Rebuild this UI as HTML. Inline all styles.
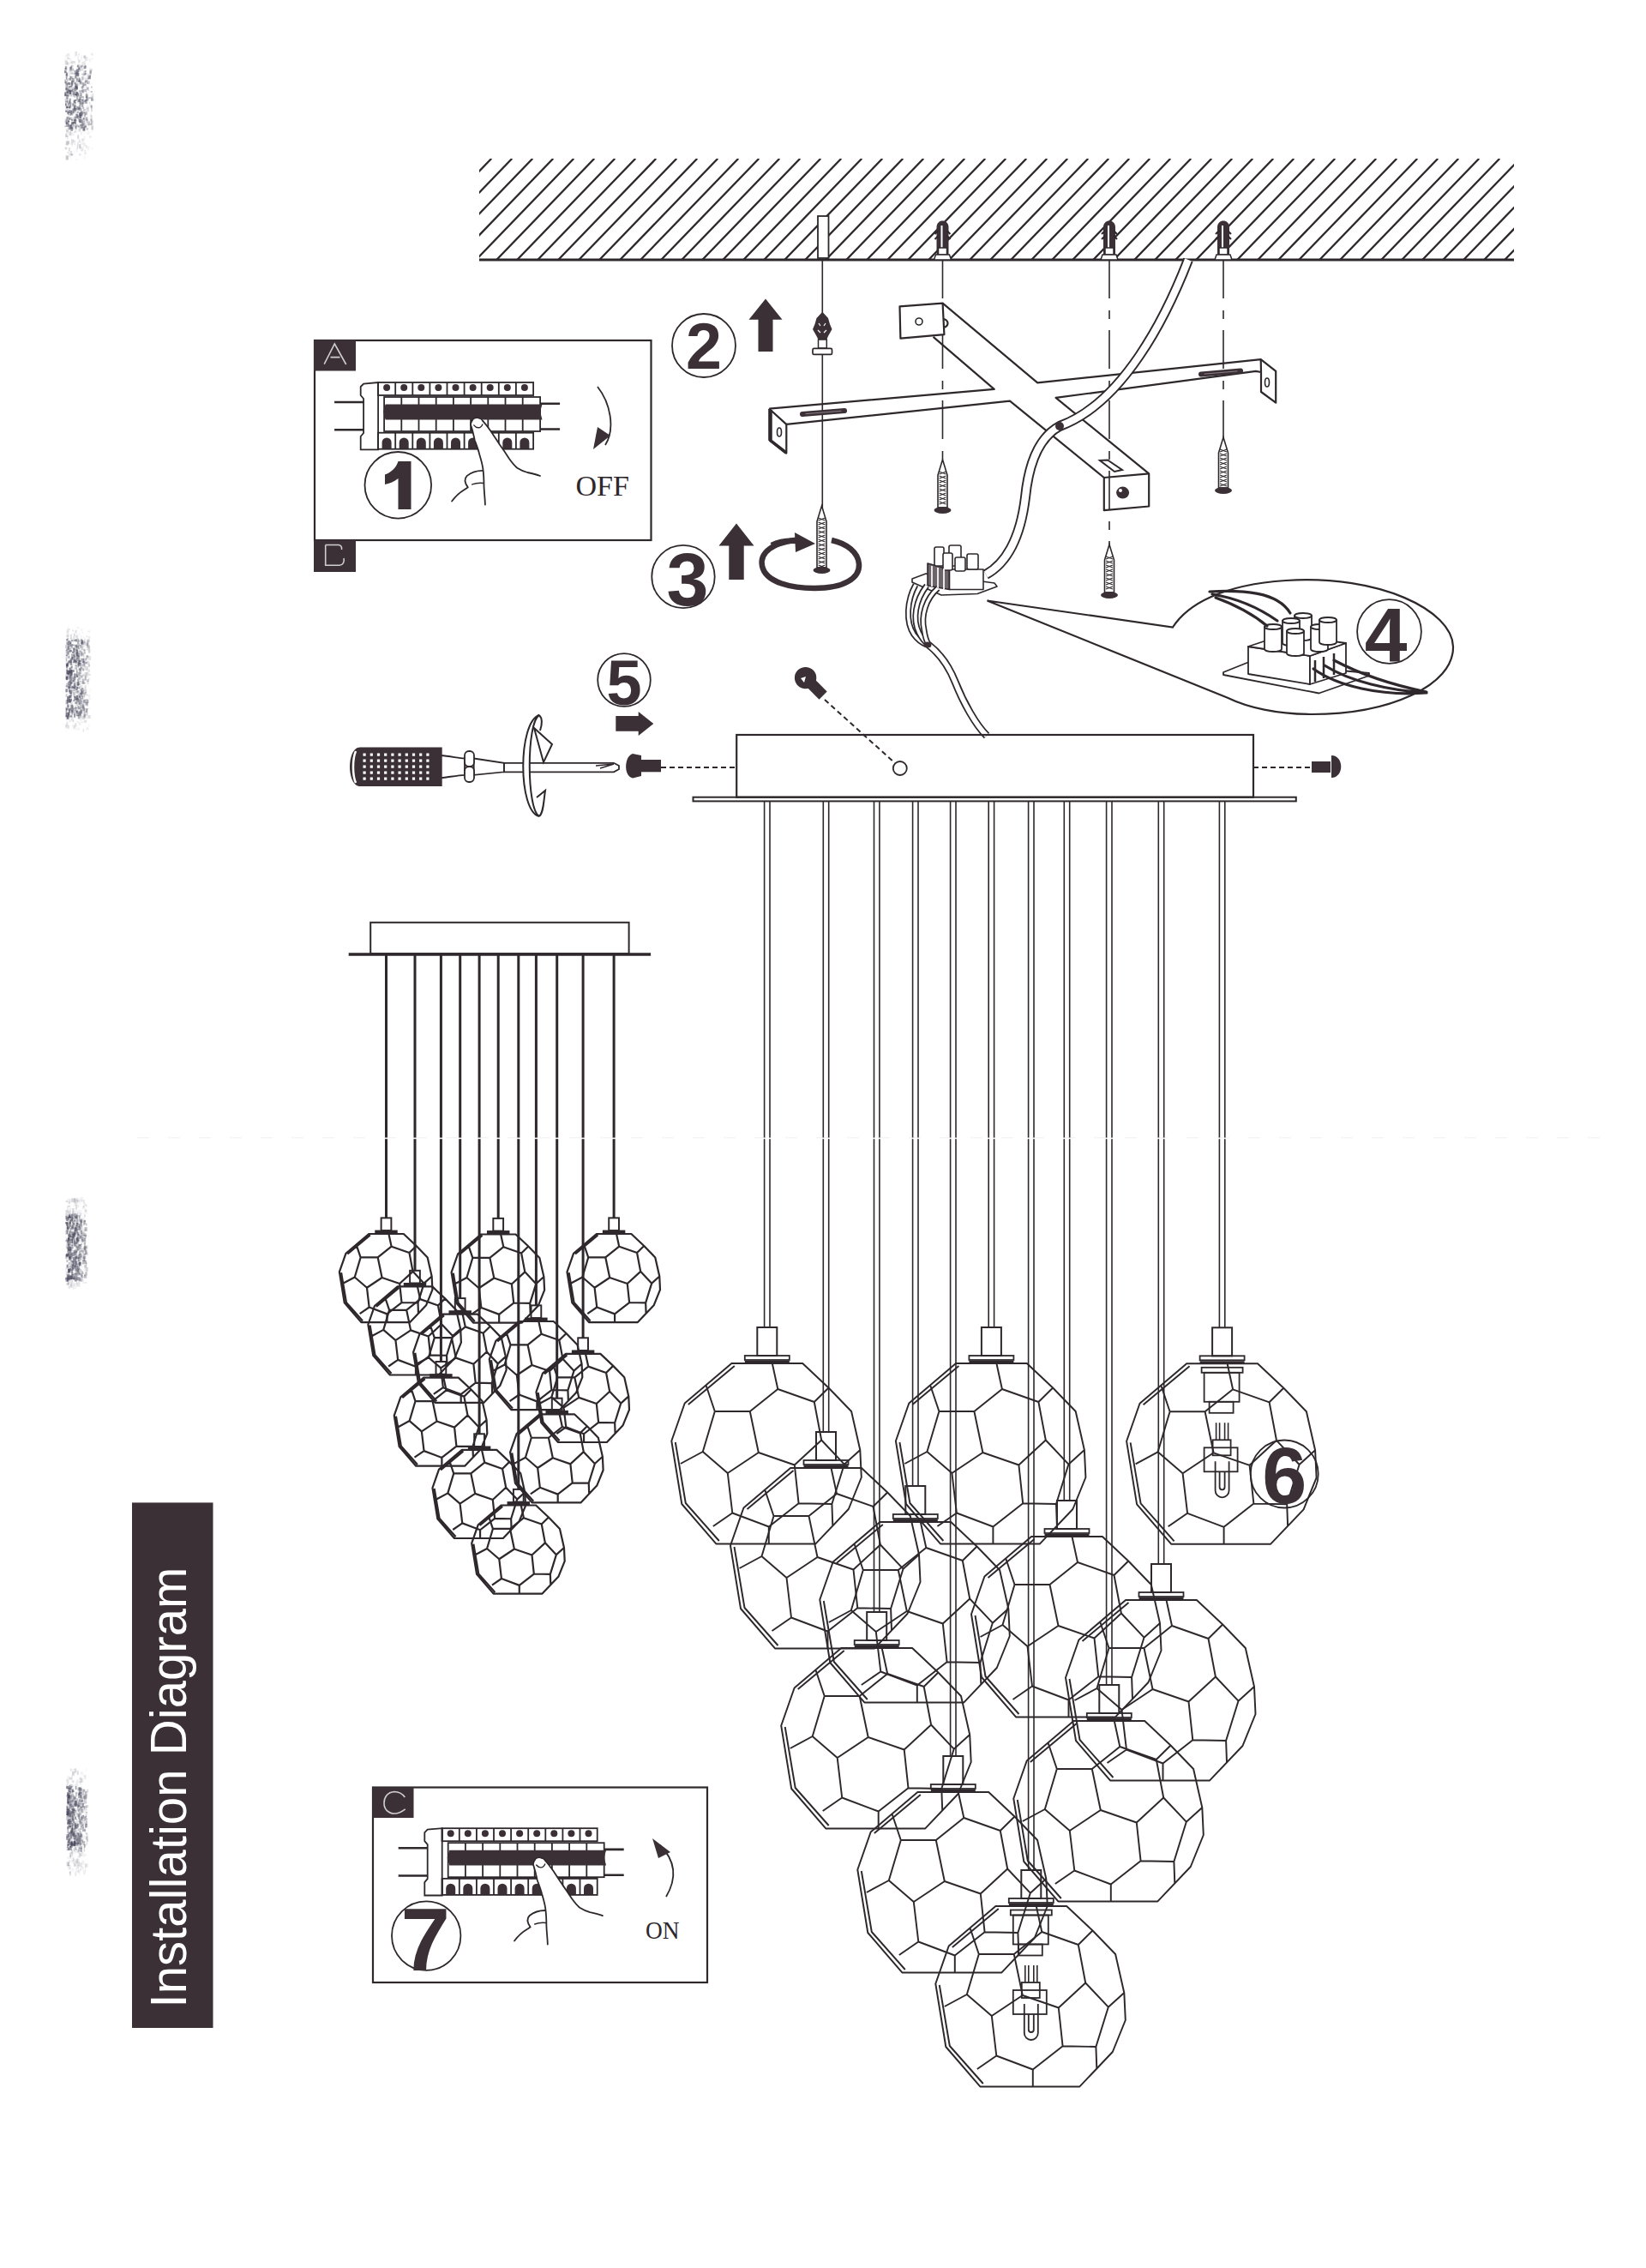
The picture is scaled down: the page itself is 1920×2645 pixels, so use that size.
<!DOCTYPE html><html><head><meta charset="utf-8"><style>html,body{margin:0;padding:0;background:#fff;}svg{display:block;}</style></head><body><svg width="1920" height="2645" viewBox="0 0 1920 2645"><defs><filter id="blur" x="-50%" y="-20%" width="200%" height="140%"><feGaussianBlur stdDeviation="2.5"/></filter></defs><rect width="1920" height="2645" fill="#ffffff"/><g fill="#4a4a5e"><rect x="79.8" y="100.5" width="1.5" height="2.0" fill-opacity="0.41"/><rect x="76.9" y="105.7" width="1.5" height="2.0" fill-opacity="0.33"/><rect x="77.2" y="114.2" width="2.5" height="2.0" fill-opacity="0.06"/><rect x="105.3" y="138.4" width="2.0" height="2.0" fill-opacity="0.15"/><rect x="79.3" y="129.6" width="3.0" height="2.0" fill-opacity="0.27"/><rect x="92.9" y="131.4" width="1.5" height="3.0" fill-opacity="0.34"/><rect x="92.5" y="106.5" width="1.5" height="3.0" fill-opacity="0.03"/><rect x="92.0" y="122.1" width="2.5" height="5.0" fill-opacity="0.39"/><rect x="82.9" y="105.2" width="2.0" height="2.0" fill-opacity="0.11"/><rect x="91.8" y="131.8" width="2.5" height="4.0" fill-opacity="0.45"/><rect x="77.3" y="136.1" width="2.0" height="4.0" fill-opacity="0.34"/><rect x="90.6" y="79.0" width="1.5" height="4.0" fill-opacity="0.02"/><rect x="86.2" y="102.5" width="2.5" height="2.0" fill-opacity="0.28"/><rect x="76.9" y="143.0" width="3.0" height="5.0" fill-opacity="0.46"/><rect x="87.3" y="95.6" width="1.5" height="5.0" fill-opacity="0.37"/><rect x="94.5" y="104.4" width="2.0" height="4.0" fill-opacity="0.24"/><rect x="82.9" y="76.2" width="2.5" height="2.0" fill-opacity="0.23"/><rect x="87.9" y="80.8" width="2.0" height="5.0" fill-opacity="0.15"/><rect x="103.3" y="104.8" width="2.0" height="3.0" fill-opacity="0.06"/><rect x="82.5" y="89.0" width="3.0" height="3.0" fill-opacity="0.29"/><rect x="75.1" y="92.8" width="2.0" height="4.0" fill-opacity="0.28"/><rect x="96.6" y="137.2" width="3.0" height="5.0" fill-opacity="0.02"/><rect x="87.6" y="109.8" width="2.5" height="2.0" fill-opacity="0.27"/><rect x="92.2" y="130.8" width="3.0" height="2.0" fill-opacity="0.48"/><rect x="105.6" y="139.3" width="1.5" height="5.0" fill-opacity="0.17"/><rect x="92.4" y="78.3" width="3.0" height="4.0" fill-opacity="0.01"/><rect x="80.3" y="105.8" width="3.0" height="4.0" fill-opacity="0.48"/><rect x="94.6" y="139.6" width="2.0" height="3.0" fill-opacity="0.38"/><rect x="86.4" y="124.7" width="1.5" height="4.0" fill-opacity="0.02"/><rect x="81.2" y="119.0" width="2.0" height="5.0" fill-opacity="0.37"/><rect x="85.8" y="118.8" width="3.0" height="2.0" fill-opacity="0.28"/><rect x="95.9" y="119.9" width="1.5" height="2.0" fill-opacity="0.37"/><rect x="105.3" y="110.2" width="2.0" height="2.0" fill-opacity="0.06"/><rect x="104.0" y="78.9" width="3.0" height="5.0" fill-opacity="0.06"/><rect x="86.2" y="142.2" width="2.0" height="2.0" fill-opacity="0.31"/><rect x="106.1" y="61.8" width="2.5" height="3.0" fill-opacity="0.11"/><rect x="82.7" y="96.6" width="2.0" height="5.0" fill-opacity="0.35"/><rect x="76.9" y="164.3" width="3.0" height="5.0" fill-opacity="0.19"/><rect x="91.3" y="79.0" width="2.0" height="2.0" fill-opacity="0.45"/><rect x="78.9" y="137.4" width="3.0" height="5.0" fill-opacity="0.04"/><rect x="83.9" y="91.1" width="3.0" height="5.0" fill-opacity="0.46"/><rect x="99.3" y="130.2" width="2.5" height="4.0" fill-opacity="0.39"/><rect x="91.2" y="136.6" width="2.0" height="5.0" fill-opacity="0.26"/><rect x="100.8" y="123.5" width="3.0" height="4.0" fill-opacity="0.10"/><rect x="88.3" y="115.9" width="2.0" height="2.0" fill-opacity="0.21"/><rect x="88.7" y="143.9" width="2.0" height="2.0" fill-opacity="0.12"/><rect x="79.9" y="172.1" width="2.0" height="4.0" fill-opacity="0.14"/><rect x="91.5" y="113.9" width="2.0" height="4.0" fill-opacity="0.17"/><rect x="98.1" y="99.8" width="3.0" height="5.0" fill-opacity="0.01"/><rect x="75.6" y="115.1" width="3.0" height="4.0" fill-opacity="0.22"/><rect x="77.1" y="124.0" width="2.0" height="2.0" fill-opacity="0.65"/><rect x="83.7" y="70.5" width="2.0" height="5.0" fill-opacity="0.04"/><rect x="96.6" y="166.2" width="3.0" height="5.0" fill-opacity="0.06"/><rect x="77.9" y="147.6" width="2.0" height="5.0" fill-opacity="0.04"/><rect x="83.3" y="71.1" width="2.0" height="2.0" fill-opacity="0.04"/><rect x="85.9" y="116.7" width="2.0" height="3.0" fill-opacity="0.32"/><rect x="97.7" y="65.4" width="2.0" height="2.0" fill-opacity="0.14"/><rect x="104.8" y="82.6" width="2.0" height="4.0" fill-opacity="0.20"/><rect x="96.5" y="115.7" width="1.5" height="4.0" fill-opacity="0.12"/><rect x="96.1" y="115.9" width="2.5" height="5.0" fill-opacity="0.30"/><rect x="81.4" y="88.7" width="2.0" height="5.0" fill-opacity="0.54"/><rect x="106.1" y="123.2" width="1.5" height="5.0" fill-opacity="0.25"/><rect x="83.6" y="83.2" width="2.0" height="4.0" fill-opacity="0.00"/><rect x="81.4" y="122.8" width="1.5" height="2.0" fill-opacity="0.31"/><rect x="77.9" y="93.0" width="1.5" height="5.0" fill-opacity="0.26"/><rect x="91.9" y="133.2" width="3.0" height="5.0" fill-opacity="0.38"/><rect x="94.8" y="95.5" width="3.0" height="5.0" fill-opacity="0.07"/><rect x="91.1" y="125.5" width="1.5" height="3.0" fill-opacity="0.43"/><rect x="76.3" y="70.6" width="2.5" height="5.0" fill-opacity="0.21"/><rect x="95.1" y="129.8" width="2.0" height="5.0" fill-opacity="0.30"/><rect x="89.6" y="93.0" width="3.0" height="2.0" fill-opacity="0.04"/><rect x="77.1" y="142.4" width="2.0" height="2.0" fill-opacity="0.49"/><rect x="82.5" y="165.8" width="2.5" height="5.0" fill-opacity="0.05"/><rect x="77.5" y="165.7" width="1.5" height="3.0" fill-opacity="0.06"/><rect x="97.1" y="144.0" width="2.0" height="4.0" fill-opacity="0.31"/><rect x="89.9" y="118.1" width="3.0" height="3.0" fill-opacity="0.06"/><rect x="77.7" y="99.0" width="2.0" height="5.0" fill-opacity="0.31"/><rect x="91.2" y="69.6" width="2.5" height="3.0" fill-opacity="0.17"/><rect x="94.3" y="104.9" width="2.0" height="2.0" fill-opacity="0.31"/><rect x="82.4" y="147.9" width="2.5" height="5.0" fill-opacity="0.54"/><rect x="84.7" y="116.3" width="2.0" height="5.0" fill-opacity="0.08"/><rect x="97.8" y="175.8" width="2.0" height="2.0" fill-opacity="0.04"/><rect x="107.0" y="109.1" width="2.5" height="4.0" fill-opacity="0.13"/><rect x="95.3" y="142.7" width="2.0" height="5.0" fill-opacity="0.07"/><rect x="81.1" y="123.9" width="2.5" height="2.0" fill-opacity="0.23"/><rect x="95.2" y="161.5" width="3.0" height="3.0" fill-opacity="0.15"/><rect x="76.6" y="149.9" width="2.0" height="4.0" fill-opacity="0.10"/><rect x="104.2" y="120.7" width="2.5" height="4.0" fill-opacity="0.07"/><rect x="83.2" y="95.2" width="2.0" height="5.0" fill-opacity="0.44"/><rect x="84.6" y="142.0" width="2.5" height="2.0" fill-opacity="0.32"/><rect x="80.2" y="80.9" width="2.5" height="3.0" fill-opacity="0.13"/><rect x="85.7" y="116.6" width="2.5" height="3.0" fill-opacity="0.43"/><rect x="82.8" y="128.5" width="3.0" height="2.0" fill-opacity="0.10"/><rect x="86.8" y="99.9" width="2.0" height="2.0" fill-opacity="0.45"/><rect x="87.1" y="125.5" width="1.5" height="5.0" fill-opacity="0.19"/><rect x="95.1" y="122.9" width="2.0" height="2.0" fill-opacity="0.41"/><rect x="83.0" y="93.9" width="2.5" height="5.0" fill-opacity="0.24"/><rect x="97.7" y="64.0" width="3.0" height="5.0" fill-opacity="0.07"/><rect x="87.5" y="60.0" width="2.5" height="5.0" fill-opacity="0.15"/><rect x="78.5" y="91.1" width="3.0" height="2.0" fill-opacity="0.10"/><rect x="98.1" y="177.7" width="2.5" height="2.0" fill-opacity="0.11"/><rect x="76.3" y="128.9" width="2.0" height="2.0" fill-opacity="0.52"/><rect x="84.7" y="140.7" width="2.0" height="5.0" fill-opacity="0.07"/><rect x="78.6" y="147.3" width="3.0" height="3.0" fill-opacity="0.05"/><rect x="82.2" y="108.5" width="1.5" height="4.0" fill-opacity="0.37"/><rect x="75.9" y="128.4" width="2.0" height="2.0" fill-opacity="0.27"/><rect x="90.9" y="62.7" width="2.0" height="3.0" fill-opacity="0.07"/><rect x="81.3" y="145.3" width="3.0" height="2.0" fill-opacity="0.49"/><rect x="84.4" y="155.1" width="2.0" height="3.0" fill-opacity="0.09"/><rect x="80.9" y="148.7" width="2.0" height="2.0" fill-opacity="0.28"/><rect x="104.9" y="83.2" width="2.5" height="4.0" fill-opacity="0.01"/><rect x="93.0" y="170.6" width="2.0" height="5.0" fill-opacity="0.06"/><rect x="89.3" y="127.7" width="2.5" height="2.0" fill-opacity="0.17"/><rect x="82.9" y="139.0" width="2.5" height="2.0" fill-opacity="0.37"/><rect x="89.8" y="106.9" width="1.5" height="4.0" fill-opacity="0.43"/><rect x="77.0" y="84.4" width="2.0" height="4.0" fill-opacity="0.40"/><rect x="97.1" y="153.3" width="3.0" height="2.0" fill-opacity="0.04"/><rect x="88.8" y="91.4" width="2.5" height="3.0" fill-opacity="0.27"/><rect x="79.8" y="146.5" width="2.0" height="5.0" fill-opacity="0.15"/><rect x="99.1" y="84.7" width="1.5" height="2.0" fill-opacity="0.11"/><rect x="92.4" y="120.2" width="2.5" height="2.0" fill-opacity="0.08"/><rect x="91.0" y="72.1" width="2.0" height="3.0" fill-opacity="0.08"/><rect x="94.8" y="112.1" width="3.0" height="2.0" fill-opacity="0.32"/><rect x="83.1" y="93.5" width="2.5" height="3.0" fill-opacity="0.16"/><rect x="82.5" y="83.2" width="3.0" height="3.0" fill-opacity="0.17"/><rect x="87.7" y="100.8" width="3.0" height="3.0" fill-opacity="0.55"/><rect x="78.2" y="141.2" width="1.5" height="2.0" fill-opacity="0.30"/><rect x="87.0" y="116.0" width="2.0" height="2.0" fill-opacity="0.49"/><rect x="94.2" y="66.3" width="1.5" height="4.0" fill-opacity="0.03"/><rect x="80.7" y="124.1" width="1.5" height="2.0" fill-opacity="0.38"/><rect x="97.7" y="139.7" width="1.5" height="4.0" fill-opacity="0.16"/><rect x="76.4" y="102.5" width="1.5" height="3.0" fill-opacity="0.66"/><rect x="94.9" y="106.5" width="1.5" height="5.0" fill-opacity="0.04"/><rect x="77.0" y="128.5" width="2.5" height="3.0" fill-opacity="0.07"/><rect x="77.9" y="139.9" width="2.0" height="5.0" fill-opacity="0.11"/><rect x="98.9" y="66.4" width="1.5" height="4.0" fill-opacity="0.06"/><rect x="87.5" y="140.6" width="1.5" height="5.0" fill-opacity="0.22"/><rect x="88.6" y="172.7" width="2.0" height="5.0" fill-opacity="0.07"/><rect x="104.7" y="131.6" width="2.0" height="4.0" fill-opacity="0.06"/><rect x="80.5" y="80.2" width="2.5" height="5.0" fill-opacity="0.04"/><rect x="76.4" y="164.7" width="3.0" height="5.0" fill-opacity="0.07"/><rect x="97.8" y="70.8" width="2.0" height="5.0" fill-opacity="0.13"/><rect x="81.3" y="136.8" width="3.0" height="3.0" fill-opacity="0.29"/><rect x="79.8" y="104.9" width="2.0" height="2.0" fill-opacity="0.61"/><rect x="102.0" y="170.5" width="2.5" height="5.0" fill-opacity="0.04"/><rect x="95.1" y="128.8" width="2.5" height="4.0" fill-opacity="0.15"/><rect x="88.6" y="132.8" width="2.5" height="5.0" fill-opacity="0.36"/><rect x="75.1" y="82.3" width="2.5" height="3.0" fill-opacity="0.65"/><rect x="94.8" y="115.9" width="2.0" height="5.0" fill-opacity="0.39"/><rect x="77.1" y="110.0" width="2.0" height="2.0" fill-opacity="0.24"/><rect x="91.1" y="160.3" width="2.0" height="2.0" fill-opacity="0.01"/><rect x="85.0" y="175.3" width="3.0" height="5.0" fill-opacity="0.02"/><rect x="94.7" y="68.3" width="2.0" height="5.0" fill-opacity="0.02"/><rect x="101.0" y="96.0" width="2.0" height="2.0" fill-opacity="0.29"/><rect x="94.6" y="100.5" width="2.5" height="3.0" fill-opacity="0.43"/><rect x="94.7" y="134.0" width="2.0" height="2.0" fill-opacity="0.11"/><rect x="87.9" y="84.9" width="2.0" height="4.0" fill-opacity="0.35"/><rect x="80.4" y="171.9" width="3.0" height="2.0" fill-opacity="0.02"/><rect x="86.5" y="139.5" width="3.0" height="2.0" fill-opacity="0.49"/><rect x="92.1" y="91.5" width="2.0" height="4.0" fill-opacity="0.43"/><rect x="86.8" y="107.0" width="2.0" height="2.0" fill-opacity="0.08"/><rect x="80.7" y="115.3" width="1.5" height="4.0" fill-opacity="0.46"/><rect x="83.1" y="162.5" width="3.0" height="4.0" fill-opacity="0.19"/><rect x="95.0" y="96.4" width="2.0" height="2.0" fill-opacity="0.20"/><rect x="82.3" y="76.5" width="1.5" height="2.0" fill-opacity="0.40"/><rect x="82.2" y="104.6" width="3.0" height="3.0" fill-opacity="0.35"/><rect x="95.0" y="85.5" width="2.0" height="2.0" fill-opacity="0.23"/><rect x="95.4" y="72.0" width="2.5" height="4.0" fill-opacity="0.12"/><rect x="76.8" y="180.9" width="3.0" height="5.0" fill-opacity="0.19"/><rect x="91.6" y="135.2" width="2.0" height="2.0" fill-opacity="0.25"/><rect x="76.9" y="89.7" width="1.5" height="3.0" fill-opacity="0.51"/><rect x="81.4" y="77.8" width="3.0" height="5.0" fill-opacity="0.37"/><rect x="76.6" y="97.5" width="2.5" height="2.0" fill-opacity="0.59"/><rect x="89.0" y="106.9" width="1.5" height="5.0" fill-opacity="0.49"/><rect x="78.9" y="140.5" width="2.0" height="2.0" fill-opacity="0.57"/><rect x="92.7" y="93.2" width="3.0" height="4.0" fill-opacity="0.22"/><rect x="104.7" y="97.0" width="3.0" height="2.0" fill-opacity="0.03"/><rect x="104.0" y="81.2" width="2.0" height="4.0" fill-opacity="0.08"/><rect x="87.4" y="84.0" width="2.5" height="5.0" fill-opacity="0.33"/><rect x="92.0" y="119.0" width="1.5" height="5.0" fill-opacity="0.00"/><rect x="82.5" y="179.5" width="2.5" height="2.0" fill-opacity="0.16"/><rect x="80.5" y="130.7" width="1.5" height="2.0" fill-opacity="0.02"/><rect x="80.2" y="137.7" width="1.5" height="2.0" fill-opacity="0.61"/><rect x="97.2" y="65.2" width="1.5" height="2.0" fill-opacity="0.10"/><rect x="92.1" y="179.3" width="2.5" height="2.0" fill-opacity="0.15"/><rect x="81.5" y="90.8" width="1.5" height="4.0" fill-opacity="0.02"/><rect x="79.2" y="119.6" width="2.0" height="4.0" fill-opacity="0.50"/><rect x="88.6" y="99.9" width="2.0" height="4.0" fill-opacity="0.01"/><rect x="99.3" y="66.1" width="3.0" height="5.0" fill-opacity="0.11"/><rect x="89.0" y="111.6" width="2.0" height="5.0" fill-opacity="0.42"/><rect x="92.2" y="148.1" width="1.5" height="4.0" fill-opacity="0.11"/><rect x="75.0" y="81.3" width="1.5" height="2.0" fill-opacity="0.13"/><rect x="78.1" y="103.5" width="2.0" height="5.0" fill-opacity="0.45"/><rect x="105.6" y="134.1" width="2.0" height="4.0" fill-opacity="0.21"/><rect x="105.0" y="80.7" width="3.0" height="2.0" fill-opacity="0.18"/><rect x="86.4" y="138.5" width="2.5" height="2.0" fill-opacity="0.23"/><rect x="95.7" y="112.8" width="2.0" height="4.0" fill-opacity="0.17"/><rect x="92.4" y="113.5" width="2.0" height="5.0" fill-opacity="0.09"/><rect x="94.0" y="75.9" width="3.0" height="2.0" fill-opacity="0.34"/><rect x="85.5" y="103.6" width="2.5" height="4.0" fill-opacity="0.09"/><rect x="89.0" y="81.2" width="3.0" height="3.0" fill-opacity="0.42"/><rect x="89.8" y="75.8" width="2.0" height="3.0" fill-opacity="0.47"/><rect x="99.2" y="93.4" width="3.0" height="3.0" fill-opacity="0.36"/><rect x="106.2" y="150.4" width="2.0" height="4.0" fill-opacity="0.04"/><rect x="83.3" y="179.5" width="2.0" height="2.0" fill-opacity="0.19"/><rect x="79.8" y="84.4" width="2.0" height="4.0" fill-opacity="0.09"/><rect x="81.3" y="114.4" width="1.5" height="4.0" fill-opacity="0.39"/><rect x="87.4" y="85.8" width="2.5" height="5.0" fill-opacity="0.02"/><rect x="91.0" y="146.7" width="2.5" height="2.0" fill-opacity="0.33"/><rect x="94.3" y="77.7" width="2.0" height="5.0" fill-opacity="0.20"/><rect x="93.8" y="147.6" width="2.0" height="3.0" fill-opacity="0.32"/><rect x="95.5" y="144.9" width="2.0" height="4.0" fill-opacity="0.21"/><rect x="78.1" y="138.5" width="2.5" height="3.0" fill-opacity="0.27"/><rect x="88.6" y="91.3" width="3.0" height="5.0" fill-opacity="0.25"/><rect x="96.2" y="124.8" width="2.0" height="2.0" fill-opacity="0.41"/><rect x="90.7" y="108.6" width="1.5" height="4.0" fill-opacity="0.51"/><rect x="80.1" y="127.9" width="2.0" height="4.0" fill-opacity="0.49"/><rect x="91.4" y="149.7" width="3.0" height="4.0" fill-opacity="0.14"/><rect x="87.6" y="145.5" width="1.5" height="4.0" fill-opacity="0.42"/><rect x="83.1" y="139.7" width="1.5" height="2.0" fill-opacity="0.23"/><rect x="104.3" y="69.4" width="1.5" height="3.0" fill-opacity="0.07"/><rect x="87.8" y="97.9" width="2.0" height="5.0" fill-opacity="0.52"/><rect x="80.3" y="117.8" width="1.5" height="3.0" fill-opacity="0.58"/><rect x="93.0" y="118.6" width="2.0" height="4.0" fill-opacity="0.11"/><rect x="101.6" y="143.3" width="2.0" height="3.0" fill-opacity="0.17"/><rect x="90.0" y="157.5" width="2.5" height="4.0" fill-opacity="0.04"/><rect x="85.3" y="141.8" width="3.0" height="2.0" fill-opacity="0.28"/><rect x="86.6" y="142.4" width="2.5" height="2.0" fill-opacity="0.52"/><rect x="96.0" y="132.8" width="1.5" height="4.0" fill-opacity="0.10"/><rect x="78.2" y="91.3" width="2.0" height="3.0" fill-opacity="0.09"/><rect x="94.5" y="171.4" width="3.0" height="4.0" fill-opacity="0.11"/><rect x="97.2" y="84.7" width="2.5" height="2.0" fill-opacity="0.24"/><rect x="83.5" y="129.4" width="2.0" height="5.0" fill-opacity="0.14"/><rect x="76.9" y="121.6" width="2.0" height="5.0" fill-opacity="0.31"/><rect x="80.3" y="90.8" width="1.5" height="3.0" fill-opacity="0.38"/><rect x="95.4" y="139.6" width="3.0" height="2.0" fill-opacity="0.01"/><rect x="76.1" y="172.2" width="2.0" height="2.0" fill-opacity="0.14"/><rect x="99.7" y="125.7" width="2.5" height="4.0" fill-opacity="0.09"/><rect x="92.7" y="112.8" width="2.0" height="4.0" fill-opacity="0.41"/><rect x="91.2" y="94.0" width="2.5" height="2.0" fill-opacity="0.50"/><rect x="85.1" y="101.4" width="3.0" height="2.0" fill-opacity="0.17"/><rect x="76.3" y="158.0" width="3.0" height="2.0" fill-opacity="0.19"/><rect x="78.5" y="109.8" width="2.5" height="2.0" fill-opacity="0.03"/><rect x="104.1" y="158.6" width="3.0" height="2.0" fill-opacity="0.08"/><rect x="96.3" y="86.6" width="2.0" height="2.0" fill-opacity="0.21"/><rect x="101.4" y="125.3" width="2.5" height="5.0" fill-opacity="0.17"/><rect x="103.7" y="119.0" width="1.5" height="2.0" fill-opacity="0.17"/><rect x="90.1" y="75.2" width="3.0" height="3.0" fill-opacity="0.15"/><rect x="98.8" y="116.3" width="2.0" height="3.0" fill-opacity="0.40"/><rect x="77.7" y="151.2" width="2.5" height="4.0" fill-opacity="0.15"/><rect x="103.3" y="67.6" width="2.0" height="3.0" fill-opacity="0.05"/><rect x="80.2" y="179.2" width="2.5" height="4.0" fill-opacity="0.10"/><rect x="106.2" y="67.6" width="3.0" height="2.0" fill-opacity="0.04"/><rect x="94.3" y="145.6" width="2.5" height="4.0" fill-opacity="0.43"/><rect x="85.3" y="146.1" width="2.0" height="2.0" fill-opacity="0.15"/><rect x="79.5" y="96.1" width="3.0" height="3.0" fill-opacity="0.57"/><rect x="102.2" y="94.2" width="2.5" height="4.0" fill-opacity="0.28"/><rect x="92.3" y="126.8" width="2.5" height="3.0" fill-opacity="0.24"/><rect x="98.1" y="158.5" width="1.5" height="5.0" fill-opacity="0.05"/><rect x="81.6" y="118.2" width="1.5" height="5.0" fill-opacity="0.16"/><rect x="77.8" y="117.5" width="1.5" height="3.0" fill-opacity="0.53"/><rect x="91.7" y="109.8" width="3.0" height="4.0" fill-opacity="0.13"/><rect x="93.9" y="119.6" width="2.0" height="2.0" fill-opacity="0.09"/><rect x="97.4" y="82.6" width="3.0" height="4.0" fill-opacity="0.16"/><rect x="91.6" y="110.3" width="1.5" height="5.0" fill-opacity="0.08"/><rect x="78.4" y="106.8" width="1.5" height="3.0" fill-opacity="0.41"/><rect x="76.0" y="99.5" width="3.0" height="2.0" fill-opacity="0.19"/><rect x="81.5" y="71.8" width="3.0" height="3.0" fill-opacity="0.11"/><rect x="99.9" y="92.7" width="2.5" height="3.0" fill-opacity="0.18"/><rect x="76.2" y="91.7" width="2.0" height="5.0" fill-opacity="0.13"/><rect x="89.7" y="168.8" width="1.5" height="5.0" fill-opacity="0.16"/><rect x="82.5" y="99.8" width="3.0" height="5.0" fill-opacity="0.05"/><rect x="98.1" y="89.4" width="2.0" height="4.0" fill-opacity="0.08"/><rect x="98.9" y="84.9" width="2.5" height="2.0" fill-opacity="0.26"/><rect x="86.9" y="118.8" width="2.0" height="5.0" fill-opacity="0.22"/><rect x="89.1" y="107.5" width="1.5" height="5.0" fill-opacity="0.43"/><rect x="82.1" y="176.0" width="2.0" height="5.0" fill-opacity="0.17"/><rect x="77.4" y="62.7" width="2.0" height="5.0" fill-opacity="0.07"/><rect x="82.9" y="112.3" width="3.0" height="4.0" fill-opacity="0.02"/><rect x="80.4" y="101.8" width="2.0" height="5.0" fill-opacity="0.31"/><rect x="78.7" y="172.9" width="2.0" height="5.0" fill-opacity="0.01"/><rect x="78.8" y="164.4" width="2.5" height="4.0" fill-opacity="0.20"/><rect x="84.4" y="150.8" width="3.0" height="4.0" fill-opacity="0.00"/><rect x="89.2" y="123.8" width="3.0" height="4.0" fill-opacity="0.42"/><rect x="88.9" y="83.2" width="2.0" height="4.0" fill-opacity="0.49"/><rect x="79.4" y="131.4" width="2.0" height="3.0" fill-opacity="0.11"/><rect x="77.5" y="84.6" width="3.0" height="5.0" fill-opacity="0.06"/><rect x="95.1" y="143.7" width="2.0" height="3.0" fill-opacity="0.09"/><rect x="84.0" y="103.5" width="2.5" height="2.0" fill-opacity="0.38"/><rect x="94.0" y="106.4" width="3.0" height="5.0" fill-opacity="0.00"/><rect x="101.6" y="90.6" width="2.5" height="2.0" fill-opacity="0.32"/><rect x="78.4" y="96.4" width="2.5" height="2.0" fill-opacity="0.47"/><rect x="92.2" y="126.3" width="1.5" height="3.0" fill-opacity="0.01"/><rect x="80.4" y="137.4" width="3.0" height="2.0" fill-opacity="0.20"/><rect x="89.2" y="89.8" width="1.5" height="3.0" fill-opacity="0.19"/><rect x="83.9" y="122.6" width="2.5" height="3.0" fill-opacity="0.07"/><rect x="82.3" y="127.7" width="3.0" height="5.0" fill-opacity="0.14"/><rect x="80.3" y="153.3" width="2.5" height="5.0" fill-opacity="0.19"/><rect x="94.3" y="134.6" width="1.5" height="4.0" fill-opacity="0.02"/><rect x="82.7" y="102.3" width="2.5" height="4.0" fill-opacity="0.20"/><rect x="105.7" y="124.7" width="2.5" height="2.0" fill-opacity="0.09"/><rect x="92.0" y="105.6" width="2.5" height="3.0" fill-opacity="0.04"/><rect x="75.7" y="123.1" width="2.5" height="5.0" fill-opacity="0.09"/><rect x="100.9" y="139.2" width="1.5" height="4.0" fill-opacity="0.37"/><rect x="95.0" y="174.7" width="1.5" height="2.0" fill-opacity="0.13"/><rect x="91.6" y="91.3" width="1.5" height="4.0" fill-opacity="0.22"/><rect x="105.7" y="67.5" width="3.0" height="3.0" fill-opacity="0.01"/><rect x="91.4" y="115.0" width="2.5" height="4.0" fill-opacity="0.45"/><rect x="98.5" y="94.3" width="2.0" height="5.0" fill-opacity="0.33"/><rect x="93.2" y="136.2" width="2.0" height="4.0" fill-opacity="0.32"/><rect x="92.5" y="117.6" width="2.5" height="4.0" fill-opacity="0.31"/><rect x="80.2" y="175.5" width="2.0" height="5.0" fill-opacity="0.07"/><rect x="86.1" y="135.7" width="3.0" height="5.0" fill-opacity="0.37"/><rect x="86.3" y="164.3" width="2.0" height="5.0" fill-opacity="0.10"/><rect x="86.3" y="102.1" width="3.0" height="4.0" fill-opacity="0.38"/><rect x="91.6" y="162.6" width="2.5" height="4.0" fill-opacity="0.12"/><rect x="97.7" y="158.1" width="1.5" height="2.0" fill-opacity="0.02"/><rect x="92.6" y="111.3" width="2.5" height="3.0" fill-opacity="0.06"/><rect x="100.1" y="112.2" width="2.5" height="5.0" fill-opacity="0.26"/><rect x="84.2" y="146.6" width="2.0" height="5.0" fill-opacity="0.21"/><rect x="94.1" y="125.8" width="1.5" height="5.0" fill-opacity="0.32"/><rect x="84.6" y="107.6" width="2.0" height="5.0" fill-opacity="0.31"/><rect x="93.6" y="131.9" width="2.0" height="4.0" fill-opacity="0.04"/><rect x="106.1" y="100.7" width="1.5" height="2.0" fill-opacity="0.35"/><rect x="85.0" y="127.1" width="2.5" height="5.0" fill-opacity="0.36"/><rect x="86.4" y="108.7" width="2.0" height="5.0" fill-opacity="0.34"/><rect x="93.4" y="130.2" width="2.5" height="5.0" fill-opacity="0.43"/><rect x="99.6" y="110.2" width="3.0" height="4.0" fill-opacity="0.39"/><rect x="98.9" y="146.4" width="2.0" height="4.0" fill-opacity="0.04"/><rect x="77.4" y="105.8" width="2.0" height="2.0" fill-opacity="0.20"/><rect x="84.4" y="142.0" width="3.0" height="5.0" fill-opacity="0.20"/><rect x="91.8" y="138.9" width="2.0" height="3.0" fill-opacity="0.42"/><rect x="76.9" y="111.5" width="1.5" height="4.0" fill-opacity="0.37"/><rect x="95.2" y="131.2" width="2.5" height="2.0" fill-opacity="0.34"/><rect x="84.8" y="158.5" width="2.0" height="5.0" fill-opacity="0.00"/><rect x="93.8" y="165.3" width="2.5" height="4.0" fill-opacity="0.03"/><rect x="81.4" y="78.0" width="2.0" height="3.0" fill-opacity="0.37"/><rect x="91.3" y="124.8" width="1.5" height="3.0" fill-opacity="0.01"/><rect x="100.6" y="113.8" width="3.0" height="4.0" fill-opacity="0.29"/><rect x="82.6" y="78.0" width="1.5" height="4.0" fill-opacity="0.17"/><rect x="102.5" y="138.6" width="2.0" height="5.0" fill-opacity="0.03"/><rect x="75.6" y="138.0" width="2.5" height="2.0" fill-opacity="0.15"/><rect x="94.8" y="115.0" width="1.5" height="3.0" fill-opacity="0.12"/><rect x="90.5" y="169.4" width="2.0" height="3.0" fill-opacity="0.04"/><rect x="81.0" y="104.8" width="2.0" height="5.0" fill-opacity="0.60"/><rect x="78.7" y="130.2" width="2.5" height="4.0" fill-opacity="0.34"/><rect x="77.1" y="110.4" width="2.0" height="3.0" fill-opacity="0.08"/><rect x="89.9" y="108.4" width="2.5" height="2.0" fill-opacity="0.18"/><rect x="75.8" y="94.9" width="2.0" height="3.0" fill-opacity="0.53"/><rect x="83.6" y="71.6" width="2.5" height="5.0" fill-opacity="0.02"/><rect x="98.1" y="104.1" width="3.0" height="3.0" fill-opacity="0.17"/><rect x="90.2" y="97.2" width="2.5" height="3.0" fill-opacity="0.11"/><rect x="106.7" y="115.0" width="3.0" height="3.0" fill-opacity="0.14"/><rect x="99.0" y="75.7" width="1.5" height="4.0" fill-opacity="0.30"/><rect x="97.2" y="148.8" width="2.0" height="4.0" fill-opacity="0.35"/><rect x="89.9" y="165.5" width="2.0" height="4.0" fill-opacity="0.11"/><rect x="86.7" y="82.0" width="2.0" height="5.0" fill-opacity="0.45"/><rect x="87.8" y="185.0" width="2.0" height="2.0" fill-opacity="0.02"/><rect x="94.5" y="93.9" width="1.5" height="5.0" fill-opacity="0.11"/><rect x="87.2" y="97.9" width="2.0" height="3.0" fill-opacity="0.02"/><rect x="82.3" y="130.6" width="3.0" height="4.0" fill-opacity="0.30"/><rect x="78.6" y="177.0" width="1.5" height="2.0" fill-opacity="0.14"/><rect x="99.9" y="99.8" width="1.5" height="5.0" fill-opacity="0.15"/><rect x="87.6" y="146.8" width="2.0" height="4.0" fill-opacity="0.41"/><rect x="86.2" y="125.9" width="2.5" height="4.0" fill-opacity="0.54"/><rect x="98.6" y="146.5" width="2.5" height="2.0" fill-opacity="0.36"/><rect x="81.6" y="144.6" width="2.0" height="5.0" fill-opacity="0.41"/><rect x="76.4" y="155.2" width="2.0" height="3.0" fill-opacity="0.17"/><rect x="106.0" y="128.3" width="2.0" height="2.0" fill-opacity="0.20"/><rect x="86.1" y="81.0" width="2.0" height="3.0" fill-opacity="0.05"/><rect x="97.6" y="77.1" width="2.0" height="3.0" fill-opacity="0.30"/><rect x="97.3" y="140.1" width="2.0" height="3.0" fill-opacity="0.06"/><rect x="101.1" y="101.7" width="2.0" height="3.0" fill-opacity="0.32"/><rect x="89.8" y="134.8" width="2.0" height="2.0" fill-opacity="0.41"/><rect x="75.4" y="146.3" width="1.5" height="2.0" fill-opacity="0.32"/><rect x="93.2" y="115.6" width="3.0" height="2.0" fill-opacity="0.14"/><rect x="90.0" y="65.7" width="2.0" height="4.0" fill-opacity="0.08"/><rect x="92.4" y="83.7" width="1.5" height="4.0" fill-opacity="0.00"/><rect x="104.9" y="138.5" width="2.0" height="2.0" fill-opacity="0.09"/><rect x="75.9" y="77.3" width="2.0" height="4.0" fill-opacity="0.51"/><rect x="105.8" y="106.0" width="2.0" height="2.0" fill-opacity="0.33"/><rect x="92.6" y="106.1" width="2.0" height="3.0" fill-opacity="0.18"/><rect x="78.4" y="67.2" width="2.5" height="2.0" fill-opacity="0.19"/><rect x="84.6" y="79.7" width="1.5" height="3.0" fill-opacity="0.34"/><rect x="80.2" y="146.0" width="2.5" height="2.0" fill-opacity="0.28"/><rect x="86.9" y="87.3" width="3.0" height="5.0" fill-opacity="0.02"/><rect x="77.3" y="77.9" width="2.5" height="4.0" fill-opacity="0.04"/><rect x="75.3" y="67.8" width="2.0" height="5.0" fill-opacity="0.04"/><rect x="89.2" y="97.0" width="2.0" height="3.0" fill-opacity="0.30"/><rect x="92.4" y="118.6" width="2.5" height="3.0" fill-opacity="0.26"/><rect x="105.8" y="181.8" width="2.0" height="4.0" fill-opacity="0.01"/><rect x="88.5" y="130.6" width="2.0" height="4.0" fill-opacity="0.20"/><rect x="92.0" y="168.2" width="2.0" height="5.0" fill-opacity="0.14"/><rect x="79.7" y="146.4" width="3.0" height="5.0" fill-opacity="0.37"/><rect x="82.7" y="105.0" width="2.0" height="2.0" fill-opacity="0.27"/><rect x="82.1" y="153.7" width="2.0" height="4.0" fill-opacity="0.13"/><rect x="82.3" y="148.6" width="3.0" height="2.0" fill-opacity="0.28"/><rect x="96.7" y="166.4" width="3.0" height="2.0" fill-opacity="0.02"/><rect x="105.7" y="138.3" width="2.5" height="3.0" fill-opacity="0.17"/><rect x="86.9" y="71.6" width="1.5" height="4.0" fill-opacity="0.07"/><rect x="97.5" y="65.2" width="1.5" height="3.0" fill-opacity="0.07"/><rect x="103.4" y="113.2" width="3.0" height="2.0" fill-opacity="0.34"/><rect x="85.9" y="153.2" width="2.0" height="2.0" fill-opacity="0.13"/><rect x="91.4" y="89.9" width="2.0" height="5.0" fill-opacity="0.27"/><rect x="89.3" y="84.1" width="3.0" height="5.0" fill-opacity="0.45"/><rect x="97.0" y="96.3" width="2.0" height="4.0" fill-opacity="0.17"/><rect x="97.1" y="127.3" width="2.5" height="2.0" fill-opacity="0.37"/><rect x="76.0" y="120.5" width="1.5" height="3.0" fill-opacity="0.55"/><rect x="95.6" y="137.6" width="2.5" height="3.0" fill-opacity="0.28"/><rect x="89.4" y="146.6" width="3.0" height="2.0" fill-opacity="0.12"/><rect x="91.9" y="105.1" width="2.0" height="2.0" fill-opacity="0.16"/><rect x="101.2" y="86.4" width="2.5" height="5.0" fill-opacity="0.14"/><rect x="82.3" y="120.4" width="3.0" height="2.0" fill-opacity="0.15"/><rect x="98.3" y="138.9" width="2.5" height="4.0" fill-opacity="0.06"/><rect x="93.7" y="131.7" width="1.5" height="2.0" fill-opacity="0.07"/><rect x="99.8" y="169.0" width="2.0" height="4.0" fill-opacity="0.09"/><rect x="82.6" y="159.1" width="1.5" height="4.0" fill-opacity="0.03"/><rect x="82.8" y="166.7" width="2.0" height="2.0" fill-opacity="0.14"/><rect x="96.5" y="148.0" width="2.5" height="4.0" fill-opacity="0.41"/><rect x="103.4" y="85.7" width="2.5" height="4.0" fill-opacity="0.16"/><rect x="104.6" y="83.8" width="2.0" height="5.0" fill-opacity="0.12"/><rect x="99.8" y="104.6" width="1.5" height="5.0" fill-opacity="0.18"/><rect x="80.6" y="99.9" width="3.0" height="2.0" fill-opacity="0.56"/><rect x="76.6" y="76.1" width="3.0" height="4.0" fill-opacity="0.05"/><rect x="75.5" y="140.3" width="1.5" height="3.0" fill-opacity="0.21"/><rect x="94.5" y="120.8" width="2.0" height="2.0" fill-opacity="0.39"/><rect x="99.8" y="136.6" width="2.5" height="4.0" fill-opacity="0.42"/><rect x="95.9" y="99.6" width="2.5" height="4.0" fill-opacity="0.15"/><rect x="75.6" y="79.6" width="3.0" height="2.0" fill-opacity="0.14"/><rect x="86.6" y="104.7" width="3.0" height="3.0" fill-opacity="0.19"/><rect x="94.3" y="142.2" width="3.0" height="4.0" fill-opacity="0.16"/><rect x="95.9" y="140.9" width="2.5" height="4.0" fill-opacity="0.26"/><rect x="91.9" y="105.2" width="2.0" height="2.0" fill-opacity="0.14"/><rect x="78.2" y="129.8" width="2.0" height="3.0" fill-opacity="0.52"/><rect x="82.3" y="183.7" width="1.5" height="3.0" fill-opacity="0.02"/><rect x="92.4" y="75.3" width="2.0" height="4.0" fill-opacity="0.10"/><rect x="98.6" y="82.2" width="2.0" height="2.0" fill-opacity="0.41"/><rect x="97.7" y="103.9" width="2.5" height="3.0" fill-opacity="0.20"/><rect x="86.0" y="139.5" width="2.5" height="3.0" fill-opacity="0.45"/><rect x="77.1" y="151.7" width="2.0" height="2.0" fill-opacity="0.09"/><rect x="87.0" y="88.5" width="2.5" height="3.0" fill-opacity="0.51"/><rect x="75.7" y="63.8" width="2.0" height="3.0" fill-opacity="0.05"/><rect x="88.6" y="100.8" width="2.5" height="3.0" fill-opacity="0.15"/><rect x="99.6" y="176.7" width="2.0" height="4.0" fill-opacity="0.02"/><rect x="75.1" y="71.1" width="2.0" height="5.0" fill-opacity="0.05"/><rect x="76.7" y="86.5" width="2.0" height="2.0" fill-opacity="0.52"/><rect x="78.6" y="63.1" width="2.0" height="3.0" fill-opacity="0.00"/><rect x="86.3" y="122.8" width="2.5" height="5.0" fill-opacity="0.43"/><rect x="85.9" y="71.3" width="2.0" height="2.0" fill-opacity="0.13"/><rect x="81.4" y="133.2" width="1.5" height="2.0" fill-opacity="0.39"/><rect x="94.0" y="76.9" width="1.5" height="2.0" fill-opacity="0.28"/><rect x="105.6" y="73.8" width="2.0" height="3.0" fill-opacity="0.00"/><rect x="92.5" y="139.2" width="3.0" height="4.0" fill-opacity="0.50"/><rect x="76.3" y="100.7" width="2.0" height="4.0" fill-opacity="0.30"/><rect x="106.4" y="146.3" width="2.5" height="5.0" fill-opacity="0.26"/><rect x="88.4" y="99.8" width="2.5" height="5.0" fill-opacity="0.53"/><rect x="100.7" y="170.2" width="3.0" height="4.0" fill-opacity="0.03"/><rect x="98.4" y="146.7" width="2.0" height="2.0" fill-opacity="0.44"/><rect x="89.2" y="145.6" width="2.5" height="2.0" fill-opacity="0.36"/><rect x="95.7" y="119.2" width="2.0" height="5.0" fill-opacity="0.22"/><rect x="95.1" y="89.3" width="2.5" height="4.0" fill-opacity="0.35"/><rect x="96.7" y="136.6" width="3.0" height="3.0" fill-opacity="0.15"/><rect x="93.3" y="133.7" width="1.5" height="4.0" fill-opacity="0.49"/><rect x="91.9" y="125.5" width="2.0" height="3.0" fill-opacity="0.41"/><rect x="96.2" y="79.1" width="1.5" height="4.0" fill-opacity="0.08"/><rect x="101.6" y="107.7" width="2.0" height="4.0" fill-opacity="0.05"/><rect x="86.7" y="106.9" width="3.0" height="4.0" fill-opacity="0.37"/><rect x="77.8" y="116.6" width="2.5" height="2.0" fill-opacity="0.26"/><rect x="90.3" y="116.2" width="3.0" height="3.0" fill-opacity="0.42"/><rect x="94.9" y="142.5" width="2.5" height="4.0" fill-opacity="0.25"/><rect x="80.7" y="67.2" width="2.0" height="4.0" fill-opacity="0.06"/><rect x="100.4" y="112.9" width="1.5" height="5.0" fill-opacity="0.16"/><rect x="76.3" y="107.0" width="2.5" height="5.0" fill-opacity="0.50"/><rect x="93.5" y="108.2" width="2.0" height="4.0" fill-opacity="0.45"/><rect x="81.5" y="67.9" width="2.5" height="5.0" fill-opacity="0.02"/><rect x="88.3" y="109.2" width="1.5" height="2.0" fill-opacity="0.51"/><rect x="89.8" y="134.1" width="2.5" height="5.0" fill-opacity="0.24"/><rect x="79.3" y="109.7" width="1.5" height="3.0" fill-opacity="0.48"/><rect x="92.7" y="145.0" width="2.5" height="2.0" fill-opacity="0.38"/><rect x="90.9" y="61.9" width="2.5" height="2.0" fill-opacity="0.04"/><rect x="92.6" y="167.9" width="2.0" height="5.0" fill-opacity="0.14"/><rect x="91.6" y="101.8" width="3.0" height="4.0" fill-opacity="0.00"/><rect x="77.8" y="125.0" width="2.0" height="5.0" fill-opacity="0.25"/><rect x="88.4" y="123.9" width="2.0" height="3.0" fill-opacity="0.03"/><rect x="76.7" y="85.3" width="2.0" height="5.0" fill-opacity="0.35"/><rect x="97.7" y="142.0" width="2.0" height="3.0" fill-opacity="0.06"/><rect x="97.6" y="117.1" width="2.0" height="2.0" fill-opacity="0.30"/><rect x="88.1" y="126.6" width="2.0" height="2.0" fill-opacity="0.31"/><rect x="100.7" y="148.8" width="2.5" height="3.0" fill-opacity="0.19"/><rect x="76.6" y="139.9" width="1.5" height="5.0" fill-opacity="0.57"/><rect x="104.5" y="82.5" width="2.5" height="3.0" fill-opacity="0.30"/><rect x="96.6" y="144.2" width="2.0" height="3.0" fill-opacity="0.14"/><rect x="78.0" y="72.6" width="2.5" height="3.0" fill-opacity="0.20"/><rect x="83.2" y="142.4" width="2.5" height="3.0" fill-opacity="0.54"/><rect x="89.3" y="80.0" width="3.0" height="4.0" fill-opacity="0.41"/><rect x="98.0" y="148.4" width="2.0" height="4.0" fill-opacity="0.14"/><rect x="81.9" y="128.6" width="2.0" height="5.0" fill-opacity="0.58"/><rect x="96.0" y="96.4" width="2.0" height="5.0" fill-opacity="0.32"/><rect x="80.9" y="78.6" width="2.5" height="2.0" fill-opacity="0.21"/><rect x="86.3" y="64.9" width="3.0" height="2.0" fill-opacity="0.04"/><rect x="86.1" y="96.3" width="2.5" height="2.0" fill-opacity="0.43"/><rect x="84.0" y="85.1" width="3.0" height="2.0" fill-opacity="0.18"/><rect x="90.1" y="85.2" width="2.0" height="4.0" fill-opacity="0.40"/><rect x="94.2" y="64.1" width="2.0" height="4.0" fill-opacity="0.05"/><rect x="98.8" y="90.9" width="2.0" height="2.0" fill-opacity="0.08"/><rect x="89.6" y="150.5" width="2.0" height="5.0" fill-opacity="0.02"/><rect x="76.1" y="117.7" width="1.5" height="5.0" fill-opacity="0.34"/><rect x="79.2" y="140.9" width="2.0" height="2.0" fill-opacity="0.37"/><rect x="96.2" y="106.8" width="2.0" height="2.0" fill-opacity="0.08"/><rect x="102.0" y="101.5" width="2.0" height="4.0" fill-opacity="0.19"/><rect x="92.2" y="122.0" width="2.5" height="3.0" fill-opacity="0.06"/><rect x="92.1" y="80.5" width="2.0" height="3.0" fill-opacity="0.26"/><rect x="92.8" y="95.4" width="2.0" height="3.0" fill-opacity="0.49"/><rect x="75.5" y="171.3" width="3.0" height="3.0" fill-opacity="0.11"/><rect x="82.3" y="146.1" width="2.0" height="4.0" fill-opacity="0.45"/><rect x="88.6" y="184.8" width="3.0" height="2.0" fill-opacity="0.02"/><rect x="100.1" y="134.4" width="2.0" height="2.0" fill-opacity="0.03"/><rect x="97.1" y="137.3" width="2.0" height="2.0" fill-opacity="0.37"/><rect x="89.8" y="161.3" width="2.5" height="5.0" fill-opacity="0.00"/><rect x="80.3" y="123.9" width="2.0" height="3.0" fill-opacity="0.50"/><rect x="82.0" y="84.8" width="1.5" height="2.0" fill-opacity="0.20"/><rect x="104.1" y="157.4" width="1.5" height="4.0" fill-opacity="0.03"/><rect x="78.0" y="158.3" width="2.0" height="5.0" fill-opacity="0.07"/><rect x="98.9" y="144.1" width="2.0" height="2.0" fill-opacity="0.06"/><rect x="101.6" y="153.1" width="3.0" height="4.0" fill-opacity="0.06"/><rect x="94.0" y="153.5" width="1.5" height="4.0" fill-opacity="0.10"/><rect x="93.0" y="133.5" width="3.0" height="2.0" fill-opacity="0.44"/><rect x="100.1" y="109.0" width="2.0" height="5.0" fill-opacity="0.29"/><rect x="77.8" y="110.8" width="2.0" height="5.0" fill-opacity="0.43"/><rect x="78.5" y="62.0" width="3.0" height="4.0" fill-opacity="0.09"/><rect x="85.7" y="117.2" width="2.0" height="5.0" fill-opacity="0.12"/><rect x="83.7" y="71.0" width="3.0" height="3.0" fill-opacity="0.09"/><rect x="96.9" y="75.1" width="2.0" height="5.0" fill-opacity="0.02"/><rect x="103.5" y="88.0" width="2.5" height="4.0" fill-opacity="0.35"/><rect x="105.6" y="122.5" width="2.0" height="3.0" fill-opacity="0.36"/><rect x="75.3" y="108.9" width="1.5" height="3.0" fill-opacity="0.56"/><rect x="78.2" y="104.0" width="3.0" height="5.0" fill-opacity="0.36"/><rect x="99.1" y="76.9" width="2.5" height="2.0" fill-opacity="0.11"/><rect x="85.6" y="124.3" width="2.0" height="4.0" fill-opacity="0.15"/><rect x="97.7" y="98.2" width="3.0" height="2.0" fill-opacity="0.31"/><rect x="76.8" y="182.0" width="3.0" height="5.0" fill-opacity="0.15"/><rect x="99.0" y="116.0" width="3.0" height="5.0" fill-opacity="0.39"/><rect x="93.5" y="133.4" width="2.5" height="3.0" fill-opacity="0.02"/><rect x="106.3" y="112.6" width="2.5" height="5.0" fill-opacity="0.29"/><rect x="97.7" y="180.4" width="2.0" height="5.0" fill-opacity="0.04"/><rect x="91.5" y="77.5" width="2.0" height="4.0" fill-opacity="0.45"/><rect x="89.0" y="100.1" width="2.0" height="4.0" fill-opacity="0.06"/><rect x="87.3" y="109.2" width="2.0" height="2.0" fill-opacity="0.53"/><rect x="95.4" y="164.6" width="2.0" height="4.0" fill-opacity="0.05"/><rect x="99.1" y="143.8" width="2.0" height="5.0" fill-opacity="0.12"/><rect x="84.2" y="126.2" width="2.0" height="5.0" fill-opacity="0.37"/><rect x="76.3" y="156.4" width="2.0" height="4.0" fill-opacity="0.12"/><rect x="82.8" y="93.2" width="3.0" height="2.0" fill-opacity="0.04"/><rect x="106.0" y="140.6" width="2.5" height="5.0" fill-opacity="0.25"/><rect x="85.8" y="122.5" width="2.0" height="5.0" fill-opacity="0.49"/><rect x="77.1" y="102.3" width="3.0" height="2.0" fill-opacity="0.27"/><rect x="93.4" y="110.5" width="2.0" height="3.0" fill-opacity="0.14"/><rect x="84.0" y="75.6" width="2.5" height="4.0" fill-opacity="0.02"/><rect x="97.5" y="76.4" width="3.0" height="4.0" fill-opacity="0.32"/><rect x="99.7" y="149.0" width="3.0" height="3.0" fill-opacity="0.07"/><rect x="84.4" y="120.5" width="2.0" height="3.0" fill-opacity="0.55"/><rect x="88.6" y="123.1" width="2.0" height="2.0" fill-opacity="0.03"/><rect x="87.8" y="133.1" width="3.0" height="5.0" fill-opacity="0.28"/><rect x="102.8" y="88.3" width="3.0" height="4.0" fill-opacity="0.32"/><rect x="83.1" y="142.2" width="3.0" height="3.0" fill-opacity="0.38"/><rect x="106.0" y="113.9" width="2.0" height="4.0" fill-opacity="0.23"/><rect x="78.6" y="137.0" width="2.0" height="2.0" fill-opacity="0.11"/><rect x="97.5" y="84.7" width="2.0" height="3.0" fill-opacity="0.09"/><rect x="97.4" y="130.0" width="1.5" height="2.0" fill-opacity="0.44"/><rect x="98.1" y="167.9" width="2.0" height="3.0" fill-opacity="0.04"/><rect x="85.1" y="130.7" width="1.5" height="2.0" fill-opacity="0.20"/><rect x="97.8" y="63.7" width="2.0" height="4.0" fill-opacity="0.05"/><rect x="90.1" y="157.2" width="2.0" height="5.0" fill-opacity="0.16"/><rect x="106.2" y="172.2" width="2.5" height="3.0" fill-opacity="0.03"/><rect x="96.0" y="104.2" width="2.0" height="4.0" fill-opacity="0.44"/><rect x="87.3" y="151.6" width="2.0" height="3.0" fill-opacity="0.15"/><rect x="75.3" y="107.4" width="1.5" height="5.0" fill-opacity="0.55"/><rect x="89.8" y="129.9" width="2.0" height="2.0" fill-opacity="0.41"/><rect x="89.6" y="85.0" width="2.5" height="2.0" fill-opacity="0.31"/><rect x="98.0" y="131.3" width="2.0" height="5.0" fill-opacity="0.38"/><rect x="102.6" y="141.5" width="2.5" height="5.0" fill-opacity="0.29"/><rect x="78.8" y="135.7" width="2.5" height="2.0" fill-opacity="0.32"/><rect x="100.6" y="147.5" width="3.0" height="3.0" fill-opacity="0.00"/><rect x="98.7" y="139.2" width="1.5" height="3.0" fill-opacity="0.02"/><rect x="104.8" y="144.0" width="2.0" height="2.0" fill-opacity="0.35"/><rect x="75.6" y="79.2" width="1.5" height="2.0" fill-opacity="0.50"/><rect x="78.4" y="124.0" width="2.5" height="2.0" fill-opacity="0.51"/><rect x="76.0" y="69.0" width="3.0" height="2.0" fill-opacity="0.02"/><rect x="96.2" y="148.2" width="2.5" height="5.0" fill-opacity="0.29"/><rect x="92.9" y="143.8" width="2.0" height="5.0" fill-opacity="0.10"/><rect x="97.7" y="86.1" width="2.5" height="2.0" fill-opacity="0.33"/><rect x="77.8" y="136.6" width="1.5" height="2.0" fill-opacity="0.34"/><rect x="84.7" y="105.9" width="2.0" height="5.0" fill-opacity="0.44"/><rect x="106.3" y="135.8" width="1.5" height="2.0" fill-opacity="0.00"/><rect x="89.6" y="125.0" width="3.0" height="3.0" fill-opacity="0.22"/><rect x="98.4" y="174.6" width="1.5" height="2.0" fill-opacity="0.13"/><rect x="79.3" y="143.8" width="1.5" height="3.0" fill-opacity="0.58"/><rect x="84.4" y="137.3" width="2.0" height="4.0" fill-opacity="0.15"/><rect x="80.2" y="107.8" width="2.5" height="4.0" fill-opacity="0.10"/><rect x="83.0" y="94.3" width="1.5" height="4.0" fill-opacity="0.25"/><rect x="103.4" y="88.8" width="2.0" height="4.0" fill-opacity="0.13"/><rect x="85.0" y="163.2" width="3.0" height="2.0" fill-opacity="0.07"/><rect x="92.2" y="141.2" width="2.5" height="2.0" fill-opacity="0.47"/><rect x="82.1" y="808.4" width="1.5" height="4.0" fill-opacity="0.46"/><rect x="79.3" y="782.2" width="3.0" height="5.0" fill-opacity="0.61"/><rect x="80.7" y="804.3" width="2.0" height="5.0" fill-opacity="0.60"/><rect x="83.2" y="760.1" width="2.0" height="4.0" fill-opacity="0.02"/><rect x="94.4" y="804.8" width="2.0" height="2.0" fill-opacity="0.34"/><rect x="95.5" y="802.3" width="1.5" height="2.0" fill-opacity="0.14"/><rect x="78.1" y="794.8" width="3.0" height="2.0" fill-opacity="0.05"/><rect x="94.2" y="817.4" width="2.0" height="5.0" fill-opacity="0.24"/><rect x="78.8" y="751.5" width="2.5" height="3.0" fill-opacity="0.20"/><rect x="96.4" y="783.8" width="2.5" height="4.0" fill-opacity="0.04"/><rect x="81.8" y="769.0" width="2.0" height="2.0" fill-opacity="0.24"/><rect x="98.5" y="833.5" width="1.5" height="3.0" fill-opacity="0.12"/><rect x="78.5" y="738.8" width="2.0" height="4.0" fill-opacity="0.14"/><rect x="80.0" y="751.9" width="1.5" height="5.0" fill-opacity="0.06"/><rect x="78.5" y="760.7" width="1.5" height="2.0" fill-opacity="0.38"/><rect x="83.5" y="765.8" width="2.0" height="4.0" fill-opacity="0.55"/><rect x="80.9" y="795.6" width="2.0" height="4.0" fill-opacity="0.23"/><rect x="90.6" y="774.3" width="2.0" height="3.0" fill-opacity="0.06"/><rect x="86.7" y="764.5" width="2.0" height="3.0" fill-opacity="0.43"/><rect x="97.4" y="837.3" width="2.5" height="4.0" fill-opacity="0.03"/><rect x="77.4" y="835.2" width="2.0" height="4.0" fill-opacity="0.18"/><rect x="95.9" y="785.7" width="1.5" height="5.0" fill-opacity="0.04"/><rect x="80.9" y="788.0" width="2.5" height="2.0" fill-opacity="0.14"/><rect x="77.9" y="744.3" width="2.5" height="3.0" fill-opacity="0.24"/><rect x="96.8" y="756.9" width="2.5" height="2.0" fill-opacity="0.24"/><rect x="90.3" y="793.1" width="1.5" height="2.0" fill-opacity="0.16"/><rect x="89.1" y="787.8" width="2.0" height="2.0" fill-opacity="0.50"/><rect x="93.7" y="827.6" width="2.0" height="4.0" fill-opacity="0.05"/><rect x="90.3" y="761.1" width="3.0" height="2.0" fill-opacity="0.32"/><rect x="95.2" y="807.9" width="2.0" height="5.0" fill-opacity="0.01"/><rect x="79.9" y="810.4" width="2.5" height="4.0" fill-opacity="0.23"/><rect x="77.0" y="756.3" width="2.0" height="3.0" fill-opacity="0.29"/><rect x="84.8" y="766.8" width="1.5" height="5.0" fill-opacity="0.12"/><rect x="77.8" y="788.6" width="2.5" height="3.0" fill-opacity="0.25"/><rect x="82.1" y="805.2" width="2.0" height="4.0" fill-opacity="0.51"/><rect x="94.7" y="771.5" width="2.0" height="3.0" fill-opacity="0.01"/><rect x="93.0" y="828.2" width="3.0" height="5.0" fill-opacity="0.23"/><rect x="82.7" y="746.7" width="2.5" height="3.0" fill-opacity="0.07"/><rect x="97.1" y="768.9" width="2.5" height="3.0" fill-opacity="0.07"/><rect x="82.2" y="799.0" width="2.0" height="5.0" fill-opacity="0.09"/><rect x="88.2" y="741.5" width="2.0" height="2.0" fill-opacity="0.17"/><rect x="103.1" y="765.0" width="3.0" height="5.0" fill-opacity="0.15"/><rect x="98.6" y="832.7" width="1.5" height="5.0" fill-opacity="0.21"/><rect x="94.4" y="759.5" width="2.0" height="3.0" fill-opacity="0.27"/><rect x="92.6" y="782.8" width="2.5" height="3.0" fill-opacity="0.12"/><rect x="102.8" y="834.0" width="3.0" height="4.0" fill-opacity="0.15"/><rect x="78.1" y="812.0" width="3.0" height="5.0" fill-opacity="0.49"/><rect x="85.2" y="755.7" width="2.5" height="5.0" fill-opacity="0.53"/><rect x="97.3" y="771.1" width="2.0" height="5.0" fill-opacity="0.41"/><rect x="102.9" y="779.5" width="2.0" height="5.0" fill-opacity="0.08"/><rect x="97.5" y="810.3" width="2.0" height="3.0" fill-opacity="0.05"/><rect x="93.2" y="837.0" width="2.5" height="4.0" fill-opacity="0.07"/><rect x="86.0" y="799.8" width="2.5" height="4.0" fill-opacity="0.40"/><rect x="89.5" y="751.2" width="2.0" height="5.0" fill-opacity="0.01"/><rect x="102.9" y="774.7" width="2.0" height="3.0" fill-opacity="0.30"/><rect x="84.4" y="822.7" width="1.5" height="5.0" fill-opacity="0.15"/><rect x="100.5" y="832.8" width="1.5" height="5.0" fill-opacity="0.08"/><rect x="83.6" y="817.8" width="1.5" height="3.0" fill-opacity="0.04"/><rect x="101.2" y="751.1" width="1.5" height="2.0" fill-opacity="0.09"/><rect x="78.1" y="786.9" width="2.0" height="5.0" fill-opacity="0.23"/><rect x="77.5" y="737.7" width="2.0" height="4.0" fill-opacity="0.03"/><rect x="79.9" y="790.7" width="3.0" height="2.0" fill-opacity="0.39"/><rect x="76.5" y="765.7" width="1.5" height="5.0" fill-opacity="0.21"/><rect x="98.5" y="815.6" width="1.5" height="5.0" fill-opacity="0.10"/><rect x="79.9" y="798.4" width="3.0" height="3.0" fill-opacity="0.12"/><rect x="87.9" y="761.3" width="1.5" height="2.0" fill-opacity="0.29"/><rect x="76.7" y="757.7" width="2.0" height="5.0" fill-opacity="0.34"/><rect x="94.6" y="767.6" width="2.0" height="2.0" fill-opacity="0.12"/><rect x="97.6" y="757.4" width="2.0" height="5.0" fill-opacity="0.30"/><rect x="96.2" y="768.2" width="3.0" height="4.0" fill-opacity="0.02"/><rect x="102.1" y="748.3" width="2.0" height="4.0" fill-opacity="0.17"/><rect x="90.2" y="744.5" width="2.0" height="5.0" fill-opacity="0.27"/><rect x="94.7" y="760.6" width="2.0" height="5.0" fill-opacity="0.10"/><rect x="87.7" y="843.5" width="2.0" height="2.0" fill-opacity="0.10"/><rect x="88.8" y="742.7" width="1.5" height="3.0" fill-opacity="0.05"/><rect x="99.9" y="809.6" width="3.0" height="2.0" fill-opacity="0.14"/><rect x="95.5" y="747.5" width="1.5" height="2.0" fill-opacity="0.32"/><rect x="97.5" y="764.9" width="1.5" height="2.0" fill-opacity="0.06"/><rect x="98.9" y="768.2" width="2.0" height="3.0" fill-opacity="0.17"/><rect x="98.6" y="776.8" width="2.0" height="5.0" fill-opacity="0.15"/><rect x="101.0" y="819.6" width="2.0" height="4.0" fill-opacity="0.18"/><rect x="87.0" y="821.8" width="2.0" height="3.0" fill-opacity="0.11"/><rect x="89.7" y="840.8" width="2.0" height="2.0" fill-opacity="0.09"/><rect x="89.1" y="760.9" width="2.0" height="4.0" fill-opacity="0.52"/><rect x="96.4" y="767.9" width="2.0" height="5.0" fill-opacity="0.37"/><rect x="77.1" y="734.8" width="2.0" height="4.0" fill-opacity="0.05"/><rect x="84.4" y="844.9" width="2.0" height="2.0" fill-opacity="0.08"/><rect x="76.4" y="844.1" width="3.0" height="3.0" fill-opacity="0.16"/><rect x="94.0" y="828.9" width="2.0" height="3.0" fill-opacity="0.02"/><rect x="83.1" y="828.4" width="2.5" height="5.0" fill-opacity="0.39"/><rect x="79.7" y="831.6" width="2.0" height="2.0" fill-opacity="0.34"/><rect x="99.6" y="771.8" width="2.0" height="2.0" fill-opacity="0.35"/><rect x="99.6" y="826.0" width="2.5" height="5.0" fill-opacity="0.38"/><rect x="83.0" y="771.2" width="2.0" height="2.0" fill-opacity="0.06"/><rect x="89.9" y="804.4" width="2.5" height="5.0" fill-opacity="0.03"/><rect x="89.3" y="767.6" width="3.0" height="5.0" fill-opacity="0.20"/><rect x="85.7" y="768.5" width="2.0" height="2.0" fill-opacity="0.48"/><rect x="103.9" y="802.6" width="2.5" height="5.0" fill-opacity="0.02"/><rect x="91.2" y="755.2" width="1.5" height="2.0" fill-opacity="0.47"/><rect x="91.9" y="785.8" width="2.0" height="5.0" fill-opacity="0.01"/><rect x="96.9" y="792.3" width="3.0" height="2.0" fill-opacity="0.04"/><rect x="100.7" y="756.5" width="2.5" height="2.0" fill-opacity="0.17"/><rect x="96.5" y="769.8" width="3.0" height="2.0" fill-opacity="0.08"/><rect x="80.0" y="810.9" width="3.0" height="3.0" fill-opacity="0.61"/><rect x="101.5" y="752.2" width="3.0" height="4.0" fill-opacity="0.29"/><rect x="99.8" y="839.1" width="2.5" height="3.0" fill-opacity="0.03"/><rect x="80.0" y="797.8" width="1.5" height="5.0" fill-opacity="0.40"/><rect x="95.3" y="746.5" width="2.0" height="5.0" fill-opacity="0.27"/><rect x="93.6" y="756.2" width="1.5" height="4.0" fill-opacity="0.03"/><rect x="80.6" y="839.3" width="2.0" height="3.0" fill-opacity="0.11"/><rect x="80.9" y="758.1" width="3.0" height="2.0" fill-opacity="0.55"/><rect x="95.9" y="820.7" width="2.0" height="5.0" fill-opacity="0.32"/><rect x="77.5" y="841.9" width="1.5" height="2.0" fill-opacity="0.10"/><rect x="80.8" y="768.7" width="3.0" height="4.0" fill-opacity="0.14"/><rect x="96.2" y="779.4" width="2.0" height="3.0" fill-opacity="0.44"/><rect x="93.8" y="767.5" width="2.0" height="3.0" fill-opacity="0.21"/><rect x="79.5" y="801.4" width="2.5" height="5.0" fill-opacity="0.19"/><rect x="97.5" y="831.6" width="2.5" height="4.0" fill-opacity="0.25"/><rect x="81.5" y="787.0" width="2.0" height="3.0" fill-opacity="0.37"/><rect x="85.8" y="758.2" width="1.5" height="5.0" fill-opacity="0.22"/><rect x="99.5" y="815.3" width="3.0" height="2.0" fill-opacity="0.19"/><rect x="95.9" y="791.6" width="2.5" height="4.0" fill-opacity="0.30"/><rect x="94.3" y="748.9" width="1.5" height="3.0" fill-opacity="0.35"/><rect x="95.0" y="805.8" width="2.0" height="3.0" fill-opacity="0.18"/><rect x="102.5" y="771.1" width="2.0" height="4.0" fill-opacity="0.15"/><rect x="89.4" y="769.1" width="2.0" height="2.0" fill-opacity="0.26"/><rect x="90.9" y="772.3" width="2.5" height="2.0" fill-opacity="0.47"/><rect x="86.8" y="770.2" width="2.0" height="2.0" fill-opacity="0.34"/><rect x="86.9" y="774.8" width="3.0" height="2.0" fill-opacity="0.20"/><rect x="85.3" y="763.4" width="2.0" height="5.0" fill-opacity="0.47"/><rect x="80.1" y="827.5" width="1.5" height="5.0" fill-opacity="0.14"/><rect x="96.5" y="761.9" width="1.5" height="3.0" fill-opacity="0.32"/><rect x="100.4" y="741.3" width="1.5" height="2.0" fill-opacity="0.13"/><rect x="93.6" y="815.7" width="2.0" height="2.0" fill-opacity="0.05"/><rect x="93.1" y="751.9" width="2.0" height="4.0" fill-opacity="0.32"/><rect x="88.5" y="779.5" width="1.5" height="3.0" fill-opacity="0.26"/><rect x="101.0" y="750.0" width="1.5" height="5.0" fill-opacity="0.24"/><rect x="95.1" y="794.2" width="2.5" height="2.0" fill-opacity="0.02"/><rect x="100.7" y="784.6" width="2.5" height="3.0" fill-opacity="0.13"/><rect x="101.6" y="834.0" width="2.0" height="5.0" fill-opacity="0.05"/><rect x="94.1" y="749.0" width="3.0" height="2.0" fill-opacity="0.23"/><rect x="86.1" y="832.2" width="2.0" height="5.0" fill-opacity="0.40"/><rect x="87.4" y="818.1" width="3.0" height="3.0" fill-opacity="0.53"/><rect x="86.5" y="768.3" width="2.0" height="2.0" fill-opacity="0.15"/><rect x="83.3" y="821.7" width="2.0" height="5.0" fill-opacity="0.36"/><rect x="77.3" y="830.3" width="1.5" height="5.0" fill-opacity="0.28"/><rect x="78.4" y="842.9" width="2.0" height="2.0" fill-opacity="0.02"/><rect x="88.2" y="803.3" width="2.0" height="2.0" fill-opacity="0.47"/><rect x="94.2" y="818.4" width="2.5" height="4.0" fill-opacity="0.05"/><rect x="94.3" y="756.0" width="2.0" height="3.0" fill-opacity="0.13"/><rect x="98.6" y="799.2" width="2.0" height="5.0" fill-opacity="0.19"/><rect x="95.5" y="812.7" width="1.5" height="3.0" fill-opacity="0.43"/><rect x="84.3" y="828.2" width="3.0" height="3.0" fill-opacity="0.35"/><rect x="99.8" y="772.5" width="3.0" height="2.0" fill-opacity="0.10"/><rect x="76.7" y="783.8" width="1.5" height="3.0" fill-opacity="0.05"/><rect x="89.1" y="786.2" width="2.0" height="4.0" fill-opacity="0.38"/><rect x="93.0" y="831.6" width="1.5" height="3.0" fill-opacity="0.46"/><rect x="83.3" y="831.4" width="2.0" height="5.0" fill-opacity="0.10"/><rect x="82.3" y="833.8" width="1.5" height="3.0" fill-opacity="0.16"/><rect x="89.2" y="780.4" width="1.5" height="5.0" fill-opacity="0.16"/><rect x="89.0" y="758.1" width="2.0" height="4.0" fill-opacity="0.44"/><rect x="95.1" y="749.4" width="2.5" height="3.0" fill-opacity="0.25"/><rect x="78.7" y="771.5" width="1.5" height="3.0" fill-opacity="0.25"/><rect x="83.9" y="790.3" width="3.0" height="3.0" fill-opacity="0.19"/><rect x="76.8" y="768.0" width="1.5" height="4.0" fill-opacity="0.14"/><rect x="86.3" y="785.1" width="2.0" height="5.0" fill-opacity="0.44"/><rect x="94.8" y="834.4" width="3.0" height="3.0" fill-opacity="0.17"/><rect x="81.8" y="796.9" width="1.5" height="3.0" fill-opacity="0.31"/><rect x="95.2" y="811.0" width="2.0" height="2.0" fill-opacity="0.42"/><rect x="101.1" y="763.9" width="2.0" height="3.0" fill-opacity="0.20"/><rect x="78.8" y="830.7" width="2.0" height="4.0" fill-opacity="0.61"/><rect x="86.8" y="811.7" width="1.5" height="2.0" fill-opacity="0.55"/><rect x="95.5" y="802.2" width="2.0" height="3.0" fill-opacity="0.19"/><rect x="86.8" y="794.3" width="2.0" height="3.0" fill-opacity="0.21"/><rect x="80.4" y="747.1" width="3.0" height="2.0" fill-opacity="0.09"/><rect x="90.1" y="749.4" width="3.0" height="5.0" fill-opacity="0.30"/><rect x="91.2" y="779.9" width="1.5" height="3.0" fill-opacity="0.01"/><rect x="82.6" y="781.1" width="2.0" height="4.0" fill-opacity="0.46"/><rect x="78.6" y="759.2" width="2.5" height="5.0" fill-opacity="0.31"/><rect x="97.4" y="770.6" width="1.5" height="5.0" fill-opacity="0.10"/><rect x="97.1" y="823.7" width="1.5" height="5.0" fill-opacity="0.15"/><rect x="78.1" y="821.3" width="2.5" height="3.0" fill-opacity="0.51"/><rect x="80.8" y="813.0" width="1.5" height="5.0" fill-opacity="0.27"/><rect x="96.6" y="849.8" width="1.5" height="4.0" fill-opacity="0.12"/><rect x="85.4" y="791.3" width="2.0" height="5.0" fill-opacity="0.06"/><rect x="94.7" y="750.3" width="2.5" height="2.0" fill-opacity="0.20"/><rect x="89.1" y="759.1" width="2.5" height="2.0" fill-opacity="0.37"/><rect x="78.5" y="754.0" width="2.0" height="4.0" fill-opacity="0.45"/><rect x="94.5" y="760.0" width="1.5" height="5.0" fill-opacity="0.15"/><rect x="93.6" y="761.8" width="2.5" height="4.0" fill-opacity="0.18"/><rect x="94.8" y="753.5" width="2.5" height="4.0" fill-opacity="0.23"/><rect x="92.5" y="737.7" width="1.5" height="5.0" fill-opacity="0.02"/><rect x="94.5" y="782.9" width="2.0" height="2.0" fill-opacity="0.01"/><rect x="82.7" y="827.0" width="2.0" height="4.0" fill-opacity="0.13"/><rect x="80.5" y="830.1" width="2.0" height="2.0" fill-opacity="0.28"/><rect x="91.2" y="746.0" width="2.0" height="3.0" fill-opacity="0.22"/><rect x="83.3" y="809.7" width="2.5" height="2.0" fill-opacity="0.07"/><rect x="76.1" y="811.3" width="2.0" height="2.0" fill-opacity="0.03"/><rect x="98.0" y="840.0" width="3.0" height="3.0" fill-opacity="0.13"/><rect x="81.7" y="767.7" width="2.0" height="4.0" fill-opacity="0.45"/><rect x="91.7" y="772.9" width="3.0" height="4.0" fill-opacity="0.49"/><rect x="79.6" y="809.8" width="2.5" height="3.0" fill-opacity="0.01"/><rect x="88.5" y="806.0" width="2.5" height="3.0" fill-opacity="0.20"/><rect x="100.4" y="815.2" width="2.0" height="5.0" fill-opacity="0.21"/><rect x="76.9" y="830.4" width="2.0" height="3.0" fill-opacity="0.17"/><rect x="100.1" y="818.2" width="1.5" height="4.0" fill-opacity="0.18"/><rect x="81.8" y="818.7" width="2.5" height="4.0" fill-opacity="0.14"/><rect x="95.4" y="806.9" width="1.5" height="4.0" fill-opacity="0.12"/><rect x="76.9" y="773.6" width="3.0" height="4.0" fill-opacity="0.63"/><rect x="82.4" y="827.3" width="1.5" height="3.0" fill-opacity="0.20"/><rect x="86.3" y="789.0" width="2.5" height="2.0" fill-opacity="0.15"/><rect x="101.1" y="816.2" width="2.5" height="4.0" fill-opacity="0.33"/><rect x="84.8" y="781.0" width="2.0" height="3.0" fill-opacity="0.56"/><rect x="77.7" y="772.6" width="2.0" height="4.0" fill-opacity="0.45"/><rect x="80.3" y="781.3" width="3.0" height="2.0" fill-opacity="0.50"/><rect x="97.9" y="752.5" width="2.0" height="4.0" fill-opacity="0.05"/><rect x="77.0" y="745.3" width="2.0" height="2.0" fill-opacity="0.47"/><rect x="92.0" y="800.1" width="1.5" height="3.0" fill-opacity="0.11"/><rect x="97.6" y="787.0" width="3.0" height="4.0" fill-opacity="0.05"/><rect x="82.6" y="785.7" width="2.5" height="4.0" fill-opacity="0.27"/><rect x="94.3" y="778.3" width="2.0" height="3.0" fill-opacity="0.20"/><rect x="77.1" y="775.6" width="2.0" height="4.0" fill-opacity="0.53"/><rect x="96.0" y="786.8" width="1.5" height="2.0" fill-opacity="0.21"/><rect x="88.9" y="810.3" width="2.0" height="5.0" fill-opacity="0.32"/><rect x="86.8" y="796.4" width="1.5" height="4.0" fill-opacity="0.44"/><rect x="96.9" y="821.8" width="1.5" height="4.0" fill-opacity="0.41"/><rect x="82.0" y="785.9" width="1.5" height="2.0" fill-opacity="0.00"/><rect x="76.1" y="752.2" width="2.5" height="4.0" fill-opacity="0.27"/><rect x="78.8" y="816.3" width="1.5" height="4.0" fill-opacity="0.34"/><rect x="91.1" y="765.1" width="2.5" height="4.0" fill-opacity="0.11"/><rect x="92.9" y="832.6" width="2.0" height="4.0" fill-opacity="0.27"/><rect x="93.3" y="822.1" width="1.5" height="4.0" fill-opacity="0.34"/><rect x="90.9" y="809.4" width="2.0" height="2.0" fill-opacity="0.17"/><rect x="87.7" y="771.0" width="2.0" height="3.0" fill-opacity="0.52"/><rect x="80.5" y="778.6" width="3.0" height="5.0" fill-opacity="0.42"/><rect x="83.2" y="773.6" width="2.5" height="3.0" fill-opacity="0.10"/><rect x="86.5" y="830.7" width="1.5" height="5.0" fill-opacity="0.41"/><rect x="102.9" y="756.6" width="2.5" height="5.0" fill-opacity="0.24"/><rect x="91.2" y="826.9" width="2.0" height="3.0" fill-opacity="0.03"/><rect x="94.0" y="761.3" width="3.0" height="3.0" fill-opacity="0.06"/><rect x="96.1" y="794.6" width="1.5" height="3.0" fill-opacity="0.33"/><rect x="84.4" y="763.1" width="3.0" height="3.0" fill-opacity="0.12"/><rect x="96.8" y="811.3" width="2.0" height="4.0" fill-opacity="0.14"/><rect x="91.4" y="789.7" width="1.5" height="2.0" fill-opacity="0.08"/><rect x="90.3" y="813.4" width="1.5" height="3.0" fill-opacity="0.08"/><rect x="82.4" y="804.8" width="2.5" height="3.0" fill-opacity="0.05"/><rect x="81.7" y="834.4" width="2.0" height="2.0" fill-opacity="0.55"/><rect x="86.4" y="745.9" width="1.5" height="2.0" fill-opacity="0.51"/><rect x="95.6" y="736.1" width="1.5" height="3.0" fill-opacity="0.04"/><rect x="88.3" y="849.8" width="1.5" height="2.0" fill-opacity="0.05"/><rect x="82.4" y="818.6" width="3.0" height="5.0" fill-opacity="0.06"/><rect x="89.0" y="814.6" width="2.5" height="3.0" fill-opacity="0.42"/><rect x="77.3" y="767.0" width="2.5" height="4.0" fill-opacity="0.06"/><rect x="85.7" y="785.8" width="3.0" height="4.0" fill-opacity="0.28"/><rect x="80.5" y="778.5" width="2.5" height="3.0" fill-opacity="0.31"/><rect x="80.3" y="793.5" width="2.5" height="3.0" fill-opacity="0.58"/><rect x="81.5" y="825.2" width="2.0" height="2.0" fill-opacity="0.45"/><rect x="85.8" y="761.9" width="2.0" height="5.0" fill-opacity="0.07"/><rect x="79.9" y="826.0" width="3.0" height="3.0" fill-opacity="0.35"/><rect x="80.8" y="814.8" width="1.5" height="5.0" fill-opacity="0.42"/><rect x="88.2" y="828.6" width="2.5" height="3.0" fill-opacity="0.36"/><rect x="80.4" y="832.6" width="2.0" height="4.0" fill-opacity="0.11"/><rect x="81.1" y="748.0" width="2.0" height="3.0" fill-opacity="0.36"/><rect x="91.1" y="787.5" width="3.0" height="5.0" fill-opacity="0.22"/><rect x="76.5" y="831.3" width="2.0" height="5.0" fill-opacity="0.61"/><rect x="82.1" y="795.1" width="2.0" height="3.0" fill-opacity="0.48"/><rect x="83.1" y="767.1" width="1.5" height="2.0" fill-opacity="0.49"/><rect x="78.4" y="760.1" width="1.5" height="4.0" fill-opacity="0.17"/><rect x="83.0" y="789.2" width="2.5" height="3.0" fill-opacity="0.18"/><rect x="98.1" y="775.0" width="2.0" height="2.0" fill-opacity="0.05"/><rect x="76.6" y="789.3" width="2.0" height="2.0" fill-opacity="0.15"/><rect x="86.9" y="767.9" width="3.0" height="5.0" fill-opacity="0.36"/><rect x="87.7" y="757.1" width="3.0" height="5.0" fill-opacity="0.34"/><rect x="92.4" y="811.9" width="2.5" height="4.0" fill-opacity="0.26"/><rect x="87.4" y="751.6" width="2.5" height="3.0" fill-opacity="0.49"/><rect x="91.7" y="810.0" width="3.0" height="3.0" fill-opacity="0.23"/><rect x="81.4" y="749.1" width="2.0" height="5.0" fill-opacity="0.51"/><rect x="96.4" y="816.2" width="2.5" height="2.0" fill-opacity="0.09"/><rect x="76.6" y="809.6" width="2.0" height="3.0" fill-opacity="0.29"/><rect x="79.6" y="770.7" width="2.0" height="2.0" fill-opacity="0.43"/><rect x="84.6" y="825.7" width="2.0" height="2.0" fill-opacity="0.32"/><rect x="94.0" y="741.1" width="2.0" height="3.0" fill-opacity="0.05"/><rect x="93.8" y="804.6" width="1.5" height="2.0" fill-opacity="0.35"/><rect x="84.4" y="793.3" width="2.5" height="2.0" fill-opacity="0.56"/><rect x="82.4" y="782.7" width="2.0" height="5.0" fill-opacity="0.59"/><rect x="83.8" y="821.4" width="1.5" height="5.0" fill-opacity="0.06"/><rect x="93.1" y="777.2" width="3.0" height="3.0" fill-opacity="0.17"/><rect x="102.3" y="781.5" width="3.0" height="2.0" fill-opacity="0.09"/><rect x="76.9" y="780.4" width="2.0" height="5.0" fill-opacity="0.29"/><rect x="77.8" y="816.0" width="1.5" height="5.0" fill-opacity="0.61"/><rect x="96.0" y="766.5" width="2.5" height="4.0" fill-opacity="0.01"/><rect x="89.3" y="745.3" width="2.0" height="3.0" fill-opacity="0.01"/><rect x="98.8" y="807.2" width="1.5" height="3.0" fill-opacity="0.25"/><rect x="84.8" y="800.9" width="3.0" height="2.0" fill-opacity="0.56"/><rect x="94.4" y="795.7" width="1.5" height="2.0" fill-opacity="0.14"/><rect x="77.8" y="742.2" width="2.0" height="5.0" fill-opacity="0.13"/><rect x="92.1" y="765.0" width="2.5" height="4.0" fill-opacity="0.01"/><rect x="83.7" y="766.2" width="1.5" height="2.0" fill-opacity="0.38"/><rect x="89.9" y="826.9" width="1.5" height="4.0" fill-opacity="0.12"/><rect x="90.1" y="791.6" width="2.0" height="3.0" fill-opacity="0.37"/><rect x="101.0" y="848.7" width="3.0" height="3.0" fill-opacity="0.03"/><rect x="91.3" y="746.3" width="3.0" height="2.0" fill-opacity="0.06"/><rect x="93.3" y="761.4" width="2.5" height="3.0" fill-opacity="0.09"/><rect x="78.7" y="816.3" width="1.5" height="3.0" fill-opacity="0.43"/><rect x="94.2" y="787.6" width="1.5" height="3.0" fill-opacity="0.32"/><rect x="87.0" y="845.9" width="3.0" height="4.0" fill-opacity="0.04"/><rect x="91.9" y="778.7" width="2.0" height="5.0" fill-opacity="0.25"/><rect x="103.0" y="844.9" width="1.5" height="3.0" fill-opacity="0.05"/><rect x="78.1" y="812.6" width="2.0" height="4.0" fill-opacity="0.37"/><rect x="83.5" y="836.4" width="2.0" height="4.0" fill-opacity="0.09"/><rect x="80.9" y="796.1" width="3.0" height="3.0" fill-opacity="0.06"/><rect x="100.2" y="787.9" width="3.0" height="3.0" fill-opacity="0.06"/><rect x="81.8" y="739.9" width="2.0" height="5.0" fill-opacity="0.19"/><rect x="88.3" y="786.4" width="1.5" height="2.0" fill-opacity="0.34"/><rect x="78.8" y="732.9" width="3.0" height="2.0" fill-opacity="0.12"/><rect x="84.0" y="759.8" width="2.0" height="2.0" fill-opacity="0.57"/><rect x="79.5" y="837.3" width="3.0" height="5.0" fill-opacity="0.00"/><rect x="83.4" y="795.3" width="2.0" height="2.0" fill-opacity="0.24"/><rect x="92.0" y="815.7" width="2.0" height="5.0" fill-opacity="0.38"/><rect x="85.3" y="742.4" width="2.0" height="4.0" fill-opacity="0.17"/><rect x="97.3" y="785.9" width="1.5" height="3.0" fill-opacity="0.14"/><rect x="83.0" y="827.9" width="2.0" height="3.0" fill-opacity="0.41"/><rect x="89.8" y="746.4" width="2.0" height="5.0" fill-opacity="0.17"/><rect x="77.3" y="788.3" width="1.5" height="3.0" fill-opacity="0.55"/><rect x="77.9" y="784.0" width="2.5" height="5.0" fill-opacity="0.02"/><rect x="78.4" y="791.0" width="2.0" height="2.0" fill-opacity="0.15"/><rect x="82.7" y="800.9" width="2.5" height="5.0" fill-opacity="0.18"/><rect x="94.1" y="777.8" width="2.0" height="2.0" fill-opacity="0.24"/><rect x="76.3" y="770.6" width="1.5" height="5.0" fill-opacity="0.06"/><rect x="89.7" y="833.9" width="2.0" height="2.0" fill-opacity="0.26"/><rect x="92.3" y="800.9" width="2.5" height="4.0" fill-opacity="0.01"/><rect x="78.9" y="793.8" width="1.5" height="5.0" fill-opacity="0.06"/><rect x="98.4" y="818.5" width="3.0" height="5.0" fill-opacity="0.05"/><rect x="86.6" y="799.8" width="3.0" height="2.0" fill-opacity="0.16"/><rect x="91.2" y="770.1" width="3.0" height="5.0" fill-opacity="0.47"/><rect x="91.8" y="840.5" width="2.5" height="3.0" fill-opacity="0.00"/><rect x="89.4" y="805.4" width="3.0" height="2.0" fill-opacity="0.33"/><rect x="76.9" y="825.6" width="2.0" height="3.0" fill-opacity="0.43"/><rect x="99.4" y="818.7" width="3.0" height="4.0" fill-opacity="0.29"/><rect x="80.0" y="804.4" width="1.5" height="3.0" fill-opacity="0.51"/><rect x="100.8" y="783.2" width="2.5" height="3.0" fill-opacity="0.06"/><rect x="90.8" y="774.9" width="1.5" height="2.0" fill-opacity="0.40"/><rect x="80.4" y="769.9" width="2.0" height="2.0" fill-opacity="0.08"/><rect x="79.4" y="800.2" width="3.0" height="3.0" fill-opacity="0.52"/><rect x="77.5" y="839.2" width="2.0" height="5.0" fill-opacity="0.06"/><rect x="99.3" y="806.7" width="2.0" height="3.0" fill-opacity="0.13"/><rect x="95.1" y="767.9" width="3.0" height="5.0" fill-opacity="0.31"/><rect x="83.0" y="763.4" width="2.0" height="4.0" fill-opacity="0.33"/><rect x="82.8" y="837.6" width="1.5" height="3.0" fill-opacity="0.13"/><rect x="97.5" y="824.2" width="1.5" height="4.0" fill-opacity="0.13"/><rect x="95.0" y="841.3" width="2.5" height="2.0" fill-opacity="0.08"/><rect x="77.5" y="784.9" width="2.5" height="2.0" fill-opacity="0.62"/><rect x="96.0" y="825.4" width="3.0" height="4.0" fill-opacity="0.35"/><rect x="79.6" y="814.6" width="2.0" height="5.0" fill-opacity="0.25"/><rect x="96.7" y="764.1" width="2.0" height="5.0" fill-opacity="0.09"/><rect x="100.2" y="764.2" width="2.5" height="2.0" fill-opacity="0.19"/><rect x="83.2" y="834.4" width="1.5" height="3.0" fill-opacity="0.15"/><rect x="97.5" y="790.7" width="2.5" height="3.0" fill-opacity="0.07"/><rect x="93.8" y="744.9" width="2.5" height="3.0" fill-opacity="0.35"/><rect x="90.4" y="767.2" width="2.5" height="5.0" fill-opacity="0.15"/><rect x="100.4" y="764.8" width="3.0" height="3.0" fill-opacity="0.23"/><rect x="83.1" y="751.0" width="1.5" height="5.0" fill-opacity="0.30"/><rect x="89.9" y="794.9" width="2.0" height="5.0" fill-opacity="0.45"/><rect x="89.1" y="821.1" width="2.0" height="2.0" fill-opacity="0.22"/><rect x="87.6" y="775.4" width="2.5" height="5.0" fill-opacity="0.31"/><rect x="79.0" y="774.2" width="3.0" height="2.0" fill-opacity="0.04"/><rect x="88.5" y="800.6" width="2.5" height="4.0" fill-opacity="0.52"/><rect x="93.7" y="799.0" width="3.0" height="5.0" fill-opacity="0.11"/><rect x="86.8" y="769.9" width="2.5" height="2.0" fill-opacity="0.55"/><rect x="88.4" y="824.4" width="3.0" height="2.0" fill-opacity="0.29"/><rect x="77.9" y="735.1" width="2.5" height="3.0" fill-opacity="0.15"/><rect x="91.5" y="738.1" width="1.5" height="2.0" fill-opacity="0.04"/><rect x="77.0" y="788.9" width="2.0" height="4.0" fill-opacity="0.49"/><rect x="82.5" y="783.9" width="2.0" height="3.0" fill-opacity="0.11"/><rect x="88.7" y="828.7" width="2.0" height="3.0" fill-opacity="0.38"/><rect x="94.3" y="802.1" width="3.0" height="2.0" fill-opacity="0.18"/><rect x="103.3" y="753.1" width="1.5" height="4.0" fill-opacity="0.19"/><rect x="93.3" y="776.4" width="1.5" height="5.0" fill-opacity="0.15"/><rect x="88.1" y="813.6" width="2.0" height="4.0" fill-opacity="0.34"/><rect x="92.0" y="790.4" width="2.0" height="4.0" fill-opacity="0.11"/><rect x="89.4" y="797.9" width="2.5" height="2.0" fill-opacity="0.19"/><rect x="76.3" y="849.4" width="3.0" height="5.0" fill-opacity="0.01"/><rect x="94.1" y="806.3" width="2.5" height="3.0" fill-opacity="0.23"/><rect x="77.0" y="789.2" width="2.0" height="4.0" fill-opacity="0.51"/><rect x="76.0" y="787.1" width="2.0" height="5.0" fill-opacity="0.17"/><rect x="93.5" y="827.0" width="2.0" height="5.0" fill-opacity="0.40"/><rect x="96.4" y="802.3" width="2.0" height="5.0" fill-opacity="0.09"/><rect x="78.7" y="771.5" width="2.0" height="3.0" fill-opacity="0.23"/><rect x="96.5" y="750.9" width="3.0" height="3.0" fill-opacity="0.05"/><rect x="84.5" y="846.6" width="2.5" height="4.0" fill-opacity="0.08"/><rect x="95.0" y="822.5" width="2.0" height="4.0" fill-opacity="0.42"/><rect x="103.2" y="809.7" width="2.0" height="4.0" fill-opacity="0.08"/><rect x="96.4" y="771.4" width="2.0" height="2.0" fill-opacity="0.28"/><rect x="93.9" y="774.2" width="3.0" height="3.0" fill-opacity="0.16"/><rect x="78.4" y="781.7" width="2.5" height="4.0" fill-opacity="0.61"/><rect x="90.5" y="774.3" width="1.5" height="4.0" fill-opacity="0.42"/><rect x="93.4" y="780.9" width="2.0" height="5.0" fill-opacity="0.12"/><rect x="95.3" y="761.2" width="2.0" height="3.0" fill-opacity="0.11"/><rect x="94.6" y="790.3" width="2.0" height="5.0" fill-opacity="0.09"/><rect x="89.3" y="792.6" width="2.0" height="2.0" fill-opacity="0.02"/><rect x="100.9" y="792.1" width="3.0" height="3.0" fill-opacity="0.24"/><rect x="79.5" y="834.2" width="2.0" height="5.0" fill-opacity="0.14"/><rect x="89.4" y="739.6" width="2.0" height="2.0" fill-opacity="0.04"/><rect x="97.7" y="832.7" width="1.5" height="4.0" fill-opacity="0.26"/><rect x="78.9" y="846.0" width="2.0" height="4.0" fill-opacity="0.15"/><rect x="87.5" y="812.8" width="1.5" height="4.0" fill-opacity="0.41"/><rect x="86.8" y="842.9" width="2.0" height="4.0" fill-opacity="0.09"/><rect x="81.7" y="751.5" width="3.0" height="5.0" fill-opacity="0.21"/><rect x="96.4" y="752.8" width="1.5" height="2.0" fill-opacity="0.03"/><rect x="76.4" y="803.3" width="2.5" height="4.0" fill-opacity="0.61"/><rect x="76.8" y="763.3" width="2.0" height="2.0" fill-opacity="0.61"/><rect x="88.9" y="762.8" width="2.0" height="3.0" fill-opacity="0.11"/><rect x="101.1" y="747.7" width="2.0" height="5.0" fill-opacity="0.22"/><rect x="77.6" y="780.7" width="1.5" height="5.0" fill-opacity="0.66"/><rect x="89.8" y="814.1" width="2.0" height="5.0" fill-opacity="0.25"/><rect x="79.7" y="827.0" width="2.5" height="4.0" fill-opacity="0.56"/><rect x="82.7" y="762.2" width="2.0" height="2.0" fill-opacity="0.28"/><rect x="84.8" y="769.7" width="2.5" height="3.0" fill-opacity="0.07"/><rect x="95.5" y="836.3" width="2.0" height="3.0" fill-opacity="0.11"/><rect x="95.1" y="747.3" width="2.5" height="3.0" fill-opacity="0.21"/><rect x="101.3" y="770.4" width="1.5" height="4.0" fill-opacity="0.17"/><rect x="97.8" y="808.4" width="1.5" height="4.0" fill-opacity="0.24"/><rect x="89.8" y="801.2" width="3.0" height="2.0" fill-opacity="0.39"/><rect x="87.9" y="745.6" width="2.5" height="3.0" fill-opacity="0.23"/><rect x="86.1" y="797.9" width="2.5" height="4.0" fill-opacity="0.22"/><rect x="92.6" y="784.3" width="2.0" height="2.0" fill-opacity="0.18"/><rect x="77.4" y="748.3" width="2.5" height="4.0" fill-opacity="0.47"/><rect x="88.6" y="811.0" width="2.5" height="5.0" fill-opacity="0.44"/><rect x="82.5" y="776.9" width="2.0" height="2.0" fill-opacity="0.48"/><rect x="98.9" y="772.3" width="2.0" height="2.0" fill-opacity="0.32"/><rect x="82.0" y="781.4" width="2.5" height="5.0" fill-opacity="0.44"/><rect x="102.2" y="825.4" width="3.0" height="2.0" fill-opacity="0.05"/><rect x="83.0" y="780.9" width="1.5" height="3.0" fill-opacity="0.56"/><rect x="82.1" y="783.2" width="1.5" height="5.0" fill-opacity="0.55"/><rect x="99.7" y="804.0" width="1.5" height="4.0" fill-opacity="0.21"/><rect x="88.5" y="832.0" width="2.0" height="3.0" fill-opacity="0.17"/><rect x="91.0" y="834.5" width="3.0" height="4.0" fill-opacity="0.08"/><rect x="92.4" y="760.8" width="2.0" height="4.0" fill-opacity="0.13"/><rect x="88.3" y="761.7" width="2.0" height="3.0" fill-opacity="0.49"/><rect x="100.5" y="783.7" width="2.0" height="5.0" fill-opacity="0.07"/><rect x="77.4" y="774.2" width="2.0" height="3.0" fill-opacity="0.55"/><rect x="90.7" y="848.3" width="2.0" height="3.0" fill-opacity="0.06"/><rect x="101.6" y="745.6" width="3.0" height="3.0" fill-opacity="0.31"/><rect x="94.0" y="746.6" width="3.0" height="4.0" fill-opacity="0.46"/><rect x="91.4" y="829.6" width="2.0" height="4.0" fill-opacity="0.16"/><rect x="98.0" y="829.8" width="1.5" height="2.0" fill-opacity="0.29"/><rect x="76.6" y="799.3" width="3.0" height="2.0" fill-opacity="0.37"/><rect x="92.4" y="829.5" width="2.0" height="5.0" fill-opacity="0.21"/><rect x="79.3" y="832.6" width="2.0" height="4.0" fill-opacity="0.42"/><rect x="96.9" y="815.8" width="3.0" height="4.0" fill-opacity="0.41"/><rect x="83.6" y="764.1" width="1.5" height="2.0" fill-opacity="0.05"/><rect x="85.8" y="804.1" width="2.5" height="4.0" fill-opacity="0.11"/><rect x="94.4" y="806.2" width="2.0" height="2.0" fill-opacity="0.24"/><rect x="76.9" y="796.9" width="3.0" height="5.0" fill-opacity="0.24"/><rect x="80.6" y="800.2" width="1.5" height="2.0" fill-opacity="0.23"/><rect x="100.3" y="829.2" width="2.0" height="5.0" fill-opacity="0.20"/><rect x="91.2" y="808.5" width="2.0" height="3.0" fill-opacity="0.15"/><rect x="88.5" y="784.3" width="2.0" height="5.0" fill-opacity="0.10"/><rect x="85.1" y="746.4" width="2.0" height="2.0" fill-opacity="0.14"/><rect x="93.0" y="794.0" width="1.5" height="2.0" fill-opacity="0.22"/><rect x="93.1" y="798.7" width="2.0" height="4.0" fill-opacity="0.07"/><rect x="76.5" y="834.5" width="2.0" height="5.0" fill-opacity="0.06"/><rect x="97.3" y="747.6" width="2.0" height="4.0" fill-opacity="0.30"/><rect x="80.3" y="771.5" width="2.5" height="2.0" fill-opacity="0.53"/><rect x="85.0" y="771.1" width="2.0" height="2.0" fill-opacity="0.30"/><rect x="95.4" y="772.7" width="2.0" height="4.0" fill-opacity="0.18"/><rect x="79.9" y="784.4" width="2.0" height="2.0" fill-opacity="0.04"/><rect x="94.4" y="813.9" width="1.5" height="4.0" fill-opacity="0.20"/><rect x="91.1" y="797.0" width="3.0" height="2.0" fill-opacity="0.21"/><rect x="83.0" y="746.1" width="2.5" height="2.0" fill-opacity="0.41"/><rect x="101.2" y="793.8" width="2.5" height="4.0" fill-opacity="0.15"/><rect x="91.7" y="768.2" width="1.5" height="4.0" fill-opacity="0.39"/><rect x="79.5" y="782.8" width="2.0" height="4.0" fill-opacity="0.40"/><rect x="76.2" y="846.2" width="2.5" height="3.0" fill-opacity="0.15"/><rect x="89.4" y="731.1" width="3.0" height="2.0" fill-opacity="0.07"/><rect x="77.3" y="808.5" width="1.5" height="2.0" fill-opacity="0.08"/><rect x="85.0" y="799.0" width="2.5" height="2.0" fill-opacity="0.15"/><rect x="91.1" y="783.8" width="2.5" height="4.0" fill-opacity="0.43"/><rect x="91.1" y="794.2" width="2.0" height="5.0" fill-opacity="0.24"/><rect x="87.8" y="745.3" width="2.0" height="3.0" fill-opacity="0.53"/><rect x="82.2" y="756.8" width="2.0" height="4.0" fill-opacity="0.01"/><rect x="91.7" y="811.5" width="2.0" height="3.0" fill-opacity="0.30"/><rect x="89.0" y="787.0" width="1.5" height="2.0" fill-opacity="0.15"/><rect x="93.3" y="786.4" width="3.0" height="2.0" fill-opacity="0.09"/><rect x="83.6" y="751.3" width="3.0" height="2.0" fill-opacity="0.44"/><rect x="92.3" y="769.8" width="2.5" height="2.0" fill-opacity="0.45"/><rect x="76.6" y="825.7" width="1.5" height="5.0" fill-opacity="0.56"/><rect x="96.5" y="795.7" width="3.0" height="2.0" fill-opacity="0.43"/><rect x="85.3" y="761.2" width="1.5" height="4.0" fill-opacity="0.31"/><rect x="93.9" y="814.2" width="3.0" height="5.0" fill-opacity="0.03"/><rect x="83.2" y="836.1" width="2.5" height="2.0" fill-opacity="0.00"/><rect x="82.6" y="800.4" width="2.5" height="2.0" fill-opacity="0.43"/><rect x="85.5" y="801.9" width="2.0" height="4.0" fill-opacity="0.30"/><rect x="102.8" y="741.9" width="2.5" height="3.0" fill-opacity="0.10"/><rect x="90.5" y="763.3" width="2.5" height="4.0" fill-opacity="0.50"/><rect x="91.6" y="779.5" width="2.0" height="2.0" fill-opacity="0.42"/><rect x="76.7" y="833.9" width="3.0" height="2.0" fill-opacity="0.35"/><rect x="87.5" y="752.4" width="2.5" height="3.0" fill-opacity="0.32"/><rect x="78.6" y="730.4" width="2.0" height="5.0" fill-opacity="0.03"/><rect x="100.1" y="827.7" width="1.5" height="2.0" fill-opacity="0.07"/><rect x="86.2" y="802.5" width="2.5" height="4.0" fill-opacity="0.01"/><rect x="92.5" y="758.7" width="2.0" height="2.0" fill-opacity="0.48"/><rect x="82.4" y="807.4" width="1.5" height="5.0" fill-opacity="0.14"/><rect x="79.2" y="800.7" width="2.5" height="3.0" fill-opacity="0.28"/><rect x="89.2" y="826.2" width="2.5" height="5.0" fill-opacity="0.08"/><rect x="78.8" y="752.3" width="2.5" height="5.0" fill-opacity="0.41"/><rect x="96.9" y="742.7" width="2.0" height="2.0" fill-opacity="0.05"/><rect x="97.2" y="804.0" width="2.5" height="5.0" fill-opacity="0.20"/><rect x="93.1" y="813.0" width="2.0" height="5.0" fill-opacity="0.20"/><rect x="78.7" y="764.8" width="3.0" height="3.0" fill-opacity="0.39"/><rect x="82.2" y="769.8" width="2.0" height="3.0" fill-opacity="0.38"/><rect x="98.9" y="783.9" width="2.5" height="5.0" fill-opacity="0.21"/><rect x="103.1" y="785.9" width="2.5" height="2.0" fill-opacity="0.17"/><rect x="90.6" y="800.1" width="3.0" height="3.0" fill-opacity="0.10"/><rect x="86.0" y="846.2" width="2.0" height="3.0" fill-opacity="0.10"/><rect x="76.1" y="824.4" width="2.0" height="2.0" fill-opacity="0.16"/><rect x="84.4" y="734.4" width="1.5" height="2.0" fill-opacity="0.15"/><rect x="86.9" y="824.3" width="2.5" height="5.0" fill-opacity="0.29"/><rect x="93.4" y="806.8" width="3.0" height="2.0" fill-opacity="0.21"/><rect x="99.3" y="749.1" width="3.0" height="4.0" fill-opacity="0.19"/><rect x="78.0" y="823.3" width="1.5" height="5.0" fill-opacity="0.29"/><rect x="78.6" y="831.3" width="2.0" height="2.0" fill-opacity="0.58"/><rect x="100.6" y="777.1" width="2.0" height="5.0" fill-opacity="0.25"/><rect x="79.4" y="833.7" width="1.5" height="5.0" fill-opacity="0.21"/><rect x="103.1" y="814.0" width="3.0" height="2.0" fill-opacity="0.06"/><rect x="85.6" y="769.3" width="1.5" height="4.0" fill-opacity="0.56"/><rect x="79.6" y="782.6" width="2.5" height="3.0" fill-opacity="0.64"/><rect x="90.6" y="814.9" width="2.0" height="5.0" fill-opacity="0.39"/><rect x="88.6" y="754.9" width="2.0" height="4.0" fill-opacity="0.50"/><rect x="76.9" y="814.0" width="2.0" height="3.0" fill-opacity="0.02"/><rect x="87.8" y="805.1" width="2.0" height="3.0" fill-opacity="0.13"/><rect x="85.5" y="807.7" width="2.0" height="5.0" fill-opacity="0.26"/><rect x="90.3" y="762.0" width="2.0" height="3.0" fill-opacity="0.03"/><rect x="89.5" y="795.3" width="3.0" height="4.0" fill-opacity="0.48"/><rect x="96.5" y="808.6" width="2.0" height="2.0" fill-opacity="0.24"/><rect x="82.2" y="743.5" width="1.5" height="3.0" fill-opacity="0.03"/><rect x="76.2" y="789.8" width="2.5" height="3.0" fill-opacity="0.17"/><rect x="98.8" y="788.5" width="2.0" height="5.0" fill-opacity="0.35"/><rect x="85.1" y="761.9" width="3.0" height="4.0" fill-opacity="0.08"/><rect x="89.8" y="819.3" width="2.0" height="2.0" fill-opacity="0.00"/><rect x="91.7" y="790.6" width="2.0" height="3.0" fill-opacity="0.06"/><rect x="94.9" y="804.8" width="3.0" height="5.0" fill-opacity="0.29"/><rect x="94.4" y="794.2" width="3.0" height="4.0" fill-opacity="0.09"/><rect x="81.6" y="771.9" width="2.5" height="4.0" fill-opacity="0.53"/><rect x="82.5" y="811.5" width="1.5" height="5.0" fill-opacity="0.23"/><rect x="81.2" y="826.4" width="2.0" height="3.0" fill-opacity="0.08"/><rect x="93.8" y="807.5" width="2.0" height="5.0" fill-opacity="0.25"/><rect x="80.7" y="794.7" width="2.0" height="5.0" fill-opacity="0.15"/><rect x="85.8" y="739.3" width="1.5" height="3.0" fill-opacity="0.12"/><rect x="92.1" y="811.6" width="1.5" height="2.0" fill-opacity="0.47"/><rect x="82.7" y="823.5" width="3.0" height="4.0" fill-opacity="0.36"/><rect x="96.5" y="775.3" width="3.0" height="3.0" fill-opacity="0.25"/><rect x="91.1" y="823.1" width="1.5" height="4.0" fill-opacity="0.36"/><rect x="82.1" y="822.0" width="2.5" height="3.0" fill-opacity="0.35"/><rect x="89.1" y="782.1" width="1.5" height="5.0" fill-opacity="0.39"/><rect x="87.6" y="825.1" width="2.0" height="5.0" fill-opacity="0.15"/><rect x="83.4" y="826.8" width="2.5" height="2.0" fill-opacity="0.40"/><rect x="86.0" y="784.1" width="2.5" height="3.0" fill-opacity="0.01"/><rect x="84.6" y="794.4" width="2.5" height="2.0" fill-opacity="0.06"/><rect x="90.0" y="772.1" width="2.5" height="3.0" fill-opacity="0.27"/><rect x="93.5" y="785.5" width="2.0" height="4.0" fill-opacity="0.04"/><rect x="92.9" y="779.9" width="2.0" height="3.0" fill-opacity="0.39"/><rect x="79.7" y="770.0" width="3.0" height="2.0" fill-opacity="0.36"/><rect x="92.7" y="807.7" width="2.0" height="2.0" fill-opacity="0.40"/><rect x="80.0" y="817.2" width="3.0" height="2.0" fill-opacity="0.64"/><rect x="86.5" y="789.3" width="2.0" height="4.0" fill-opacity="0.28"/><rect x="82.5" y="792.5" width="2.0" height="5.0" fill-opacity="0.29"/><rect x="91.3" y="819.9" width="2.5" height="2.0" fill-opacity="0.47"/><rect x="90.2" y="849.9" width="1.5" height="2.0" fill-opacity="0.04"/><rect x="78.8" y="822.7" width="2.0" height="5.0" fill-opacity="0.32"/><rect x="95.6" y="830.5" width="2.5" height="3.0" fill-opacity="0.09"/><rect x="83.5" y="757.2" width="2.5" height="4.0" fill-opacity="0.00"/><rect x="96.3" y="817.4" width="3.0" height="4.0" fill-opacity="0.10"/><rect x="102.7" y="834.2" width="2.0" height="3.0" fill-opacity="0.02"/><rect x="93.3" y="808.0" width="2.5" height="3.0" fill-opacity="0.44"/><rect x="79.9" y="786.9" width="3.0" height="4.0" fill-opacity="0.46"/><rect x="99.3" y="767.4" width="2.5" height="2.0" fill-opacity="0.37"/><rect x="83.1" y="757.9" width="1.5" height="3.0" fill-opacity="0.09"/><rect x="86.6" y="769.2" width="2.0" height="4.0" fill-opacity="0.10"/><rect x="87.3" y="845.5" width="1.5" height="2.0" fill-opacity="0.09"/><rect x="85.9" y="847.6" width="3.0" height="3.0" fill-opacity="0.01"/><rect x="78.7" y="795.3" width="2.5" height="4.0" fill-opacity="0.38"/><rect x="85.4" y="778.4" width="3.0" height="2.0" fill-opacity="0.13"/><rect x="97.3" y="825.8" width="2.0" height="5.0" fill-opacity="0.20"/><rect x="82.0" y="744.3" width="3.0" height="3.0" fill-opacity="0.08"/><rect x="101.1" y="825.9" width="1.5" height="3.0" fill-opacity="0.23"/><rect x="93.2" y="803.4" width="3.0" height="2.0" fill-opacity="0.37"/><rect x="82.2" y="743.8" width="1.5" height="4.0" fill-opacity="0.02"/><rect x="98.3" y="760.4" width="1.5" height="3.0" fill-opacity="0.15"/><rect x="89.0" y="812.1" width="3.0" height="5.0" fill-opacity="0.20"/><rect x="92.3" y="751.9" width="2.5" height="2.0" fill-opacity="0.16"/><rect x="76.6" y="816.3" width="2.0" height="5.0" fill-opacity="0.34"/><rect x="89.1" y="829.3" width="2.0" height="2.0" fill-opacity="0.33"/><rect x="90.3" y="761.0" width="2.0" height="5.0" fill-opacity="0.27"/><rect x="90.0" y="822.6" width="2.0" height="3.0" fill-opacity="0.18"/><rect x="101.3" y="831.3" width="1.5" height="2.0" fill-opacity="0.09"/><rect x="83.4" y="804.7" width="2.5" height="4.0" fill-opacity="0.18"/><rect x="78.5" y="757.8" width="1.5" height="2.0" fill-opacity="0.30"/><rect x="83.2" y="756.3" width="3.0" height="5.0" fill-opacity="0.02"/><rect x="91.5" y="841.8" width="3.0" height="4.0" fill-opacity="0.08"/><rect x="89.0" y="764.0" width="2.5" height="5.0" fill-opacity="0.50"/><rect x="90.3" y="805.5" width="2.0" height="3.0" fill-opacity="0.24"/><rect x="76.9" y="740.6" width="3.0" height="2.0" fill-opacity="0.13"/><rect x="88.6" y="734.3" width="1.5" height="4.0" fill-opacity="0.10"/><rect x="101.3" y="745.1" width="1.5" height="4.0" fill-opacity="0.06"/><rect x="100.2" y="747.4" width="1.5" height="5.0" fill-opacity="0.00"/><rect x="85.3" y="752.0" width="2.5" height="2.0" fill-opacity="0.09"/><rect x="79.0" y="747.2" width="3.0" height="5.0" fill-opacity="0.51"/><rect x="80.9" y="815.2" width="3.0" height="3.0" fill-opacity="0.62"/><rect x="85.1" y="789.6" width="2.0" height="5.0" fill-opacity="0.38"/><rect x="80.5" y="795.2" width="2.0" height="5.0" fill-opacity="0.19"/><rect x="83.6" y="738.1" width="2.0" height="2.0" fill-opacity="0.05"/><rect x="89.6" y="740.4" width="1.5" height="5.0" fill-opacity="0.13"/><rect x="94.6" y="788.4" width="2.0" height="2.0" fill-opacity="0.24"/><rect x="79.6" y="814.2" width="1.5" height="5.0" fill-opacity="0.20"/><rect x="86.8" y="789.6" width="1.5" height="4.0" fill-opacity="0.31"/><rect x="83.2" y="776.3" width="1.5" height="4.0" fill-opacity="0.30"/><rect x="94.2" y="827.4" width="2.0" height="4.0" fill-opacity="0.28"/><rect x="91.2" y="830.9" width="2.0" height="4.0" fill-opacity="0.38"/><rect x="92.0" y="822.4" width="2.5" height="5.0" fill-opacity="0.13"/><rect x="86.0" y="738.4" width="2.5" height="4.0" fill-opacity="0.10"/><rect x="93.5" y="732.7" width="3.0" height="3.0" fill-opacity="0.05"/><rect x="102.8" y="790.7" width="2.0" height="2.0" fill-opacity="0.13"/><rect x="92.8" y="817.1" width="2.0" height="5.0" fill-opacity="0.12"/><rect x="86.2" y="825.3" width="2.0" height="2.0" fill-opacity="0.31"/><rect x="91.6" y="825.2" width="3.0" height="2.0" fill-opacity="0.36"/><rect x="81.3" y="789.6" width="3.0" height="5.0" fill-opacity="0.45"/><rect x="84.9" y="755.1" width="3.0" height="3.0" fill-opacity="0.30"/><rect x="89.1" y="752.7" width="3.0" height="3.0" fill-opacity="0.46"/><rect x="77.9" y="835.0" width="2.0" height="4.0" fill-opacity="0.32"/><rect x="91.1" y="788.2" width="2.5" height="4.0" fill-opacity="0.03"/><rect x="92.2" y="818.2" width="2.5" height="4.0" fill-opacity="0.09"/><rect x="90.9" y="833.4" width="2.5" height="5.0" fill-opacity="0.32"/><rect x="91.5" y="829.1" width="2.5" height="3.0" fill-opacity="0.33"/><rect x="90.8" y="754.9" width="2.5" height="5.0" fill-opacity="0.04"/><rect x="87.4" y="735.2" width="1.5" height="3.0" fill-opacity="0.15"/><rect x="90.1" y="833.4" width="2.5" height="5.0" fill-opacity="0.06"/><rect x="85.2" y="816.2" width="2.0" height="2.0" fill-opacity="0.46"/><rect x="85.8" y="796.4" width="1.5" height="4.0" fill-opacity="0.41"/><rect x="86.2" y="811.9" width="2.0" height="5.0" fill-opacity="0.52"/><rect x="91.0" y="756.0" width="2.5" height="5.0" fill-opacity="0.06"/><rect x="85.2" y="806.9" width="3.0" height="4.0" fill-opacity="0.13"/><rect x="94.3" y="816.9" width="1.5" height="4.0" fill-opacity="0.20"/><rect x="94.5" y="752.2" width="2.0" height="3.0" fill-opacity="0.16"/><rect x="89.0" y="831.0" width="3.0" height="4.0" fill-opacity="0.37"/><rect x="97.4" y="834.9" width="1.5" height="4.0" fill-opacity="0.23"/><rect x="84.7" y="839.4" width="1.5" height="3.0" fill-opacity="0.19"/><rect x="77.8" y="834.4" width="2.0" height="4.0" fill-opacity="0.58"/><rect x="100.5" y="846.5" width="2.0" height="3.0" fill-opacity="0.00"/><rect x="100.5" y="848.1" width="2.5" height="3.0" fill-opacity="0.06"/><rect x="89.8" y="810.8" width="2.0" height="5.0" fill-opacity="0.10"/><rect x="83.8" y="799.8" width="2.0" height="3.0" fill-opacity="0.49"/><rect x="85.1" y="797.1" width="2.5" height="3.0" fill-opacity="0.05"/><rect x="90.3" y="775.6" width="1.5" height="3.0" fill-opacity="0.10"/><rect x="79.9" y="756.2" width="3.0" height="5.0" fill-opacity="0.33"/><rect x="90.4" y="773.4" width="2.5" height="2.0" fill-opacity="0.16"/><rect x="90.2" y="780.9" width="3.0" height="4.0" fill-opacity="0.02"/><rect x="102.3" y="735.4" width="3.0" height="2.0" fill-opacity="0.09"/><rect x="81.6" y="796.9" width="2.0" height="2.0" fill-opacity="0.02"/><rect x="80.9" y="782.8" width="2.5" height="2.0" fill-opacity="0.26"/><rect x="98.2" y="744.8" width="1.5" height="5.0" fill-opacity="0.19"/><rect x="92.6" y="1414.1" width="3.0" height="4.0" fill-opacity="0.10"/><rect x="77.0" y="1444.7" width="3.0" height="3.0" fill-opacity="0.24"/><rect x="97.8" y="1423.2" width="2.0" height="2.0" fill-opacity="0.35"/><rect x="96.2" y="1466.6" width="2.5" height="4.0" fill-opacity="0.18"/><rect x="91.7" y="1478.7" width="2.0" height="2.0" fill-opacity="0.25"/><rect x="81.8" y="1497.7" width="2.0" height="2.0" fill-opacity="0.11"/><rect x="94.3" y="1434.9" width="1.5" height="4.0" fill-opacity="0.34"/><rect x="85.9" y="1444.1" width="1.5" height="5.0" fill-opacity="0.38"/><rect x="78.3" y="1432.8" width="3.0" height="3.0" fill-opacity="0.06"/><rect x="87.2" y="1433.7" width="2.0" height="5.0" fill-opacity="0.11"/><rect x="84.1" y="1415.4" width="2.0" height="5.0" fill-opacity="0.29"/><rect x="85.6" y="1397.4" width="2.5" height="4.0" fill-opacity="0.08"/><rect x="94.0" y="1485.2" width="2.0" height="4.0" fill-opacity="0.33"/><rect x="89.1" y="1426.0" width="2.0" height="2.0" fill-opacity="0.48"/><rect x="84.5" y="1405.5" width="2.0" height="2.0" fill-opacity="0.02"/><rect x="80.5" y="1465.1" width="3.0" height="3.0" fill-opacity="0.62"/><rect x="78.7" y="1482.9" width="1.5" height="2.0" fill-opacity="0.43"/><rect x="86.7" y="1479.6" width="3.0" height="3.0" fill-opacity="0.29"/><rect x="90.6" y="1490.6" width="2.0" height="2.0" fill-opacity="0.09"/><rect x="82.8" y="1439.4" width="3.0" height="2.0" fill-opacity="0.28"/><rect x="82.7" y="1475.5" width="2.5" height="4.0" fill-opacity="0.37"/><rect x="88.7" y="1445.3" width="2.0" height="5.0" fill-opacity="0.34"/><rect x="79.9" y="1483.2" width="2.0" height="2.0" fill-opacity="0.20"/><rect x="79.1" y="1479.8" width="1.5" height="3.0" fill-opacity="0.05"/><rect x="82.3" y="1416.1" width="2.0" height="4.0" fill-opacity="0.42"/><rect x="88.1" y="1428.6" width="2.5" height="2.0" fill-opacity="0.07"/><rect x="99.2" y="1447.3" width="1.5" height="3.0" fill-opacity="0.06"/><rect x="88.6" y="1454.8" width="2.0" height="2.0" fill-opacity="0.09"/><rect x="80.7" y="1418.9" width="2.0" height="2.0" fill-opacity="0.38"/><rect x="89.8" y="1475.8" width="1.5" height="4.0" fill-opacity="0.41"/><rect x="88.2" y="1484.1" width="2.0" height="5.0" fill-opacity="0.32"/><rect x="95.6" y="1419.4" width="3.0" height="4.0" fill-opacity="0.06"/><rect x="83.9" y="1470.3" width="2.5" height="2.0" fill-opacity="0.27"/><rect x="79.7" y="1499.5" width="2.5" height="3.0" fill-opacity="0.15"/><rect x="87.2" y="1412.8" width="1.5" height="4.0" fill-opacity="0.13"/><rect x="94.1" y="1423.7" width="1.5" height="5.0" fill-opacity="0.41"/><rect x="94.3" y="1444.9" width="2.5" height="2.0" fill-opacity="0.24"/><rect x="78.7" y="1423.5" width="1.5" height="2.0" fill-opacity="0.26"/><rect x="82.1" y="1479.7" width="3.0" height="3.0" fill-opacity="0.02"/><rect x="97.6" y="1444.4" width="2.0" height="3.0" fill-opacity="0.37"/><rect x="92.1" y="1472.4" width="2.5" height="3.0" fill-opacity="0.18"/><rect x="82.6" y="1431.3" width="3.0" height="3.0" fill-opacity="0.05"/><rect x="76.2" y="1465.3" width="2.5" height="3.0" fill-opacity="0.29"/><rect x="77.5" y="1432.4" width="2.5" height="3.0" fill-opacity="0.19"/><rect x="95.2" y="1399.4" width="2.5" height="4.0" fill-opacity="0.03"/><rect x="92.0" y="1451.1" width="2.0" height="2.0" fill-opacity="0.45"/><rect x="83.6" y="1469.9" width="1.5" height="2.0" fill-opacity="0.30"/><rect x="89.9" y="1477.9" width="2.0" height="3.0" fill-opacity="0.34"/><rect x="83.8" y="1409.3" width="2.0" height="2.0" fill-opacity="0.11"/><rect x="87.4" y="1421.0" width="1.5" height="2.0" fill-opacity="0.01"/><rect x="79.2" y="1442.8" width="2.0" height="4.0" fill-opacity="0.57"/><rect x="99.8" y="1452.4" width="3.0" height="4.0" fill-opacity="0.13"/><rect x="100.0" y="1426.4" width="1.5" height="3.0" fill-opacity="0.29"/><rect x="98.2" y="1467.4" width="1.5" height="4.0" fill-opacity="0.35"/><rect x="94.9" y="1458.2" width="1.5" height="2.0" fill-opacity="0.28"/><rect x="82.5" y="1445.8" width="2.5" height="4.0" fill-opacity="0.36"/><rect x="88.9" y="1443.4" width="2.5" height="4.0" fill-opacity="0.30"/><rect x="97.6" y="1425.4" width="1.5" height="3.0" fill-opacity="0.20"/><rect x="84.6" y="1409.1" width="2.0" height="4.0" fill-opacity="0.16"/><rect x="77.6" y="1427.6" width="3.0" height="2.0" fill-opacity="0.16"/><rect x="96.2" y="1458.5" width="1.5" height="4.0" fill-opacity="0.30"/><rect x="79.3" y="1492.0" width="3.0" height="2.0" fill-opacity="0.18"/><rect x="87.8" y="1458.1" width="3.0" height="4.0" fill-opacity="0.12"/><rect x="92.9" y="1480.3" width="2.5" height="3.0" fill-opacity="0.26"/><rect x="83.1" y="1474.1" width="2.5" height="5.0" fill-opacity="0.28"/><rect x="85.3" y="1496.4" width="3.0" height="3.0" fill-opacity="0.12"/><rect x="97.3" y="1402.3" width="2.5" height="4.0" fill-opacity="0.07"/><rect x="88.4" y="1424.9" width="1.5" height="5.0" fill-opacity="0.11"/><rect x="96.9" y="1450.2" width="3.0" height="2.0" fill-opacity="0.08"/><rect x="88.2" y="1443.8" width="1.5" height="2.0" fill-opacity="0.35"/><rect x="92.3" y="1477.5" width="2.0" height="5.0" fill-opacity="0.05"/><rect x="84.5" y="1428.6" width="2.0" height="5.0" fill-opacity="0.28"/><rect x="87.1" y="1432.4" width="2.5" height="4.0" fill-opacity="0.38"/><rect x="84.2" y="1416.9" width="2.5" height="5.0" fill-opacity="0.10"/><rect x="92.5" y="1421.7" width="1.5" height="3.0" fill-opacity="0.15"/><rect x="92.7" y="1423.4" width="1.5" height="3.0" fill-opacity="0.07"/><rect x="99.3" y="1404.1" width="2.0" height="3.0" fill-opacity="0.09"/><rect x="76.9" y="1421.1" width="1.5" height="3.0" fill-opacity="0.36"/><rect x="80.2" y="1415.6" width="1.5" height="4.0" fill-opacity="0.58"/><rect x="77.6" y="1411.9" width="3.0" height="4.0" fill-opacity="0.02"/><rect x="84.1" y="1479.0" width="1.5" height="3.0" fill-opacity="0.02"/><rect x="81.1" y="1425.0" width="1.5" height="3.0" fill-opacity="0.52"/><rect x="79.8" y="1471.9" width="1.5" height="3.0" fill-opacity="0.34"/><rect x="87.4" y="1422.4" width="2.5" height="2.0" fill-opacity="0.19"/><rect x="79.1" y="1487.5" width="3.0" height="5.0" fill-opacity="0.27"/><rect x="87.8" y="1476.0" width="3.0" height="5.0" fill-opacity="0.02"/><rect x="84.0" y="1439.0" width="2.0" height="4.0" fill-opacity="0.23"/><rect x="81.2" y="1479.0" width="2.0" height="3.0" fill-opacity="0.42"/><rect x="86.9" y="1489.6" width="3.0" height="5.0" fill-opacity="0.49"/><rect x="84.3" y="1463.9" width="3.0" height="3.0" fill-opacity="0.06"/><rect x="97.4" y="1438.1" width="3.0" height="3.0" fill-opacity="0.29"/><rect x="79.5" y="1480.4" width="2.0" height="3.0" fill-opacity="0.37"/><rect x="82.4" y="1492.9" width="3.0" height="4.0" fill-opacity="0.15"/><rect x="82.8" y="1489.9" width="1.5" height="2.0" fill-opacity="0.43"/><rect x="90.2" y="1489.4" width="3.0" height="4.0" fill-opacity="0.44"/><rect x="79.4" y="1486.8" width="3.0" height="3.0" fill-opacity="0.22"/><rect x="86.2" y="1495.1" width="2.5" height="2.0" fill-opacity="0.00"/><rect x="79.2" y="1398.4" width="2.0" height="4.0" fill-opacity="0.02"/><rect x="76.7" y="1450.6" width="2.0" height="5.0" fill-opacity="0.07"/><rect x="89.9" y="1400.3" width="1.5" height="3.0" fill-opacity="0.13"/><rect x="87.2" y="1398.6" width="3.0" height="5.0" fill-opacity="0.05"/><rect x="85.5" y="1401.8" width="1.5" height="5.0" fill-opacity="0.02"/><rect x="89.8" y="1481.1" width="2.5" height="2.0" fill-opacity="0.14"/><rect x="93.1" y="1435.6" width="3.0" height="3.0" fill-opacity="0.09"/><rect x="93.7" y="1432.6" width="1.5" height="2.0" fill-opacity="0.01"/><rect x="98.8" y="1494.8" width="2.5" height="2.0" fill-opacity="0.11"/><rect x="94.7" y="1399.6" width="1.5" height="2.0" fill-opacity="0.02"/><rect x="90.6" y="1450.4" width="2.0" height="4.0" fill-opacity="0.33"/><rect x="82.1" y="1496.8" width="2.5" height="5.0" fill-opacity="0.19"/><rect x="94.8" y="1455.3" width="3.0" height="5.0" fill-opacity="0.20"/><rect x="97.6" y="1454.6" width="2.5" height="5.0" fill-opacity="0.27"/><rect x="89.5" y="1421.3" width="1.5" height="5.0" fill-opacity="0.15"/><rect x="84.1" y="1462.2" width="3.0" height="3.0" fill-opacity="0.24"/><rect x="80.7" y="1454.6" width="2.5" height="4.0" fill-opacity="0.49"/><rect x="98.1" y="1475.3" width="3.0" height="3.0" fill-opacity="0.26"/><rect x="81.5" y="1459.1" width="2.0" height="2.0" fill-opacity="0.13"/><rect x="84.0" y="1474.9" width="2.5" height="5.0" fill-opacity="0.40"/><rect x="95.5" y="1483.9" width="2.5" height="2.0" fill-opacity="0.20"/><rect x="95.7" y="1439.5" width="3.0" height="5.0" fill-opacity="0.05"/><rect x="77.7" y="1453.8" width="2.0" height="3.0" fill-opacity="0.46"/><rect x="84.8" y="1424.4" width="2.0" height="4.0" fill-opacity="0.10"/><rect x="83.4" y="1420.7" width="1.5" height="3.0" fill-opacity="0.49"/><rect x="97.3" y="1466.1" width="1.5" height="5.0" fill-opacity="0.31"/><rect x="80.4" y="1439.8" width="2.5" height="3.0" fill-opacity="0.28"/><rect x="79.2" y="1405.8" width="2.5" height="2.0" fill-opacity="0.20"/><rect x="80.6" y="1422.4" width="3.0" height="3.0" fill-opacity="0.39"/><rect x="83.6" y="1451.1" width="1.5" height="2.0" fill-opacity="0.39"/><rect x="78.5" y="1487.9" width="2.0" height="5.0" fill-opacity="0.40"/><rect x="84.2" y="1424.5" width="1.5" height="3.0" fill-opacity="0.31"/><rect x="90.3" y="1473.6" width="1.5" height="4.0" fill-opacity="0.11"/><rect x="79.0" y="1442.9" width="2.0" height="5.0" fill-opacity="0.36"/><rect x="97.0" y="1423.3" width="3.0" height="5.0" fill-opacity="0.29"/><rect x="93.1" y="1422.5" width="2.0" height="2.0" fill-opacity="0.10"/><rect x="83.2" y="1488.0" width="2.0" height="3.0" fill-opacity="0.42"/><rect x="92.4" y="1396.8" width="1.5" height="4.0" fill-opacity="0.05"/><rect x="93.3" y="1463.5" width="2.5" height="3.0" fill-opacity="0.42"/><rect x="82.6" y="1441.2" width="3.0" height="3.0" fill-opacity="0.22"/><rect x="83.1" y="1450.8" width="3.0" height="2.0" fill-opacity="0.04"/><rect x="81.5" y="1450.4" width="1.5" height="5.0" fill-opacity="0.32"/><rect x="88.2" y="1464.2" width="2.0" height="5.0" fill-opacity="0.28"/><rect x="95.0" y="1491.8" width="3.0" height="3.0" fill-opacity="0.05"/><rect x="77.4" y="1477.4" width="3.0" height="2.0" fill-opacity="0.36"/><rect x="84.2" y="1470.7" width="2.0" height="5.0" fill-opacity="0.35"/><rect x="92.5" y="1427.2" width="2.0" height="5.0" fill-opacity="0.01"/><rect x="94.5" y="1435.7" width="3.0" height="5.0" fill-opacity="0.17"/><rect x="85.9" y="1472.0" width="2.5" height="2.0" fill-opacity="0.01"/><rect x="80.9" y="1426.3" width="2.0" height="2.0" fill-opacity="0.54"/><rect x="92.5" y="1403.2" width="2.0" height="5.0" fill-opacity="0.02"/><rect x="79.4" y="1429.2" width="1.5" height="5.0" fill-opacity="0.18"/><rect x="87.6" y="1464.3" width="2.5" height="4.0" fill-opacity="0.40"/><rect x="76.5" y="1462.8" width="3.0" height="2.0" fill-opacity="0.32"/><rect x="79.9" y="1447.6" width="2.5" height="4.0" fill-opacity="0.37"/><rect x="83.0" y="1430.4" width="3.0" height="4.0" fill-opacity="0.23"/><rect x="77.7" y="1445.4" width="3.0" height="3.0" fill-opacity="0.03"/><rect x="99.2" y="1471.6" width="2.0" height="5.0" fill-opacity="0.15"/><rect x="97.2" y="1459.5" width="2.0" height="3.0" fill-opacity="0.05"/><rect x="92.7" y="1489.8" width="1.5" height="4.0" fill-opacity="0.34"/><rect x="93.7" y="1398.4" width="1.5" height="4.0" fill-opacity="0.05"/><rect x="100.0" y="1472.2" width="2.0" height="3.0" fill-opacity="0.13"/><rect x="83.5" y="1442.0" width="2.5" height="3.0" fill-opacity="0.42"/><rect x="85.6" y="1484.9" width="2.0" height="4.0" fill-opacity="0.23"/><rect x="95.9" y="1469.3" width="3.0" height="5.0" fill-opacity="0.38"/><rect x="79.7" y="1476.8" width="2.5" height="4.0" fill-opacity="0.02"/><rect x="84.6" y="1397.6" width="2.0" height="5.0" fill-opacity="0.12"/><rect x="79.7" y="1479.4" width="2.5" height="3.0" fill-opacity="0.36"/><rect x="87.9" y="1479.6" width="2.5" height="5.0" fill-opacity="0.25"/><rect x="85.1" y="1466.1" width="1.5" height="5.0" fill-opacity="0.50"/><rect x="96.6" y="1494.9" width="2.0" height="2.0" fill-opacity="0.10"/><rect x="85.7" y="1433.6" width="2.5" height="5.0" fill-opacity="0.02"/><rect x="80.7" y="1460.3" width="2.0" height="3.0" fill-opacity="0.34"/><rect x="87.1" y="1459.1" width="2.5" height="5.0" fill-opacity="0.51"/><rect x="87.7" y="1440.6" width="2.0" height="3.0" fill-opacity="0.12"/><rect x="85.1" y="1476.2" width="3.0" height="4.0" fill-opacity="0.33"/><rect x="92.3" y="1427.3" width="2.5" height="2.0" fill-opacity="0.17"/><rect x="76.1" y="1425.1" width="3.0" height="2.0" fill-opacity="0.59"/><rect x="95.9" y="1463.2" width="2.5" height="5.0" fill-opacity="0.15"/><rect x="82.9" y="1479.9" width="2.0" height="5.0" fill-opacity="0.54"/><rect x="92.0" y="1417.3" width="1.5" height="4.0" fill-opacity="0.08"/><rect x="79.2" y="1493.8" width="2.0" height="4.0" fill-opacity="0.19"/><rect x="91.8" y="1472.1" width="2.0" height="4.0" fill-opacity="0.45"/><rect x="89.0" y="1415.2" width="2.0" height="4.0" fill-opacity="0.16"/><rect x="80.6" y="1494.0" width="3.0" height="2.0" fill-opacity="0.04"/><rect x="89.9" y="1453.4" width="3.0" height="5.0" fill-opacity="0.33"/><rect x="97.5" y="1490.4" width="3.0" height="3.0" fill-opacity="0.00"/><rect x="89.8" y="1438.9" width="2.0" height="5.0" fill-opacity="0.41"/><rect x="83.5" y="1483.8" width="1.5" height="2.0" fill-opacity="0.15"/><rect x="83.6" y="1427.5" width="2.0" height="5.0" fill-opacity="0.50"/><rect x="85.0" y="1426.1" width="2.0" height="3.0" fill-opacity="0.36"/><rect x="86.2" y="1426.3" width="1.5" height="3.0" fill-opacity="0.27"/><rect x="83.7" y="1484.0" width="2.0" height="3.0" fill-opacity="0.19"/><rect x="79.9" y="1467.8" width="1.5" height="2.0" fill-opacity="0.26"/><rect x="88.1" y="1428.8" width="2.5" height="4.0" fill-opacity="0.48"/><rect x="89.5" y="1488.7" width="2.0" height="4.0" fill-opacity="0.26"/><rect x="96.9" y="1431.0" width="2.0" height="5.0" fill-opacity="0.03"/><rect x="78.6" y="1418.9" width="2.0" height="2.0" fill-opacity="0.39"/><rect x="91.4" y="1460.8" width="2.0" height="5.0" fill-opacity="0.11"/><rect x="83.3" y="1420.0" width="2.0" height="5.0" fill-opacity="0.19"/><rect x="93.3" y="1492.8" width="2.5" height="2.0" fill-opacity="0.09"/><rect x="88.7" y="1477.2" width="2.0" height="5.0" fill-opacity="0.39"/><rect x="80.5" y="1456.2" width="2.5" height="5.0" fill-opacity="0.40"/><rect x="82.3" y="1473.4" width="3.0" height="2.0" fill-opacity="0.15"/><rect x="98.0" y="1486.5" width="1.5" height="2.0" fill-opacity="0.33"/><rect x="99.1" y="1458.0" width="2.5" height="5.0" fill-opacity="0.27"/><rect x="78.4" y="1498.2" width="3.0" height="2.0" fill-opacity="0.04"/><rect x="95.6" y="1442.8" width="2.0" height="5.0" fill-opacity="0.33"/><rect x="89.0" y="1448.5" width="1.5" height="3.0" fill-opacity="0.29"/><rect x="86.8" y="1480.5" width="1.5" height="2.0" fill-opacity="0.08"/><rect x="90.9" y="1472.9" width="1.5" height="2.0" fill-opacity="0.43"/><rect x="79.9" y="1430.7" width="2.0" height="2.0" fill-opacity="0.40"/><rect x="88.2" y="1431.4" width="2.0" height="4.0" fill-opacity="0.44"/><rect x="80.0" y="1437.7" width="2.0" height="2.0" fill-opacity="0.29"/><rect x="79.5" y="1488.7" width="1.5" height="4.0" fill-opacity="0.46"/><rect x="86.5" y="1484.3" width="2.0" height="5.0" fill-opacity="0.27"/><rect x="91.8" y="1417.8" width="1.5" height="5.0" fill-opacity="0.11"/><rect x="93.9" y="1449.9" width="2.0" height="5.0" fill-opacity="0.12"/><rect x="83.1" y="1461.5" width="2.0" height="2.0" fill-opacity="0.40"/><rect x="89.4" y="1498.3" width="2.5" height="2.0" fill-opacity="0.15"/><rect x="91.7" y="1471.7" width="2.5" height="3.0" fill-opacity="0.01"/><rect x="78.3" y="1416.1" width="3.0" height="2.0" fill-opacity="0.04"/><rect x="85.2" y="1428.7" width="2.5" height="2.0" fill-opacity="0.12"/><rect x="86.2" y="1415.0" width="3.0" height="4.0" fill-opacity="0.15"/><rect x="91.6" y="1400.1" width="2.0" height="3.0" fill-opacity="0.02"/><rect x="92.8" y="1451.0" width="2.0" height="3.0" fill-opacity="0.36"/><rect x="78.2" y="1485.7" width="3.0" height="4.0" fill-opacity="0.59"/><rect x="90.3" y="1438.4" width="1.5" height="4.0" fill-opacity="0.22"/><rect x="83.2" y="1490.6" width="3.0" height="2.0" fill-opacity="0.12"/><rect x="85.6" y="1397.3" width="3.0" height="2.0" fill-opacity="0.01"/><rect x="77.1" y="1489.8" width="2.0" height="3.0" fill-opacity="0.08"/><rect x="87.0" y="1474.5" width="2.0" height="4.0" fill-opacity="0.06"/><rect x="95.8" y="1445.2" width="1.5" height="4.0" fill-opacity="0.28"/><rect x="79.1" y="1438.5" width="2.5" height="3.0" fill-opacity="0.05"/><rect x="89.1" y="1453.1" width="1.5" height="3.0" fill-opacity="0.17"/><rect x="93.5" y="1441.4" width="3.0" height="3.0" fill-opacity="0.06"/><rect x="91.1" y="1416.7" width="3.0" height="3.0" fill-opacity="0.26"/><rect x="85.5" y="1460.5" width="2.0" height="4.0" fill-opacity="0.48"/><rect x="96.7" y="1436.5" width="2.5" height="2.0" fill-opacity="0.20"/><rect x="90.9" y="1492.7" width="2.5" height="5.0" fill-opacity="0.11"/><rect x="86.1" y="1447.3" width="2.5" height="4.0" fill-opacity="0.48"/><rect x="83.6" y="1416.5" width="2.0" height="4.0" fill-opacity="0.04"/><rect x="94.1" y="1450.2" width="2.0" height="2.0" fill-opacity="0.22"/><rect x="92.8" y="1457.4" width="2.5" height="2.0" fill-opacity="0.22"/><rect x="88.2" y="1415.5" width="1.5" height="4.0" fill-opacity="0.16"/><rect x="78.3" y="1430.6" width="2.0" height="3.0" fill-opacity="0.60"/><rect x="99.3" y="1411.1" width="3.0" height="5.0" fill-opacity="0.04"/><rect x="98.1" y="1408.6" width="2.5" height="5.0" fill-opacity="0.05"/><rect x="79.6" y="1439.2" width="3.0" height="3.0" fill-opacity="0.49"/><rect x="83.5" y="1489.9" width="3.0" height="2.0" fill-opacity="0.55"/><rect x="90.1" y="1443.7" width="2.5" height="3.0" fill-opacity="0.39"/><rect x="81.2" y="1489.5" width="2.0" height="3.0" fill-opacity="0.32"/><rect x="76.3" y="1414.3" width="2.5" height="5.0" fill-opacity="0.18"/><rect x="92.1" y="1462.7" width="1.5" height="5.0" fill-opacity="0.31"/><rect x="76.5" y="1430.3" width="2.0" height="3.0" fill-opacity="0.11"/><rect x="80.8" y="1454.8" width="2.5" height="5.0" fill-opacity="0.22"/><rect x="83.9" y="1424.9" width="2.0" height="2.0" fill-opacity="0.30"/><rect x="90.3" y="1422.3" width="1.5" height="5.0" fill-opacity="0.05"/><rect x="90.8" y="1466.1" width="2.5" height="5.0" fill-opacity="0.46"/><rect x="81.5" y="1481.0" width="1.5" height="3.0" fill-opacity="0.13"/><rect x="82.9" y="1397.2" width="2.0" height="5.0" fill-opacity="0.14"/><rect x="86.0" y="1438.0" width="2.0" height="4.0" fill-opacity="0.39"/><rect x="93.1" y="1441.5" width="2.0" height="3.0" fill-opacity="0.34"/><rect x="85.3" y="1420.1" width="2.0" height="2.0" fill-opacity="0.31"/><rect x="78.3" y="1490.3" width="3.0" height="3.0" fill-opacity="0.36"/><rect x="91.0" y="1438.6" width="2.0" height="2.0" fill-opacity="0.42"/><rect x="77.8" y="1428.8" width="2.0" height="5.0" fill-opacity="0.66"/><rect x="89.6" y="1444.3" width="2.0" height="4.0" fill-opacity="0.36"/><rect x="84.2" y="1412.7" width="2.5" height="5.0" fill-opacity="0.17"/><rect x="83.1" y="1468.1" width="2.0" height="5.0" fill-opacity="0.11"/><rect x="87.7" y="1470.7" width="1.5" height="3.0" fill-opacity="0.23"/><rect x="83.4" y="1454.2" width="2.5" height="2.0" fill-opacity="0.33"/><rect x="88.4" y="1488.3" width="2.0" height="5.0" fill-opacity="0.38"/><rect x="92.0" y="1413.8" width="2.5" height="2.0" fill-opacity="0.01"/><rect x="78.2" y="1406.7" width="1.5" height="5.0" fill-opacity="0.12"/><rect x="93.6" y="1435.1" width="2.0" height="2.0" fill-opacity="0.04"/><rect x="81.3" y="1417.8" width="2.5" height="2.0" fill-opacity="0.17"/><rect x="91.6" y="1400.2" width="2.5" height="4.0" fill-opacity="0.02"/><rect x="88.7" y="1423.3" width="3.0" height="5.0" fill-opacity="0.17"/><rect x="84.3" y="1436.7" width="2.5" height="4.0" fill-opacity="0.53"/><rect x="92.2" y="1471.9" width="2.5" height="5.0" fill-opacity="0.30"/><rect x="98.3" y="1453.3" width="3.0" height="5.0" fill-opacity="0.30"/><rect x="79.4" y="1460.3" width="1.5" height="4.0" fill-opacity="0.53"/><rect x="81.6" y="1441.2" width="2.0" height="2.0" fill-opacity="0.43"/><rect x="92.7" y="1483.3" width="1.5" height="5.0" fill-opacity="0.17"/><rect x="86.4" y="1465.8" width="1.5" height="4.0" fill-opacity="0.27"/><rect x="95.9" y="1488.5" width="2.0" height="2.0" fill-opacity="0.19"/><rect x="83.1" y="1460.2" width="2.5" height="5.0" fill-opacity="0.40"/><rect x="91.1" y="1445.6" width="1.5" height="2.0" fill-opacity="0.14"/><rect x="77.4" y="1469.1" width="2.0" height="3.0" fill-opacity="0.34"/><rect x="95.5" y="1473.5" width="3.0" height="2.0" fill-opacity="0.01"/><rect x="91.2" y="1484.5" width="2.5" height="2.0" fill-opacity="0.28"/><rect x="88.8" y="1481.6" width="2.5" height="5.0" fill-opacity="0.18"/><rect x="76.7" y="1444.6" width="2.5" height="5.0" fill-opacity="0.12"/><rect x="88.1" y="1409.6" width="2.0" height="3.0" fill-opacity="0.09"/><rect x="88.6" y="1458.5" width="1.5" height="2.0" fill-opacity="0.37"/><rect x="85.1" y="1470.9" width="2.0" height="5.0" fill-opacity="0.39"/><rect x="81.3" y="1470.6" width="3.0" height="5.0" fill-opacity="0.16"/><rect x="86.6" y="1421.0" width="1.5" height="3.0" fill-opacity="0.11"/><rect x="78.9" y="1419.0" width="2.0" height="4.0" fill-opacity="0.41"/><rect x="98.4" y="1452.9" width="3.0" height="3.0" fill-opacity="0.24"/><rect x="77.5" y="1426.2" width="3.0" height="2.0" fill-opacity="0.46"/><rect x="98.8" y="1410.5" width="2.5" height="3.0" fill-opacity="0.12"/><rect x="80.2" y="1463.3" width="2.0" height="4.0" fill-opacity="0.50"/><rect x="91.0" y="1439.7" width="2.0" height="5.0" fill-opacity="0.15"/><rect x="84.9" y="1467.7" width="2.5" height="2.0" fill-opacity="0.16"/><rect x="88.6" y="1465.4" width="3.0" height="3.0" fill-opacity="0.48"/><rect x="82.3" y="1467.0" width="1.5" height="5.0" fill-opacity="0.24"/><rect x="84.3" y="1438.9" width="3.0" height="5.0" fill-opacity="0.53"/><rect x="91.5" y="1489.2" width="2.5" height="4.0" fill-opacity="0.05"/><rect x="91.6" y="1452.1" width="2.0" height="5.0" fill-opacity="0.16"/><rect x="93.3" y="1430.7" width="3.0" height="5.0" fill-opacity="0.17"/><rect x="83.6" y="1416.0" width="1.5" height="5.0" fill-opacity="0.26"/><rect x="88.6" y="1476.0" width="1.5" height="2.0" fill-opacity="0.24"/><rect x="89.6" y="1453.7" width="2.5" height="5.0" fill-opacity="0.26"/><rect x="86.4" y="1431.7" width="2.5" height="2.0" fill-opacity="0.41"/><rect x="88.3" y="1473.9" width="2.5" height="3.0" fill-opacity="0.38"/><rect x="98.4" y="1439.7" width="3.0" height="2.0" fill-opacity="0.21"/><rect x="92.2" y="1471.5" width="2.0" height="4.0" fill-opacity="0.40"/><rect x="90.4" y="1421.3" width="3.0" height="3.0" fill-opacity="0.15"/><rect x="80.3" y="1473.1" width="2.0" height="4.0" fill-opacity="0.04"/><rect x="94.3" y="1437.9" width="3.0" height="3.0" fill-opacity="0.16"/><rect x="90.6" y="1411.2" width="2.0" height="3.0" fill-opacity="0.04"/><rect x="87.6" y="1448.2" width="2.0" height="5.0" fill-opacity="0.12"/><rect x="93.2" y="1464.7" width="2.0" height="5.0" fill-opacity="0.35"/><rect x="88.8" y="1447.1" width="2.5" height="3.0" fill-opacity="0.09"/><rect x="76.7" y="1425.9" width="2.5" height="3.0" fill-opacity="0.46"/><rect x="93.0" y="1438.4" width="2.5" height="5.0" fill-opacity="0.11"/><rect x="76.4" y="1418.1" width="2.0" height="4.0" fill-opacity="0.57"/><rect x="77.7" y="1419.0" width="2.0" height="5.0" fill-opacity="0.53"/><rect x="93.1" y="1434.4" width="3.0" height="5.0" fill-opacity="0.10"/><rect x="79.3" y="1439.4" width="2.0" height="3.0" fill-opacity="0.50"/><rect x="86.5" y="1475.2" width="2.0" height="3.0" fill-opacity="0.24"/><rect x="87.0" y="1429.3" width="1.5" height="4.0" fill-opacity="0.02"/><rect x="85.9" y="1484.6" width="2.5" height="5.0" fill-opacity="0.07"/><rect x="76.7" y="1463.2" width="2.0" height="3.0" fill-opacity="0.55"/><rect x="80.5" y="1409.1" width="2.5" height="5.0" fill-opacity="0.11"/><rect x="84.0" y="1473.1" width="2.0" height="4.0" fill-opacity="0.10"/><rect x="77.4" y="1424.9" width="2.0" height="5.0" fill-opacity="0.42"/><rect x="88.4" y="1448.0" width="1.5" height="3.0" fill-opacity="0.37"/><rect x="87.7" y="1477.9" width="1.5" height="2.0" fill-opacity="0.36"/><rect x="89.4" y="1469.8" width="2.0" height="5.0" fill-opacity="0.13"/><rect x="87.2" y="1419.0" width="2.0" height="2.0" fill-opacity="0.31"/><rect x="77.0" y="1452.4" width="2.5" height="3.0" fill-opacity="0.08"/><rect x="87.9" y="1470.6" width="2.0" height="4.0" fill-opacity="0.47"/><rect x="98.3" y="1486.8" width="3.0" height="4.0" fill-opacity="0.30"/><rect x="79.8" y="1441.2" width="2.5" height="4.0" fill-opacity="0.30"/><rect x="76.4" y="1434.7" width="3.0" height="5.0" fill-opacity="0.28"/><rect x="81.6" y="1476.4" width="3.0" height="3.0" fill-opacity="0.02"/><rect x="80.4" y="1467.0" width="2.0" height="3.0" fill-opacity="0.20"/><rect x="85.9" y="1487.9" width="2.0" height="5.0" fill-opacity="0.23"/><rect x="85.5" y="1437.2" width="2.0" height="4.0" fill-opacity="0.49"/><rect x="80.6" y="1427.3" width="1.5" height="4.0" fill-opacity="0.44"/><rect x="78.2" y="1462.4" width="3.0" height="2.0" fill-opacity="0.35"/><rect x="76.0" y="1464.2" width="2.0" height="2.0" fill-opacity="0.03"/><rect x="91.2" y="1470.0" width="1.5" height="4.0" fill-opacity="0.22"/><rect x="87.2" y="1484.8" width="1.5" height="2.0" fill-opacity="0.48"/><rect x="92.2" y="1490.7" width="3.0" height="4.0" fill-opacity="0.20"/><rect x="98.9" y="1432.5" width="3.0" height="3.0" fill-opacity="0.10"/><rect x="87.0" y="1499.0" width="2.5" height="4.0" fill-opacity="0.06"/><rect x="80.0" y="1442.6" width="2.0" height="4.0" fill-opacity="0.17"/><rect x="83.7" y="1441.1" width="3.0" height="5.0" fill-opacity="0.31"/><rect x="95.7" y="1490.5" width="1.5" height="4.0" fill-opacity="0.12"/><rect x="82.3" y="1415.0" width="3.0" height="5.0" fill-opacity="0.11"/><rect x="81.2" y="1428.7" width="2.0" height="2.0" fill-opacity="0.54"/><rect x="90.7" y="1479.7" width="2.0" height="5.0" fill-opacity="0.42"/><rect x="87.3" y="1398.7" width="2.0" height="5.0" fill-opacity="0.09"/><rect x="99.3" y="1483.2" width="2.5" height="4.0" fill-opacity="0.33"/><rect x="81.3" y="1404.6" width="2.0" height="4.0" fill-opacity="0.02"/><rect x="89.1" y="1442.9" width="2.0" height="4.0" fill-opacity="0.50"/><rect x="85.3" y="1396.4" width="3.0" height="3.0" fill-opacity="0.02"/><rect x="98.9" y="1459.2" width="2.0" height="4.0" fill-opacity="0.20"/><rect x="92.3" y="1472.0" width="2.5" height="2.0" fill-opacity="0.31"/><rect x="84.4" y="1470.5" width="1.5" height="2.0" fill-opacity="0.13"/><rect x="80.1" y="1453.5" width="2.0" height="2.0" fill-opacity="0.18"/><rect x="86.0" y="1434.7" width="3.0" height="5.0" fill-opacity="0.53"/><rect x="87.6" y="1397.2" width="3.0" height="4.0" fill-opacity="0.11"/><rect x="83.0" y="1448.3" width="2.0" height="2.0" fill-opacity="0.01"/><rect x="86.7" y="1465.1" width="2.5" height="2.0" fill-opacity="0.40"/><rect x="83.3" y="1484.4" width="2.0" height="5.0" fill-opacity="0.19"/><rect x="78.0" y="1429.1" width="1.5" height="4.0" fill-opacity="0.14"/><rect x="79.5" y="1460.8" width="2.0" height="4.0" fill-opacity="0.10"/><rect x="80.0" y="1453.9" width="3.0" height="2.0" fill-opacity="0.46"/><rect x="90.2" y="1480.0" width="2.0" height="4.0" fill-opacity="0.29"/><rect x="87.7" y="1475.8" width="1.5" height="4.0" fill-opacity="0.11"/><rect x="98.3" y="1443.8" width="2.0" height="5.0" fill-opacity="0.21"/><rect x="84.6" y="1487.9" width="2.0" height="4.0" fill-opacity="0.37"/><rect x="91.5" y="1426.8" width="2.0" height="5.0" fill-opacity="0.43"/><rect x="99.9" y="1405.1" width="1.5" height="2.0" fill-opacity="0.09"/><rect x="77.7" y="1398.2" width="3.0" height="4.0" fill-opacity="0.03"/><rect x="86.7" y="1469.4" width="2.0" height="5.0" fill-opacity="0.14"/><rect x="84.0" y="1430.8" width="2.5" height="2.0" fill-opacity="0.13"/><rect x="80.9" y="1398.5" width="1.5" height="5.0" fill-opacity="0.14"/><rect x="85.5" y="1425.8" width="1.5" height="2.0" fill-opacity="0.27"/><rect x="89.7" y="1399.3" width="3.0" height="2.0" fill-opacity="0.12"/><rect x="81.6" y="1414.6" width="2.0" height="2.0" fill-opacity="0.12"/><rect x="84.0" y="1412.6" width="2.0" height="2.0" fill-opacity="0.05"/><rect x="81.6" y="1461.4" width="1.5" height="4.0" fill-opacity="0.55"/><rect x="88.2" y="1435.8" width="2.0" height="5.0" fill-opacity="0.16"/><rect x="92.6" y="1433.4" width="2.0" height="3.0" fill-opacity="0.07"/><rect x="83.7" y="1449.3" width="2.5" height="5.0" fill-opacity="0.10"/><rect x="79.1" y="1450.1" width="2.0" height="3.0" fill-opacity="0.16"/><rect x="91.8" y="1433.1" width="2.0" height="5.0" fill-opacity="0.11"/><rect x="94.8" y="1487.0" width="2.0" height="3.0" fill-opacity="0.33"/><rect x="96.0" y="1446.7" width="2.5" height="2.0" fill-opacity="0.09"/><rect x="85.7" y="1448.9" width="3.0" height="5.0" fill-opacity="0.35"/><rect x="80.4" y="1424.7" width="2.0" height="2.0" fill-opacity="0.57"/><rect x="79.0" y="1449.8" width="2.0" height="3.0" fill-opacity="0.31"/><rect x="77.0" y="1496.5" width="3.0" height="2.0" fill-opacity="0.10"/><rect x="97.8" y="1485.2" width="2.0" height="5.0" fill-opacity="0.12"/><rect x="93.8" y="1441.0" width="2.0" height="4.0" fill-opacity="0.29"/><rect x="95.4" y="1440.2" width="1.5" height="4.0" fill-opacity="0.22"/><rect x="99.7" y="1460.1" width="3.0" height="4.0" fill-opacity="0.16"/><rect x="94.8" y="1437.5" width="1.5" height="4.0" fill-opacity="0.10"/><rect x="82.7" y="1435.9" width="2.0" height="5.0" fill-opacity="0.03"/><rect x="79.2" y="1412.8" width="3.0" height="5.0" fill-opacity="0.11"/><rect x="97.7" y="1432.9" width="2.5" height="3.0" fill-opacity="0.13"/><rect x="96.1" y="1406.6" width="2.5" height="3.0" fill-opacity="0.13"/><rect x="86.0" y="1475.4" width="2.5" height="3.0" fill-opacity="0.47"/><rect x="82.9" y="1444.3" width="2.0" height="2.0" fill-opacity="0.11"/><rect x="92.4" y="1459.1" width="2.5" height="5.0" fill-opacity="0.11"/><rect x="91.8" y="1459.0" width="2.0" height="5.0" fill-opacity="0.20"/><rect x="81.3" y="1487.4" width="2.5" height="5.0" fill-opacity="0.41"/><rect x="88.3" y="1418.8" width="1.5" height="3.0" fill-opacity="0.51"/><rect x="88.1" y="1453.3" width="1.5" height="5.0" fill-opacity="0.13"/><rect x="90.7" y="1430.1" width="3.0" height="4.0" fill-opacity="0.21"/><rect x="79.3" y="1479.9" width="2.5" height="4.0" fill-opacity="0.63"/><rect x="91.9" y="1440.1" width="2.0" height="5.0" fill-opacity="0.25"/><rect x="86.5" y="1446.4" width="1.5" height="2.0" fill-opacity="0.30"/><rect x="83.1" y="1444.9" width="3.0" height="5.0" fill-opacity="0.10"/><rect x="90.8" y="1445.6" width="2.0" height="3.0" fill-opacity="0.37"/><rect x="89.6" y="1396.9" width="2.5" height="5.0" fill-opacity="0.06"/><rect x="81.8" y="1431.7" width="1.5" height="4.0" fill-opacity="0.48"/><rect x="86.5" y="1437.6" width="3.0" height="4.0" fill-opacity="0.00"/><rect x="80.2" y="1467.5" width="1.5" height="2.0" fill-opacity="0.44"/><rect x="94.9" y="1473.4" width="1.5" height="5.0" fill-opacity="0.06"/><rect x="88.5" y="1405.3" width="2.0" height="4.0" fill-opacity="0.06"/><rect x="77.1" y="1461.8" width="3.0" height="3.0" fill-opacity="0.61"/><rect x="88.5" y="1495.6" width="3.0" height="3.0" fill-opacity="0.07"/><rect x="76.7" y="1462.7" width="2.0" height="2.0" fill-opacity="0.25"/><rect x="76.1" y="1490.4" width="1.5" height="2.0" fill-opacity="0.53"/><rect x="86.6" y="1448.0" width="2.5" height="5.0" fill-opacity="0.04"/><rect x="81.9" y="1419.2" width="3.0" height="5.0" fill-opacity="0.47"/><rect x="83.4" y="1397.9" width="2.0" height="4.0" fill-opacity="0.05"/><rect x="97.3" y="1442.9" width="3.0" height="2.0" fill-opacity="0.15"/><rect x="96.6" y="1464.8" width="1.5" height="3.0" fill-opacity="0.16"/><rect x="80.1" y="1425.7" width="2.0" height="4.0" fill-opacity="0.15"/><rect x="82.9" y="1464.3" width="2.0" height="3.0" fill-opacity="0.30"/><rect x="78.6" y="1456.3" width="1.5" height="3.0" fill-opacity="0.41"/><rect x="82.3" y="1436.0" width="1.5" height="4.0" fill-opacity="0.31"/><rect x="78.9" y="1455.4" width="2.5" height="4.0" fill-opacity="0.53"/><rect x="86.7" y="1409.0" width="2.0" height="3.0" fill-opacity="0.01"/><rect x="76.1" y="1442.6" width="2.0" height="2.0" fill-opacity="0.06"/><rect x="93.3" y="1457.9" width="2.5" height="5.0" fill-opacity="0.15"/><rect x="78.1" y="1458.8" width="2.0" height="3.0" fill-opacity="0.33"/><rect x="81.6" y="1414.1" width="1.5" height="2.0" fill-opacity="0.01"/><rect x="78.3" y="1490.9" width="1.5" height="4.0" fill-opacity="0.23"/><rect x="77.5" y="1486.7" width="2.0" height="5.0" fill-opacity="0.25"/><rect x="85.5" y="1458.0" width="2.0" height="4.0" fill-opacity="0.51"/><rect x="89.8" y="1412.9" width="1.5" height="3.0" fill-opacity="0.12"/><rect x="81.4" y="1444.7" width="2.0" height="2.0" fill-opacity="0.16"/><rect x="84.2" y="1411.3" width="2.0" height="5.0" fill-opacity="0.06"/><rect x="81.9" y="1456.3" width="2.5" height="3.0" fill-opacity="0.41"/><rect x="92.4" y="1440.4" width="2.0" height="3.0" fill-opacity="0.17"/><rect x="79.3" y="1462.8" width="2.0" height="5.0" fill-opacity="0.13"/><rect x="80.4" y="1455.8" width="2.0" height="2.0" fill-opacity="0.01"/><rect x="77.9" y="1495.5" width="3.0" height="3.0" fill-opacity="0.19"/><rect x="89.0" y="1426.4" width="2.5" height="4.0" fill-opacity="0.49"/><rect x="79.2" y="1490.0" width="3.0" height="2.0" fill-opacity="0.47"/><rect x="87.1" y="1430.9" width="2.0" height="4.0" fill-opacity="0.43"/><rect x="77.5" y="1462.8" width="2.5" height="3.0" fill-opacity="0.52"/><rect x="81.3" y="1437.1" width="2.0" height="5.0" fill-opacity="0.01"/><rect x="79.6" y="1431.6" width="2.0" height="5.0" fill-opacity="0.11"/><rect x="88.0" y="1432.3" width="2.0" height="3.0" fill-opacity="0.06"/><rect x="88.0" y="1404.8" width="2.0" height="5.0" fill-opacity="0.10"/><rect x="80.3" y="1451.2" width="1.5" height="3.0" fill-opacity="0.17"/><rect x="92.2" y="1411.1" width="3.0" height="2.0" fill-opacity="0.07"/><rect x="95.6" y="1430.7" width="2.0" height="5.0" fill-opacity="0.03"/><rect x="94.0" y="1429.4" width="2.0" height="2.0" fill-opacity="0.22"/><rect x="86.8" y="1401.7" width="3.0" height="5.0" fill-opacity="0.10"/><rect x="91.3" y="1475.6" width="1.5" height="5.0" fill-opacity="0.44"/><rect x="79.4" y="1479.9" width="3.0" height="4.0" fill-opacity="0.17"/><rect x="88.2" y="1452.2" width="2.0" height="3.0" fill-opacity="0.39"/><rect x="97.5" y="1402.3" width="1.5" height="2.0" fill-opacity="0.08"/><rect x="76.6" y="1400.2" width="2.5" height="2.0" fill-opacity="0.18"/><rect x="86.6" y="1417.9" width="2.0" height="3.0" fill-opacity="0.45"/><rect x="90.1" y="1433.1" width="2.5" height="2.0" fill-opacity="0.21"/><rect x="78.8" y="1453.8" width="2.0" height="4.0" fill-opacity="0.29"/><rect x="97.0" y="1439.8" width="2.0" height="2.0" fill-opacity="0.33"/><rect x="94.1" y="1489.4" width="2.0" height="5.0" fill-opacity="0.19"/><rect x="89.8" y="1436.7" width="2.0" height="3.0" fill-opacity="0.47"/><rect x="91.8" y="1484.1" width="2.0" height="3.0" fill-opacity="0.42"/><rect x="97.3" y="1465.0" width="3.0" height="3.0" fill-opacity="0.27"/><rect x="83.9" y="1475.2" width="2.0" height="2.0" fill-opacity="0.15"/><rect x="77.5" y="1434.2" width="2.0" height="5.0" fill-opacity="0.47"/><rect x="80.7" y="1475.6" width="2.0" height="3.0" fill-opacity="0.21"/><rect x="81.6" y="1440.7" width="2.0" height="2.0" fill-opacity="0.55"/><rect x="89.5" y="1420.4" width="1.5" height="5.0" fill-opacity="0.14"/><rect x="80.8" y="1435.6" width="1.5" height="4.0" fill-opacity="0.55"/><rect x="82.8" y="1485.8" width="2.0" height="4.0" fill-opacity="0.57"/><rect x="79.9" y="1464.7" width="2.0" height="3.0" fill-opacity="0.31"/><rect x="88.8" y="1485.0" width="3.0" height="3.0" fill-opacity="0.29"/><rect x="81.5" y="1422.4" width="1.5" height="4.0" fill-opacity="0.45"/><rect x="98.0" y="1454.2" width="2.0" height="4.0" fill-opacity="0.27"/><rect x="85.9" y="1444.3" width="2.5" height="3.0" fill-opacity="0.21"/><rect x="78.4" y="1447.2" width="1.5" height="3.0" fill-opacity="0.58"/><rect x="99.6" y="1430.6" width="2.0" height="5.0" fill-opacity="0.01"/><rect x="76.3" y="1478.4" width="1.5" height="3.0" fill-opacity="0.13"/><rect x="79.3" y="1456.6" width="2.5" height="2.0" fill-opacity="0.50"/><rect x="97.9" y="1477.4" width="2.0" height="5.0" fill-opacity="0.07"/><rect x="84.0" y="1478.6" width="2.0" height="3.0" fill-opacity="0.54"/><rect x="93.4" y="1422.6" width="2.5" height="2.0" fill-opacity="0.12"/><rect x="79.4" y="1482.1" width="2.0" height="2.0" fill-opacity="0.11"/><rect x="87.9" y="1420.3" width="2.0" height="4.0" fill-opacity="0.00"/><rect x="84.0" y="1466.1" width="2.0" height="2.0" fill-opacity="0.25"/><rect x="91.9" y="1419.1" width="1.5" height="2.0" fill-opacity="0.18"/><rect x="77.7" y="1474.7" width="2.0" height="3.0" fill-opacity="0.65"/><rect x="90.5" y="1429.7" width="3.0" height="5.0" fill-opacity="0.27"/><rect x="95.6" y="1427.9" width="3.0" height="2.0" fill-opacity="0.11"/><rect x="77.6" y="1416.5" width="2.0" height="2.0" fill-opacity="0.15"/><rect x="90.0" y="1447.7" width="1.5" height="2.0" fill-opacity="0.17"/><rect x="92.8" y="1431.9" width="2.0" height="2.0" fill-opacity="0.24"/><rect x="78.8" y="1411.6" width="1.5" height="3.0" fill-opacity="0.19"/><rect x="88.6" y="1419.2" width="2.5" height="4.0" fill-opacity="0.13"/><rect x="82.3" y="1448.2" width="2.5" height="3.0" fill-opacity="0.07"/><rect x="79.3" y="1480.4" width="3.0" height="4.0" fill-opacity="0.34"/><rect x="97.7" y="1422.4" width="2.0" height="3.0" fill-opacity="0.20"/><rect x="84.5" y="1488.6" width="2.0" height="3.0" fill-opacity="0.07"/><rect x="92.8" y="1470.7" width="2.0" height="5.0" fill-opacity="0.17"/><rect x="88.5" y="1443.2" width="1.5" height="5.0" fill-opacity="0.11"/><rect x="79.6" y="1450.3" width="1.5" height="5.0" fill-opacity="0.62"/><rect x="89.8" y="1481.6" width="2.0" height="4.0" fill-opacity="0.26"/><rect x="83.3" y="1445.7" width="3.0" height="4.0" fill-opacity="0.15"/><rect x="93.6" y="1419.6" width="2.0" height="2.0" fill-opacity="0.05"/><rect x="90.6" y="1469.3" width="3.0" height="2.0" fill-opacity="0.08"/><rect x="94.8" y="1482.6" width="2.0" height="5.0" fill-opacity="0.26"/><rect x="85.6" y="1422.4" width="2.0" height="3.0" fill-opacity="0.39"/><rect x="80.9" y="1476.0" width="2.0" height="4.0" fill-opacity="0.17"/><rect x="82.8" y="1451.6" width="2.0" height="5.0" fill-opacity="0.34"/><rect x="84.8" y="1442.5" width="1.5" height="2.0" fill-opacity="0.09"/><rect x="92.5" y="1462.0" width="3.0" height="2.0" fill-opacity="0.29"/><rect x="97.9" y="1416.4" width="2.0" height="3.0" fill-opacity="0.17"/><rect x="79.0" y="1479.6" width="2.0" height="2.0" fill-opacity="0.39"/><rect x="83.3" y="1420.3" width="2.5" height="5.0" fill-opacity="0.23"/><rect x="97.7" y="1461.6" width="2.0" height="2.0" fill-opacity="0.27"/><rect x="99.0" y="1469.9" width="2.0" height="4.0" fill-opacity="0.35"/><rect x="83.7" y="1445.2" width="1.5" height="5.0" fill-opacity="0.57"/><rect x="94.3" y="1421.7" width="2.0" height="3.0" fill-opacity="0.06"/><rect x="85.9" y="1422.6" width="2.5" height="2.0" fill-opacity="0.30"/><rect x="83.6" y="1481.5" width="2.5" height="5.0" fill-opacity="0.07"/><rect x="86.5" y="1466.6" width="2.5" height="5.0" fill-opacity="0.50"/><rect x="99.8" y="1458.2" width="2.0" height="4.0" fill-opacity="0.13"/><rect x="79.1" y="1444.7" width="3.0" height="2.0" fill-opacity="0.36"/><rect x="77.8" y="1489.8" width="2.0" height="5.0" fill-opacity="0.55"/><rect x="96.8" y="1405.9" width="2.0" height="2.0" fill-opacity="0.12"/><rect x="79.5" y="1401.2" width="2.0" height="3.0" fill-opacity="0.14"/><rect x="91.4" y="1413.0" width="3.0" height="3.0" fill-opacity="0.04"/><rect x="80.4" y="1417.6" width="2.0" height="3.0" fill-opacity="0.45"/><rect x="91.2" y="1452.6" width="2.5" height="2.0" fill-opacity="0.11"/><rect x="91.9" y="1420.7" width="2.0" height="5.0" fill-opacity="0.11"/><rect x="80.1" y="1439.5" width="1.5" height="5.0" fill-opacity="0.03"/><rect x="97.3" y="1445.9" width="2.5" height="5.0" fill-opacity="0.12"/><rect x="88.6" y="1457.6" width="2.0" height="3.0" fill-opacity="0.18"/><rect x="85.9" y="1450.3" width="3.0" height="3.0" fill-opacity="0.21"/><rect x="88.3" y="1416.8" width="2.5" height="4.0" fill-opacity="0.35"/><rect x="81.1" y="1442.6" width="2.0" height="4.0" fill-opacity="0.03"/><rect x="82.2" y="1469.8" width="3.0" height="4.0" fill-opacity="0.12"/><rect x="96.3" y="1445.1" width="2.0" height="3.0" fill-opacity="0.10"/><rect x="81.7" y="1488.2" width="2.5" height="4.0" fill-opacity="0.36"/><rect x="99.0" y="1440.2" width="2.0" height="3.0" fill-opacity="0.33"/><rect x="85.3" y="1467.8" width="3.0" height="3.0" fill-opacity="0.11"/><rect x="81.7" y="1495.6" width="2.0" height="4.0" fill-opacity="0.05"/><rect x="93.8" y="1421.5" width="2.5" height="5.0" fill-opacity="0.42"/><rect x="95.3" y="1481.7" width="2.0" height="3.0" fill-opacity="0.15"/><rect x="98.0" y="1448.8" width="2.0" height="5.0" fill-opacity="0.29"/><rect x="85.2" y="1470.7" width="3.0" height="5.0" fill-opacity="0.27"/><rect x="84.8" y="1498.6" width="2.0" height="5.0" fill-opacity="0.10"/><rect x="82.1" y="1444.6" width="3.0" height="2.0" fill-opacity="0.48"/><rect x="94.5" y="1423.1" width="2.0" height="3.0" fill-opacity="0.11"/><rect x="90.1" y="1404.3" width="2.0" height="4.0" fill-opacity="0.07"/><rect x="93.5" y="1427.5" width="2.5" height="3.0" fill-opacity="0.30"/><rect x="89.5" y="1443.1" width="2.0" height="2.0" fill-opacity="0.37"/><rect x="76.4" y="1411.1" width="2.5" height="3.0" fill-opacity="0.20"/><rect x="99.7" y="1477.8" width="3.0" height="5.0" fill-opacity="0.23"/><rect x="83.2" y="1429.5" width="1.5" height="4.0" fill-opacity="0.45"/><rect x="98.9" y="1464.0" width="1.5" height="2.0" fill-opacity="0.02"/><rect x="86.1" y="1415.3" width="2.0" height="4.0" fill-opacity="0.35"/><rect x="85.6" y="1489.3" width="2.5" height="3.0" fill-opacity="0.37"/><rect x="81.0" y="1466.0" width="2.0" height="3.0" fill-opacity="0.07"/><rect x="77.6" y="1481.6" width="1.5" height="4.0" fill-opacity="0.01"/><rect x="98.6" y="1431.1" width="3.0" height="5.0" fill-opacity="0.32"/><rect x="80.0" y="1457.8" width="1.5" height="5.0" fill-opacity="0.18"/><rect x="96.9" y="1399.1" width="2.0" height="3.0" fill-opacity="0.12"/><rect x="95.5" y="1414.2" width="3.0" height="2.0" fill-opacity="0.03"/><rect x="89.2" y="1445.8" width="2.5" height="3.0" fill-opacity="0.30"/><rect x="88.4" y="1469.9" width="2.0" height="5.0" fill-opacity="0.17"/><rect x="83.1" y="1435.7" width="2.0" height="4.0" fill-opacity="0.34"/><rect x="87.0" y="1487.0" width="2.0" height="5.0" fill-opacity="0.07"/><rect x="91.6" y="1496.8" width="2.0" height="4.0" fill-opacity="0.09"/><rect x="78.1" y="1496.9" width="2.0" height="2.0" fill-opacity="0.07"/><rect x="88.0" y="1416.5" width="3.0" height="2.0" fill-opacity="0.11"/><rect x="80.0" y="1417.0" width="2.5" height="4.0" fill-opacity="0.37"/><rect x="92.8" y="1454.1" width="2.0" height="3.0" fill-opacity="0.38"/><rect x="98.0" y="1414.4" width="1.5" height="2.0" fill-opacity="0.02"/><rect x="78.7" y="1480.0" width="2.0" height="5.0" fill-opacity="0.16"/><rect x="80.7" y="1445.7" width="2.0" height="4.0" fill-opacity="0.50"/><rect x="85.2" y="1438.7" width="1.5" height="5.0" fill-opacity="0.15"/><rect x="93.3" y="1422.6" width="1.5" height="5.0" fill-opacity="0.35"/><rect x="93.8" y="1396.2" width="3.0" height="5.0" fill-opacity="0.08"/><rect x="80.5" y="1435.7" width="2.5" height="2.0" fill-opacity="0.25"/><rect x="97.6" y="1440.8" width="2.5" height="4.0" fill-opacity="0.11"/><rect x="76.3" y="1446.1" width="2.5" height="2.0" fill-opacity="0.30"/><rect x="79.9" y="1418.0" width="2.0" height="2.0" fill-opacity="0.48"/><rect x="93.0" y="1451.3" width="2.5" height="4.0" fill-opacity="0.01"/><rect x="97.5" y="1462.3" width="2.0" height="5.0" fill-opacity="0.32"/><rect x="87.7" y="1474.6" width="1.5" height="3.0" fill-opacity="0.48"/><rect x="89.0" y="1433.2" width="2.0" height="5.0" fill-opacity="0.40"/><rect x="86.8" y="1456.9" width="3.0" height="4.0" fill-opacity="0.32"/><rect x="87.1" y="1424.3" width="3.0" height="5.0" fill-opacity="0.13"/><rect x="90.0" y="1455.6" width="1.5" height="3.0" fill-opacity="0.15"/><rect x="87.1" y="1418.7" width="2.0" height="4.0" fill-opacity="0.02"/><rect x="90.8" y="1463.3" width="2.0" height="5.0" fill-opacity="0.42"/><rect x="92.4" y="1428.8" width="2.0" height="5.0" fill-opacity="0.07"/><rect x="90.3" y="1448.9" width="1.5" height="4.0" fill-opacity="0.12"/><rect x="78.8" y="1443.8" width="1.5" height="5.0" fill-opacity="0.65"/><rect x="89.0" y="1462.1" width="2.0" height="5.0" fill-opacity="0.06"/><rect x="82.3" y="1460.3" width="2.0" height="4.0" fill-opacity="0.09"/><rect x="88.6" y="1417.5" width="2.0" height="4.0" fill-opacity="0.35"/><rect x="79.0" y="1417.5" width="2.5" height="5.0" fill-opacity="0.23"/><rect x="81.8" y="1478.9" width="2.0" height="3.0" fill-opacity="0.21"/><rect x="94.1" y="1445.2" width="2.0" height="4.0" fill-opacity="0.17"/><rect x="94.7" y="1444.4" width="2.0" height="3.0" fill-opacity="0.09"/><rect x="97.4" y="1453.1" width="1.5" height="4.0" fill-opacity="0.27"/><rect x="77.8" y="1449.4" width="2.0" height="4.0" fill-opacity="0.30"/><rect x="78.7" y="1397.3" width="3.0" height="3.0" fill-opacity="0.03"/><rect x="87.4" y="1408.0" width="3.0" height="2.0" fill-opacity="0.06"/><rect x="86.3" y="1430.2" width="2.0" height="5.0" fill-opacity="0.28"/><rect x="85.9" y="1437.7" width="2.5" height="5.0" fill-opacity="0.28"/><rect x="81.0" y="1465.2" width="2.0" height="5.0" fill-opacity="0.36"/><rect x="78.7" y="1450.2" width="2.5" height="4.0" fill-opacity="0.05"/><rect x="90.3" y="1435.9" width="2.0" height="5.0" fill-opacity="0.07"/><rect x="80.9" y="1411.9" width="2.5" height="2.0" fill-opacity="0.03"/><rect x="82.3" y="1461.6" width="1.5" height="4.0" fill-opacity="0.34"/><rect x="79.6" y="1442.8" width="3.0" height="3.0" fill-opacity="0.14"/><rect x="92.5" y="1458.7" width="1.5" height="5.0" fill-opacity="0.14"/><rect x="84.0" y="1489.1" width="3.0" height="4.0" fill-opacity="0.11"/><rect x="99.8" y="1429.5" width="2.0" height="2.0" fill-opacity="0.03"/><rect x="92.1" y="1428.9" width="2.0" height="4.0" fill-opacity="0.20"/><rect x="76.7" y="1482.3" width="1.5" height="5.0" fill-opacity="0.16"/><rect x="88.9" y="1495.0" width="1.5" height="3.0" fill-opacity="0.16"/><rect x="76.5" y="1489.6" width="3.0" height="5.0" fill-opacity="0.46"/><rect x="87.1" y="1471.7" width="2.5" height="3.0" fill-opacity="0.32"/><rect x="88.7" y="1415.5" width="2.0" height="4.0" fill-opacity="0.04"/><rect x="79.6" y="1465.6" width="2.0" height="2.0" fill-opacity="0.33"/><rect x="81.1" y="1487.7" width="2.0" height="4.0" fill-opacity="0.57"/><rect x="84.5" y="1485.9" width="1.5" height="2.0" fill-opacity="0.52"/><rect x="85.6" y="1397.4" width="2.5" height="5.0" fill-opacity="0.18"/><rect x="86.3" y="2128.5" width="3.0" height="5.0" fill-opacity="0.04"/><rect x="88.4" y="2077.6" width="3.0" height="5.0" fill-opacity="0.10"/><rect x="92.3" y="2153.4" width="2.0" height="3.0" fill-opacity="0.33"/><rect x="94.1" y="2126.3" width="1.5" height="2.0" fill-opacity="0.01"/><rect x="82.0" y="2163.3" width="3.0" height="3.0" fill-opacity="0.08"/><rect x="98.9" y="2155.2" width="2.5" height="4.0" fill-opacity="0.00"/><rect x="91.0" y="2091.8" width="2.0" height="2.0" fill-opacity="0.32"/><rect x="91.3" y="2098.4" width="3.0" height="2.0" fill-opacity="0.12"/><rect x="98.3" y="2089.2" width="3.0" height="3.0" fill-opacity="0.13"/><rect x="90.7" y="2113.9" width="3.0" height="5.0" fill-opacity="0.03"/><rect x="81.6" y="2136.6" width="2.5" height="2.0" fill-opacity="0.35"/><rect x="89.5" y="2137.2" width="2.5" height="2.0" fill-opacity="0.38"/><rect x="85.9" y="2148.2" width="3.0" height="5.0" fill-opacity="0.31"/><rect x="82.2" y="2178.7" width="2.0" height="4.0" fill-opacity="0.02"/><rect x="92.9" y="2139.7" width="1.5" height="4.0" fill-opacity="0.18"/><rect x="79.7" y="2138.7" width="2.0" height="4.0" fill-opacity="0.13"/><rect x="77.2" y="2093.4" width="2.0" height="2.0" fill-opacity="0.33"/><rect x="86.9" y="2153.9" width="2.0" height="3.0" fill-opacity="0.19"/><rect x="87.4" y="2152.2" width="2.0" height="3.0" fill-opacity="0.09"/><rect x="90.2" y="2168.0" width="2.5" height="5.0" fill-opacity="0.07"/><rect x="82.4" y="2169.5" width="3.0" height="3.0" fill-opacity="0.07"/><rect x="83.3" y="2106.0" width="1.5" height="2.0" fill-opacity="0.14"/><rect x="84.6" y="2098.5" width="1.5" height="3.0" fill-opacity="0.48"/><rect x="89.2" y="2123.3" width="2.0" height="5.0" fill-opacity="0.08"/><rect x="81.1" y="2152.7" width="2.0" height="2.0" fill-opacity="0.55"/><rect x="90.1" y="2148.8" width="2.5" height="2.0" fill-opacity="0.50"/><rect x="79.1" y="2071.0" width="2.0" height="3.0" fill-opacity="0.07"/><rect x="87.8" y="2168.7" width="2.5" height="5.0" fill-opacity="0.08"/><rect x="91.1" y="2139.0" width="2.0" height="2.0" fill-opacity="0.15"/><rect x="86.3" y="2073.1" width="3.0" height="3.0" fill-opacity="0.01"/><rect x="80.4" y="2182.8" width="2.0" height="3.0" fill-opacity="0.05"/><rect x="96.4" y="2102.0" width="2.0" height="2.0" fill-opacity="0.23"/><rect x="79.2" y="2177.8" width="2.0" height="3.0" fill-opacity="0.05"/><rect x="98.7" y="2173.2" width="2.0" height="5.0" fill-opacity="0.08"/><rect x="94.7" y="2159.7" width="2.5" height="2.0" fill-opacity="0.13"/><rect x="95.4" y="2106.7" width="3.0" height="5.0" fill-opacity="0.04"/><rect x="78.3" y="2098.4" width="2.0" height="5.0" fill-opacity="0.32"/><rect x="89.9" y="2172.5" width="3.0" height="4.0" fill-opacity="0.12"/><rect x="99.9" y="2115.9" width="1.5" height="3.0" fill-opacity="0.20"/><rect x="94.5" y="2153.0" width="1.5" height="3.0" fill-opacity="0.36"/><rect x="85.1" y="2121.2" width="2.0" height="2.0" fill-opacity="0.07"/><rect x="78.5" y="2122.9" width="3.0" height="4.0" fill-opacity="0.28"/><rect x="78.5" y="2183.2" width="3.0" height="3.0" fill-opacity="0.01"/><rect x="78.3" y="2092.0" width="3.0" height="5.0" fill-opacity="0.42"/><rect x="90.2" y="2104.5" width="2.0" height="5.0" fill-opacity="0.16"/><rect x="81.2" y="2182.5" width="1.5" height="5.0" fill-opacity="0.20"/><rect x="86.9" y="2099.8" width="2.5" height="3.0" fill-opacity="0.43"/><rect x="89.1" y="2144.5" width="2.5" height="3.0" fill-opacity="0.48"/><rect x="78.3" y="2165.5" width="3.0" height="2.0" fill-opacity="0.09"/><rect x="77.9" y="2083.5" width="2.0" height="5.0" fill-opacity="0.05"/><rect x="92.1" y="2113.4" width="3.0" height="4.0" fill-opacity="0.31"/><rect x="96.4" y="2161.5" width="3.0" height="4.0" fill-opacity="0.07"/><rect x="83.0" y="2160.7" width="2.5" height="3.0" fill-opacity="0.14"/><rect x="88.8" y="2103.8" width="2.0" height="3.0" fill-opacity="0.17"/><rect x="94.3" y="2153.3" width="2.0" height="2.0" fill-opacity="0.07"/><rect x="79.1" y="2127.9" width="2.0" height="4.0" fill-opacity="0.24"/><rect x="85.8" y="2146.8" width="2.0" height="5.0" fill-opacity="0.53"/><rect x="87.6" y="2089.8" width="2.0" height="4.0" fill-opacity="0.14"/><rect x="85.5" y="2149.2" width="3.0" height="3.0" fill-opacity="0.23"/><rect x="97.3" y="2080.6" width="2.0" height="5.0" fill-opacity="0.01"/><rect x="91.8" y="2160.5" width="2.0" height="4.0" fill-opacity="0.07"/><rect x="84.2" y="2119.9" width="2.0" height="4.0" fill-opacity="0.22"/><rect x="88.1" y="2127.3" width="1.5" height="5.0" fill-opacity="0.06"/><rect x="88.2" y="2128.7" width="2.5" height="4.0" fill-opacity="0.44"/><rect x="77.4" y="2142.0" width="2.0" height="4.0" fill-opacity="0.41"/><rect x="77.5" y="2115.0" width="1.5" height="2.0" fill-opacity="0.55"/><rect x="82.0" y="2103.5" width="3.0" height="3.0" fill-opacity="0.34"/><rect x="89.8" y="2126.6" width="2.0" height="5.0" fill-opacity="0.47"/><rect x="78.9" y="2094.5" width="2.0" height="2.0" fill-opacity="0.38"/><rect x="79.0" y="2137.6" width="2.0" height="4.0" fill-opacity="0.35"/><rect x="86.1" y="2110.5" width="2.0" height="2.0" fill-opacity="0.15"/><rect x="89.4" y="2141.3" width="3.0" height="4.0" fill-opacity="0.22"/><rect x="92.2" y="2143.3" width="2.0" height="5.0" fill-opacity="0.35"/><rect x="92.0" y="2077.3" width="1.5" height="2.0" fill-opacity="0.15"/><rect x="82.9" y="2134.0" width="2.0" height="5.0" fill-opacity="0.18"/><rect x="90.2" y="2121.1" width="1.5" height="2.0" fill-opacity="0.01"/><rect x="96.1" y="2086.4" width="2.0" height="5.0" fill-opacity="0.04"/><rect x="81.0" y="2182.4" width="1.5" height="2.0" fill-opacity="0.12"/><rect x="89.5" y="2156.7" width="3.0" height="4.0" fill-opacity="0.12"/><rect x="78.4" y="2100.8" width="3.0" height="2.0" fill-opacity="0.15"/><rect x="86.5" y="2156.4" width="3.0" height="4.0" fill-opacity="0.06"/><rect x="83.9" y="2081.7" width="2.0" height="3.0" fill-opacity="0.12"/><rect x="78.8" y="2092.3" width="1.5" height="2.0" fill-opacity="0.43"/><rect x="93.3" y="2079.1" width="1.5" height="3.0" fill-opacity="0.01"/><rect x="92.0" y="2140.7" width="3.0" height="2.0" fill-opacity="0.28"/><rect x="84.7" y="2111.7" width="3.0" height="2.0" fill-opacity="0.11"/><rect x="85.7" y="2067.0" width="2.0" height="4.0" fill-opacity="0.01"/><rect x="93.5" y="2155.0" width="2.5" height="5.0" fill-opacity="0.35"/><rect x="85.0" y="2165.6" width="1.5" height="5.0" fill-opacity="0.13"/><rect x="88.9" y="2132.9" width="2.5" height="5.0" fill-opacity="0.09"/><rect x="100.6" y="2119.9" width="1.5" height="3.0" fill-opacity="0.24"/><rect x="78.7" y="2083.1" width="3.0" height="4.0" fill-opacity="0.19"/><rect x="78.5" y="2074.9" width="2.0" height="5.0" fill-opacity="0.11"/><rect x="81.7" y="2123.3" width="2.0" height="3.0" fill-opacity="0.35"/><rect x="90.9" y="2132.3" width="3.0" height="3.0" fill-opacity="0.23"/><rect x="77.6" y="2171.1" width="3.0" height="5.0" fill-opacity="0.19"/><rect x="87.6" y="2139.8" width="2.0" height="4.0" fill-opacity="0.50"/><rect x="99.7" y="2137.1" width="2.0" height="2.0" fill-opacity="0.23"/><rect x="91.8" y="2171.0" width="1.5" height="5.0" fill-opacity="0.07"/><rect x="91.0" y="2143.0" width="1.5" height="4.0" fill-opacity="0.20"/><rect x="92.0" y="2084.0" width="2.5" height="4.0" fill-opacity="0.32"/><rect x="87.1" y="2141.6" width="1.5" height="5.0" fill-opacity="0.32"/><rect x="86.2" y="2102.5" width="2.5" height="3.0" fill-opacity="0.24"/><rect x="87.0" y="2118.8" width="2.0" height="3.0" fill-opacity="0.45"/><rect x="81.0" y="2160.9" width="2.0" height="5.0" fill-opacity="0.18"/><rect x="77.8" y="2111.3" width="2.5" height="5.0" fill-opacity="0.57"/><rect x="93.2" y="2093.5" width="2.0" height="4.0" fill-opacity="0.42"/><rect x="85.8" y="2114.3" width="1.5" height="2.0" fill-opacity="0.03"/><rect x="83.5" y="2119.3" width="3.0" height="3.0" fill-opacity="0.32"/><rect x="82.7" y="2158.2" width="2.5" height="4.0" fill-opacity="0.05"/><rect x="81.7" y="2098.1" width="2.0" height="5.0" fill-opacity="0.06"/><rect x="90.4" y="2085.3" width="3.0" height="3.0" fill-opacity="0.30"/><rect x="86.2" y="2134.9" width="1.5" height="4.0" fill-opacity="0.13"/><rect x="94.3" y="2094.8" width="1.5" height="3.0" fill-opacity="0.32"/><rect x="97.1" y="2137.0" width="2.0" height="3.0" fill-opacity="0.00"/><rect x="86.6" y="2148.0" width="2.0" height="2.0" fill-opacity="0.34"/><rect x="89.2" y="2082.4" width="2.0" height="4.0" fill-opacity="0.07"/><rect x="77.8" y="2113.1" width="2.0" height="3.0" fill-opacity="0.00"/><rect x="88.9" y="2076.2" width="2.0" height="2.0" fill-opacity="0.00"/><rect x="91.4" y="2151.1" width="1.5" height="3.0" fill-opacity="0.03"/><rect x="86.6" y="2100.2" width="1.5" height="4.0" fill-opacity="0.12"/><rect x="81.8" y="2139.4" width="2.5" height="5.0" fill-opacity="0.55"/><rect x="90.3" y="2149.8" width="2.0" height="5.0" fill-opacity="0.13"/><rect x="91.4" y="2181.4" width="1.5" height="2.0" fill-opacity="0.12"/><rect x="99.9" y="2110.1" width="2.0" height="2.0" fill-opacity="0.02"/><rect x="91.0" y="2093.1" width="2.5" height="4.0" fill-opacity="0.37"/><rect x="85.0" y="2146.8" width="2.0" height="5.0" fill-opacity="0.18"/><rect x="90.9" y="2112.5" width="1.5" height="5.0" fill-opacity="0.05"/><rect x="85.3" y="2151.2" width="2.0" height="2.0" fill-opacity="0.53"/><rect x="93.4" y="2142.6" width="2.0" height="5.0" fill-opacity="0.15"/><rect x="95.0" y="2098.1" width="1.5" height="3.0" fill-opacity="0.32"/><rect x="91.6" y="2183.1" width="2.0" height="4.0" fill-opacity="0.04"/><rect x="82.6" y="2131.8" width="2.0" height="5.0" fill-opacity="0.24"/><rect x="78.0" y="2156.3" width="2.0" height="2.0" fill-opacity="0.14"/><rect x="100.5" y="2138.3" width="2.0" height="3.0" fill-opacity="0.17"/><rect x="99.0" y="2177.3" width="1.5" height="5.0" fill-opacity="0.06"/><rect x="80.4" y="2090.7" width="2.0" height="3.0" fill-opacity="0.07"/><rect x="78.2" y="2100.9" width="2.5" height="3.0" fill-opacity="0.19"/><rect x="77.4" y="2139.1" width="3.0" height="4.0" fill-opacity="0.43"/><rect x="90.9" y="2179.3" width="1.5" height="4.0" fill-opacity="0.03"/><rect x="94.1" y="2148.0" width="1.5" height="5.0" fill-opacity="0.08"/><rect x="84.4" y="2132.1" width="2.5" height="2.0" fill-opacity="0.20"/><rect x="97.6" y="2137.7" width="2.0" height="5.0" fill-opacity="0.03"/><rect x="80.9" y="2152.7" width="1.5" height="4.0" fill-opacity="0.20"/><rect x="78.4" y="2091.0" width="3.0" height="5.0" fill-opacity="0.28"/><rect x="77.8" y="2139.2" width="3.0" height="3.0" fill-opacity="0.21"/><rect x="96.7" y="2086.7" width="2.5" height="3.0" fill-opacity="0.32"/><rect x="83.6" y="2098.3" width="1.5" height="4.0" fill-opacity="0.22"/><rect x="95.3" y="2169.8" width="3.0" height="4.0" fill-opacity="0.08"/><rect x="79.7" y="2084.9" width="3.0" height="5.0" fill-opacity="0.51"/><rect x="93.8" y="2144.7" width="2.5" height="3.0" fill-opacity="0.29"/><rect x="93.5" y="2148.6" width="1.5" height="3.0" fill-opacity="0.44"/><rect x="87.6" y="2064.4" width="2.0" height="2.0" fill-opacity="0.13"/><rect x="77.1" y="2110.4" width="2.0" height="3.0" fill-opacity="0.05"/><rect x="93.7" y="2130.1" width="2.0" height="4.0" fill-opacity="0.29"/><rect x="87.3" y="2118.0" width="2.0" height="4.0" fill-opacity="0.15"/><rect x="91.4" y="2143.2" width="2.0" height="4.0" fill-opacity="0.29"/><rect x="88.1" y="2100.7" width="2.0" height="4.0" fill-opacity="0.52"/><rect x="89.9" y="2063.8" width="2.0" height="3.0" fill-opacity="0.03"/><rect x="83.2" y="2146.1" width="1.5" height="2.0" fill-opacity="0.23"/><rect x="82.1" y="2116.3" width="3.0" height="3.0" fill-opacity="0.48"/><rect x="88.6" y="2121.1" width="1.5" height="2.0" fill-opacity="0.31"/><rect x="82.8" y="2091.6" width="3.0" height="4.0" fill-opacity="0.12"/><rect x="86.8" y="2116.7" width="2.0" height="4.0" fill-opacity="0.03"/><rect x="80.7" y="2098.5" width="2.0" height="2.0" fill-opacity="0.14"/><rect x="78.7" y="2145.5" width="3.0" height="4.0" fill-opacity="0.44"/><rect x="78.7" y="2172.2" width="2.0" height="4.0" fill-opacity="0.21"/><rect x="92.1" y="2108.5" width="2.0" height="3.0" fill-opacity="0.32"/><rect x="96.1" y="2103.2" width="2.0" height="5.0" fill-opacity="0.40"/><rect x="93.7" y="2154.7" width="2.0" height="4.0" fill-opacity="0.07"/><rect x="91.3" y="2084.3" width="1.5" height="3.0" fill-opacity="0.41"/><rect x="79.4" y="2110.5" width="3.0" height="5.0" fill-opacity="0.12"/><rect x="83.9" y="2116.9" width="2.0" height="3.0" fill-opacity="0.51"/><rect x="87.3" y="2124.1" width="2.0" height="3.0" fill-opacity="0.15"/><rect x="79.1" y="2120.0" width="1.5" height="4.0" fill-opacity="0.10"/><rect x="90.4" y="2137.3" width="2.0" height="4.0" fill-opacity="0.31"/><rect x="98.2" y="2093.7" width="3.0" height="5.0" fill-opacity="0.35"/><rect x="86.3" y="2143.7" width="3.0" height="5.0" fill-opacity="0.41"/><rect x="86.4" y="2065.2" width="2.0" height="3.0" fill-opacity="0.17"/><rect x="77.8" y="2106.9" width="2.0" height="4.0" fill-opacity="0.50"/><rect x="94.2" y="2162.8" width="2.0" height="2.0" fill-opacity="0.08"/><rect x="87.2" y="2062.7" width="2.0" height="4.0" fill-opacity="0.06"/><rect x="90.0" y="2115.3" width="2.0" height="5.0" fill-opacity="0.08"/><rect x="81.2" y="2136.5" width="2.0" height="2.0" fill-opacity="0.10"/><rect x="83.0" y="2065.8" width="2.5" height="4.0" fill-opacity="0.00"/><rect x="92.8" y="2099.5" width="3.0" height="3.0" fill-opacity="0.29"/><rect x="85.9" y="2158.5" width="3.0" height="4.0" fill-opacity="0.03"/><rect x="78.1" y="2112.6" width="3.0" height="5.0" fill-opacity="0.25"/><rect x="78.1" y="2098.9" width="2.0" height="3.0" fill-opacity="0.05"/><rect x="93.6" y="2083.6" width="2.0" height="3.0" fill-opacity="0.03"/><rect x="85.3" y="2103.7" width="3.0" height="2.0" fill-opacity="0.34"/><rect x="91.2" y="2103.5" width="2.5" height="3.0" fill-opacity="0.24"/><rect x="90.2" y="2164.3" width="2.5" height="3.0" fill-opacity="0.06"/><rect x="78.2" y="2147.6" width="2.0" height="4.0" fill-opacity="0.31"/><rect x="78.1" y="2150.9" width="2.0" height="4.0" fill-opacity="0.48"/><rect x="81.6" y="2083.6" width="2.0" height="3.0" fill-opacity="0.34"/><rect x="91.8" y="2161.6" width="2.5" height="5.0" fill-opacity="0.11"/><rect x="96.1" y="2072.0" width="1.5" height="3.0" fill-opacity="0.01"/><rect x="86.6" y="2138.6" width="2.0" height="3.0" fill-opacity="0.06"/><rect x="78.1" y="2090.0" width="2.0" height="4.0" fill-opacity="0.54"/><rect x="81.8" y="2159.6" width="2.5" height="2.0" fill-opacity="0.13"/><rect x="87.4" y="2101.9" width="2.0" height="5.0" fill-opacity="0.30"/><rect x="79.3" y="2092.9" width="3.0" height="4.0" fill-opacity="0.56"/><rect x="93.9" y="2090.4" width="2.0" height="4.0" fill-opacity="0.26"/><rect x="77.5" y="2111.7" width="3.0" height="4.0" fill-opacity="0.19"/><rect x="94.6" y="2102.8" width="2.5" height="2.0" fill-opacity="0.11"/><rect x="83.3" y="2111.4" width="2.5" height="4.0" fill-opacity="0.43"/><rect x="87.3" y="2129.5" width="2.0" height="2.0" fill-opacity="0.05"/><rect x="83.9" y="2138.2" width="2.5" height="4.0" fill-opacity="0.24"/><rect x="93.8" y="2066.0" width="3.0" height="4.0" fill-opacity="0.06"/><rect x="82.1" y="2135.4" width="2.0" height="5.0" fill-opacity="0.25"/><rect x="90.8" y="2113.1" width="2.0" height="2.0" fill-opacity="0.10"/><rect x="83.8" y="2086.4" width="2.0" height="2.0" fill-opacity="0.44"/><rect x="100.8" y="2086.6" width="2.5" height="4.0" fill-opacity="0.16"/><rect x="80.1" y="2098.9" width="2.0" height="2.0" fill-opacity="0.37"/><rect x="91.3" y="2154.1" width="3.0" height="5.0" fill-opacity="0.11"/><rect x="78.2" y="2103.4" width="1.5" height="5.0" fill-opacity="0.21"/><rect x="86.7" y="2080.9" width="2.5" height="3.0" fill-opacity="0.09"/><rect x="94.6" y="2110.0" width="1.5" height="3.0" fill-opacity="0.07"/><rect x="93.7" y="2147.6" width="2.5" height="4.0" fill-opacity="0.06"/><rect x="80.0" y="2147.6" width="2.0" height="4.0" fill-opacity="0.42"/><rect x="84.5" y="2150.2" width="3.0" height="3.0" fill-opacity="0.31"/><rect x="81.0" y="2128.5" width="2.0" height="3.0" fill-opacity="0.61"/><rect x="83.3" y="2125.9" width="1.5" height="4.0" fill-opacity="0.54"/><rect x="78.2" y="2175.7" width="1.5" height="3.0" fill-opacity="0.04"/><rect x="84.0" y="2076.1" width="2.5" height="3.0" fill-opacity="0.16"/><rect x="90.7" y="2109.9" width="2.0" height="3.0" fill-opacity="0.41"/><rect x="86.1" y="2147.4" width="2.0" height="5.0" fill-opacity="0.44"/><rect x="94.4" y="2118.3" width="2.0" height="5.0" fill-opacity="0.40"/><rect x="92.7" y="2148.8" width="2.0" height="3.0" fill-opacity="0.06"/><rect x="89.1" y="2136.7" width="1.5" height="3.0" fill-opacity="0.05"/><rect x="92.0" y="2118.7" width="2.5" height="5.0" fill-opacity="0.19"/><rect x="93.8" y="2139.4" width="2.5" height="3.0" fill-opacity="0.32"/><rect x="78.9" y="2114.1" width="2.5" height="2.0" fill-opacity="0.48"/><rect x="80.5" y="2104.3" width="2.0" height="5.0" fill-opacity="0.60"/><rect x="81.9" y="2132.9" width="3.0" height="2.0" fill-opacity="0.02"/><rect x="97.6" y="2086.7" width="1.5" height="2.0" fill-opacity="0.23"/><rect x="78.0" y="2109.5" width="2.5" height="2.0" fill-opacity="0.50"/><rect x="87.8" y="2093.5" width="2.0" height="2.0" fill-opacity="0.20"/><rect x="86.3" y="2174.4" width="2.0" height="2.0" fill-opacity="0.14"/><rect x="83.7" y="2065.1" width="2.5" height="5.0" fill-opacity="0.10"/><rect x="82.3" y="2147.7" width="2.0" height="4.0" fill-opacity="0.58"/><rect x="86.6" y="2128.5" width="2.0" height="5.0" fill-opacity="0.44"/><rect x="95.0" y="2119.2" width="1.5" height="5.0" fill-opacity="0.19"/><rect x="82.4" y="2097.2" width="2.5" height="2.0" fill-opacity="0.17"/><rect x="95.6" y="2141.8" width="2.0" height="5.0" fill-opacity="0.03"/><rect x="82.1" y="2134.5" width="2.0" height="5.0" fill-opacity="0.24"/><rect x="78.9" y="2129.1" width="3.0" height="4.0" fill-opacity="0.27"/><rect x="80.1" y="2169.0" width="1.5" height="4.0" fill-opacity="0.14"/><rect x="94.2" y="2118.6" width="2.0" height="3.0" fill-opacity="0.23"/><rect x="89.5" y="2108.8" width="2.0" height="3.0" fill-opacity="0.20"/><rect x="82.0" y="2122.6" width="2.0" height="2.0" fill-opacity="0.18"/><rect x="98.5" y="2113.2" width="2.0" height="2.0" fill-opacity="0.08"/><rect x="98.7" y="2092.4" width="3.0" height="5.0" fill-opacity="0.25"/><rect x="82.7" y="2081.0" width="2.0" height="3.0" fill-opacity="0.17"/><rect x="91.7" y="2104.0" width="2.0" height="3.0" fill-opacity="0.14"/><rect x="97.9" y="2119.4" width="1.5" height="4.0" fill-opacity="0.30"/><rect x="97.9" y="2151.1" width="1.5" height="4.0" fill-opacity="0.34"/><rect x="93.6" y="2082.9" width="3.0" height="5.0" fill-opacity="0.01"/><rect x="99.9" y="2123.6" width="1.5" height="4.0" fill-opacity="0.19"/><rect x="94.1" y="2134.9" width="2.0" height="2.0" fill-opacity="0.04"/><rect x="87.0" y="2103.9" width="2.0" height="5.0" fill-opacity="0.05"/><rect x="84.8" y="2104.9" width="2.0" height="3.0" fill-opacity="0.29"/><rect x="80.2" y="2098.1" width="3.0" height="5.0" fill-opacity="0.06"/><rect x="90.8" y="2073.1" width="1.5" height="2.0" fill-opacity="0.03"/><rect x="85.9" y="2140.9" width="2.5" height="3.0" fill-opacity="0.09"/><rect x="82.6" y="2101.1" width="2.0" height="4.0" fill-opacity="0.04"/><rect x="88.0" y="2127.5" width="2.5" height="2.0" fill-opacity="0.48"/><rect x="80.5" y="2072.6" width="3.0" height="3.0" fill-opacity="0.20"/><rect x="95.7" y="2121.1" width="2.5" height="3.0" fill-opacity="0.13"/><rect x="87.2" y="2183.2" width="2.0" height="5.0" fill-opacity="0.11"/><rect x="79.3" y="2126.8" width="3.0" height="3.0" fill-opacity="0.12"/><rect x="88.6" y="2090.5" width="2.0" height="2.0" fill-opacity="0.28"/><rect x="92.8" y="2085.0" width="2.5" height="3.0" fill-opacity="0.09"/><rect x="86.1" y="2113.4" width="2.0" height="2.0" fill-opacity="0.35"/><rect x="92.7" y="2137.4" width="2.0" height="5.0" fill-opacity="0.28"/><rect x="91.6" y="2087.9" width="2.0" height="5.0" fill-opacity="0.44"/><rect x="83.9" y="2120.1" width="2.0" height="2.0" fill-opacity="0.44"/><rect x="93.2" y="2092.3" width="3.0" height="3.0" fill-opacity="0.23"/><rect x="78.4" y="2101.1" width="2.5" height="2.0" fill-opacity="0.59"/><rect x="95.3" y="2117.0" width="3.0" height="4.0" fill-opacity="0.40"/><rect x="97.9" y="2106.3" width="3.0" height="2.0" fill-opacity="0.20"/><rect x="94.4" y="2102.9" width="3.0" height="5.0" fill-opacity="0.32"/><rect x="82.6" y="2062.9" width="2.5" height="2.0" fill-opacity="0.05"/><rect x="85.8" y="2098.5" width="2.0" height="2.0" fill-opacity="0.26"/><rect x="85.1" y="2106.8" width="2.0" height="5.0" fill-opacity="0.19"/><rect x="99.1" y="2180.9" width="2.5" height="4.0" fill-opacity="0.00"/><rect x="91.3" y="2116.8" width="2.0" height="5.0" fill-opacity="0.27"/><rect x="84.2" y="2113.5" width="2.0" height="4.0" fill-opacity="0.21"/><rect x="95.6" y="2145.7" width="1.5" height="4.0" fill-opacity="0.42"/><rect x="83.3" y="2133.9" width="2.5" height="5.0" fill-opacity="0.25"/><rect x="85.3" y="2141.0" width="2.5" height="4.0" fill-opacity="0.49"/><rect x="79.2" y="2150.7" width="1.5" height="2.0" fill-opacity="0.49"/><rect x="80.2" y="2146.2" width="2.5" height="4.0" fill-opacity="0.21"/><rect x="86.9" y="2094.8" width="1.5" height="2.0" fill-opacity="0.20"/><rect x="98.2" y="2098.6" width="3.0" height="5.0" fill-opacity="0.04"/><rect x="99.4" y="2111.4" width="3.0" height="4.0" fill-opacity="0.00"/><rect x="97.6" y="2154.6" width="1.5" height="5.0" fill-opacity="0.20"/><rect x="88.9" y="2114.0" width="1.5" height="2.0" fill-opacity="0.18"/><rect x="96.7" y="2147.0" width="2.5" height="5.0" fill-opacity="0.36"/><rect x="88.7" y="2170.0" width="2.0" height="4.0" fill-opacity="0.05"/><rect x="84.0" y="2114.3" width="2.0" height="2.0" fill-opacity="0.31"/><rect x="90.8" y="2149.6" width="3.0" height="4.0" fill-opacity="0.02"/><rect x="81.2" y="2111.0" width="1.5" height="4.0" fill-opacity="0.43"/><rect x="95.1" y="2099.5" width="3.0" height="2.0" fill-opacity="0.29"/><rect x="84.3" y="2091.6" width="1.5" height="5.0" fill-opacity="0.29"/><rect x="94.1" y="2129.3" width="1.5" height="2.0" fill-opacity="0.35"/><rect x="86.7" y="2170.9" width="3.0" height="4.0" fill-opacity="0.06"/><rect x="86.7" y="2126.3" width="2.5" height="5.0" fill-opacity="0.54"/><rect x="85.4" y="2123.9" width="1.5" height="2.0" fill-opacity="0.48"/><rect x="94.9" y="2086.7" width="2.5" height="2.0" fill-opacity="0.17"/><rect x="80.8" y="2149.7" width="2.0" height="2.0" fill-opacity="0.30"/><rect x="90.0" y="2157.9" width="2.0" height="4.0" fill-opacity="0.04"/><rect x="83.2" y="2157.1" width="2.0" height="4.0" fill-opacity="0.17"/><rect x="84.0" y="2150.8" width="2.0" height="2.0" fill-opacity="0.16"/><rect x="89.5" y="2167.5" width="2.0" height="5.0" fill-opacity="0.14"/><rect x="90.0" y="2105.2" width="2.5" height="2.0" fill-opacity="0.00"/><rect x="98.9" y="2172.7" width="2.0" height="5.0" fill-opacity="0.00"/><rect x="79.4" y="2094.5" width="1.5" height="3.0" fill-opacity="0.41"/><rect x="92.6" y="2107.8" width="2.5" height="2.0" fill-opacity="0.11"/><rect x="94.5" y="2106.1" width="1.5" height="5.0" fill-opacity="0.14"/><rect x="100.2" y="2111.4" width="2.5" height="2.0" fill-opacity="0.03"/><rect x="80.1" y="2090.6" width="1.5" height="5.0" fill-opacity="0.19"/><rect x="97.2" y="2069.2" width="2.0" height="5.0" fill-opacity="0.02"/><rect x="81.4" y="2126.0" width="1.5" height="2.0" fill-opacity="0.43"/><rect x="87.4" y="2154.3" width="2.5" height="3.0" fill-opacity="0.07"/><rect x="96.4" y="2089.2" width="1.5" height="4.0" fill-opacity="0.21"/><rect x="100.2" y="2105.2" width="3.0" height="3.0" fill-opacity="0.20"/><rect x="80.9" y="2140.5" width="2.0" height="2.0" fill-opacity="0.15"/><rect x="91.5" y="2136.8" width="2.0" height="4.0" fill-opacity="0.07"/><rect x="80.3" y="2127.1" width="1.5" height="5.0" fill-opacity="0.01"/><rect x="82.4" y="2090.7" width="2.0" height="2.0" fill-opacity="0.13"/><rect x="80.5" y="2128.9" width="3.0" height="2.0" fill-opacity="0.47"/><rect x="83.7" y="2179.2" width="2.0" height="4.0" fill-opacity="0.03"/><rect x="99.4" y="2105.5" width="2.0" height="5.0" fill-opacity="0.19"/><rect x="94.4" y="2176.6" width="3.0" height="4.0" fill-opacity="0.09"/><rect x="97.8" y="2147.4" width="1.5" height="2.0" fill-opacity="0.02"/><rect x="88.3" y="2156.0" width="1.5" height="2.0" fill-opacity="0.16"/><rect x="79.8" y="2140.9" width="2.0" height="5.0" fill-opacity="0.28"/><rect x="78.3" y="2098.8" width="1.5" height="4.0" fill-opacity="0.36"/><rect x="97.8" y="2132.7" width="2.0" height="3.0" fill-opacity="0.32"/><rect x="84.1" y="2088.0" width="2.5" height="2.0" fill-opacity="0.50"/><rect x="94.6" y="2096.1" width="2.0" height="2.0" fill-opacity="0.14"/><rect x="89.2" y="2143.6" width="2.0" height="4.0" fill-opacity="0.28"/><rect x="94.4" y="2085.1" width="2.0" height="5.0" fill-opacity="0.09"/><rect x="83.0" y="2150.2" width="2.5" height="2.0" fill-opacity="0.45"/><rect x="87.9" y="2089.5" width="2.0" height="5.0" fill-opacity="0.11"/><rect x="85.2" y="2133.4" width="2.0" height="4.0" fill-opacity="0.01"/><rect x="92.8" y="2136.6" width="3.0" height="3.0" fill-opacity="0.19"/><rect x="98.7" y="2070.1" width="1.5" height="5.0" fill-opacity="0.12"/><rect x="81.8" y="2112.3" width="2.5" height="4.0" fill-opacity="0.57"/><rect x="84.9" y="2138.0" width="3.0" height="4.0" fill-opacity="0.44"/><rect x="79.9" y="2143.7" width="2.5" height="3.0" fill-opacity="0.54"/><rect x="82.7" y="2147.3" width="2.0" height="5.0" fill-opacity="0.49"/><rect x="93.1" y="2172.4" width="2.5" height="5.0" fill-opacity="0.14"/><rect x="77.2" y="2074.8" width="1.5" height="4.0" fill-opacity="0.10"/><rect x="80.4" y="2136.4" width="1.5" height="3.0" fill-opacity="0.57"/><rect x="93.5" y="2085.9" width="2.0" height="5.0" fill-opacity="0.34"/><rect x="77.3" y="2105.7" width="1.5" height="5.0" fill-opacity="0.40"/><rect x="94.9" y="2109.4" width="2.5" height="5.0" fill-opacity="0.34"/><rect x="92.6" y="2121.1" width="2.0" height="5.0" fill-opacity="0.38"/><rect x="83.5" y="2127.9" width="2.0" height="2.0" fill-opacity="0.11"/><rect x="81.2" y="2083.3" width="2.0" height="4.0" fill-opacity="0.19"/><rect x="92.0" y="2121.9" width="2.0" height="3.0" fill-opacity="0.08"/><rect x="78.6" y="2115.7" width="3.0" height="5.0" fill-opacity="0.20"/><rect x="78.7" y="2094.5" width="2.0" height="5.0" fill-opacity="0.38"/><rect x="100.1" y="2062.5" width="1.5" height="3.0" fill-opacity="0.04"/><rect x="90.7" y="2115.5" width="2.0" height="2.0" fill-opacity="0.09"/><rect x="78.4" y="2089.5" width="2.0" height="3.0" fill-opacity="0.10"/><rect x="94.4" y="2139.0" width="2.0" height="5.0" fill-opacity="0.25"/><rect x="93.0" y="2124.4" width="2.5" height="5.0" fill-opacity="0.20"/><rect x="87.4" y="2153.7" width="2.0" height="4.0" fill-opacity="0.08"/><rect x="98.2" y="2110.3" width="3.0" height="3.0" fill-opacity="0.09"/><rect x="81.9" y="2130.2" width="2.5" height="4.0" fill-opacity="0.05"/><rect x="78.1" y="2096.6" width="1.5" height="3.0" fill-opacity="0.54"/><rect x="77.9" y="2113.5" width="1.5" height="4.0" fill-opacity="0.15"/><rect x="91.4" y="2103.8" width="2.0" height="4.0" fill-opacity="0.12"/><rect x="84.7" y="2109.0" width="3.0" height="3.0" fill-opacity="0.57"/><rect x="80.1" y="2096.0" width="1.5" height="2.0" fill-opacity="0.09"/><rect x="80.2" y="2114.2" width="1.5" height="3.0" fill-opacity="0.02"/><rect x="97.1" y="2070.3" width="3.0" height="2.0" fill-opacity="0.05"/><rect x="90.7" y="2123.0" width="2.0" height="2.0" fill-opacity="0.16"/><rect x="91.0" y="2090.8" width="2.5" height="3.0" fill-opacity="0.38"/><rect x="90.1" y="2101.6" width="2.0" height="5.0" fill-opacity="0.34"/><rect x="85.2" y="2111.7" width="2.0" height="3.0" fill-opacity="0.27"/><rect x="96.8" y="2092.2" width="2.0" height="4.0" fill-opacity="0.15"/><rect x="83.7" y="2136.6" width="3.0" height="4.0" fill-opacity="0.38"/><rect x="87.6" y="2062.2" width="1.5" height="2.0" fill-opacity="0.14"/><rect x="92.3" y="2135.4" width="1.5" height="5.0" fill-opacity="0.02"/><rect x="93.6" y="2149.4" width="3.0" height="3.0" fill-opacity="0.10"/><rect x="98.0" y="2132.7" width="2.0" height="2.0" fill-opacity="0.15"/><rect x="100.4" y="2113.0" width="1.5" height="2.0" fill-opacity="0.31"/><rect x="98.8" y="2118.0" width="2.0" height="5.0" fill-opacity="0.35"/><rect x="83.2" y="2070.4" width="1.5" height="5.0" fill-opacity="0.13"/><rect x="83.9" y="2177.3" width="1.5" height="4.0" fill-opacity="0.02"/><rect x="82.6" y="2105.8" width="3.0" height="5.0" fill-opacity="0.45"/><rect x="77.1" y="2110.1" width="2.0" height="3.0" fill-opacity="0.21"/><rect x="93.2" y="2077.3" width="1.5" height="4.0" fill-opacity="0.09"/><rect x="81.4" y="2116.0" width="2.0" height="4.0" fill-opacity="0.23"/><rect x="82.6" y="2137.2" width="2.0" height="4.0" fill-opacity="0.00"/><rect x="99.6" y="2162.0" width="1.5" height="3.0" fill-opacity="0.04"/><rect x="92.1" y="2084.6" width="2.5" height="4.0" fill-opacity="0.27"/><rect x="86.5" y="2099.5" width="3.0" height="5.0" fill-opacity="0.38"/><rect x="78.2" y="2078.7" width="2.0" height="4.0" fill-opacity="0.09"/><rect x="88.4" y="2147.6" width="3.0" height="5.0" fill-opacity="0.49"/><rect x="94.3" y="2127.2" width="2.0" height="3.0" fill-opacity="0.16"/><rect x="82.6" y="2147.8" width="1.5" height="5.0" fill-opacity="0.52"/><rect x="89.7" y="2180.4" width="2.5" height="4.0" fill-opacity="0.09"/><rect x="92.8" y="2160.8" width="3.0" height="4.0" fill-opacity="0.13"/><rect x="97.3" y="2123.2" width="2.5" height="4.0" fill-opacity="0.19"/><rect x="84.7" y="2125.0" width="3.0" height="4.0" fill-opacity="0.37"/><rect x="77.6" y="2074.9" width="3.0" height="4.0" fill-opacity="0.00"/><rect x="79.4" y="2085.6" width="2.0" height="4.0" fill-opacity="0.34"/><rect x="92.5" y="2102.4" width="2.5" height="2.0" fill-opacity="0.33"/><rect x="78.1" y="2129.9" width="2.0" height="3.0" fill-opacity="0.44"/><rect x="81.2" y="2135.9" width="2.0" height="5.0" fill-opacity="0.25"/><rect x="92.3" y="2123.5" width="2.0" height="4.0" fill-opacity="0.36"/><rect x="92.7" y="2094.7" width="2.5" height="4.0" fill-opacity="0.14"/><rect x="82.2" y="2104.5" width="1.5" height="3.0" fill-opacity="0.25"/><rect x="93.2" y="2084.4" width="2.0" height="3.0" fill-opacity="0.17"/><rect x="90.1" y="2147.1" width="2.5" height="3.0" fill-opacity="0.29"/><rect x="87.7" y="2167.6" width="3.0" height="5.0" fill-opacity="0.08"/><rect x="84.0" y="2127.6" width="1.5" height="4.0" fill-opacity="0.34"/><rect x="91.0" y="2118.6" width="2.0" height="3.0" fill-opacity="0.18"/><rect x="91.6" y="2145.2" width="3.0" height="3.0" fill-opacity="0.13"/><rect x="84.2" y="2085.8" width="2.0" height="5.0" fill-opacity="0.16"/><rect x="83.2" y="2144.0" width="1.5" height="4.0" fill-opacity="0.05"/><rect x="93.2" y="2073.7" width="2.5" height="5.0" fill-opacity="0.14"/><rect x="97.7" y="2106.3" width="1.5" height="4.0" fill-opacity="0.38"/><rect x="95.1" y="2128.1" width="2.0" height="2.0" fill-opacity="0.31"/><rect x="79.3" y="2174.6" width="3.0" height="2.0" fill-opacity="0.15"/><rect x="95.9" y="2089.1" width="2.5" height="5.0" fill-opacity="0.10"/><rect x="82.3" y="2148.6" width="2.5" height="3.0" fill-opacity="0.16"/><rect x="84.3" y="2109.7" width="3.0" height="5.0" fill-opacity="0.33"/><rect x="79.5" y="2120.9" width="3.0" height="4.0" fill-opacity="0.60"/><rect x="96.4" y="2116.4" width="1.5" height="2.0" fill-opacity="0.25"/><rect x="89.5" y="2075.6" width="1.5" height="2.0" fill-opacity="0.12"/><rect x="94.1" y="2064.7" width="2.5" height="2.0" fill-opacity="0.00"/><rect x="85.3" y="2093.8" width="2.0" height="2.0" fill-opacity="0.34"/><rect x="83.6" y="2129.9" width="1.5" height="5.0" fill-opacity="0.54"/><rect x="92.0" y="2090.1" width="1.5" height="2.0" fill-opacity="0.21"/><rect x="83.7" y="2109.2" width="2.0" height="5.0" fill-opacity="0.47"/><rect x="87.0" y="2144.3" width="3.0" height="3.0" fill-opacity="0.02"/><rect x="82.8" y="2075.2" width="1.5" height="3.0" fill-opacity="0.03"/><rect x="84.1" y="2121.5" width="2.5" height="3.0" fill-opacity="0.56"/><rect x="85.3" y="2095.2" width="2.0" height="4.0" fill-opacity="0.19"/><rect x="99.1" y="2126.7" width="2.0" height="5.0" fill-opacity="0.34"/><rect x="77.1" y="2141.5" width="3.0" height="4.0" fill-opacity="0.29"/><rect x="83.5" y="2148.6" width="2.5" height="3.0" fill-opacity="0.30"/><rect x="82.8" y="2083.0" width="1.5" height="2.0" fill-opacity="0.50"/><rect x="92.1" y="2073.3" width="2.5" height="3.0" fill-opacity="0.06"/><rect x="90.4" y="2138.2" width="2.0" height="5.0" fill-opacity="0.48"/><rect x="92.7" y="2147.9" width="1.5" height="5.0" fill-opacity="0.40"/><rect x="85.6" y="2143.9" width="2.0" height="2.0" fill-opacity="0.10"/><rect x="89.6" y="2065.2" width="2.0" height="5.0" fill-opacity="0.13"/><rect x="86.0" y="2115.7" width="2.0" height="3.0" fill-opacity="0.35"/><rect x="80.1" y="2093.8" width="2.5" height="5.0" fill-opacity="0.43"/><rect x="86.8" y="2100.1" width="2.5" height="2.0" fill-opacity="0.03"/><rect x="82.2" y="2101.8" width="2.0" height="5.0" fill-opacity="0.15"/><rect x="99.9" y="2100.9" width="2.0" height="2.0" fill-opacity="0.06"/><rect x="77.7" y="2154.1" width="2.5" height="4.0" fill-opacity="0.21"/><rect x="95.6" y="2173.0" width="2.0" height="3.0" fill-opacity="0.03"/><rect x="100.0" y="2123.3" width="2.0" height="5.0" fill-opacity="0.24"/><rect x="94.2" y="2098.7" width="2.5" height="3.0" fill-opacity="0.32"/><rect x="89.3" y="2142.5" width="2.5" height="4.0" fill-opacity="0.29"/><rect x="86.7" y="2103.9" width="3.0" height="3.0" fill-opacity="0.48"/><rect x="88.0" y="2137.7" width="1.5" height="2.0" fill-opacity="0.28"/><rect x="82.8" y="2131.7" width="2.0" height="2.0" fill-opacity="0.59"/><rect x="81.7" y="2124.2" width="2.5" height="3.0" fill-opacity="0.36"/><rect x="86.9" y="2123.6" width="2.5" height="5.0" fill-opacity="0.07"/><rect x="85.8" y="2174.0" width="3.0" height="3.0" fill-opacity="0.08"/><rect x="85.5" y="2147.3" width="2.5" height="5.0" fill-opacity="0.48"/><rect x="78.0" y="2125.0" width="3.0" height="3.0" fill-opacity="0.35"/><rect x="89.4" y="2174.6" width="3.0" height="5.0" fill-opacity="0.13"/><rect x="84.3" y="2125.3" width="2.0" height="5.0" fill-opacity="0.01"/><rect x="81.9" y="2152.8" width="2.0" height="5.0" fill-opacity="0.24"/><rect x="86.4" y="2095.5" width="2.5" height="3.0" fill-opacity="0.41"/><rect x="94.1" y="2070.9" width="1.5" height="3.0" fill-opacity="0.00"/><rect x="85.6" y="2172.2" width="1.5" height="2.0" fill-opacity="0.18"/><rect x="95.9" y="2130.9" width="2.0" height="5.0" fill-opacity="0.40"/><rect x="79.6" y="2114.7" width="2.0" height="5.0" fill-opacity="0.31"/><rect x="84.6" y="2118.1" width="2.5" height="2.0" fill-opacity="0.12"/><rect x="88.7" y="2097.2" width="2.5" height="4.0" fill-opacity="0.30"/><rect x="86.9" y="2134.4" width="2.5" height="3.0" fill-opacity="0.27"/><rect x="91.0" y="2171.2" width="2.0" height="2.0" fill-opacity="0.05"/><rect x="80.3" y="2100.4" width="3.0" height="5.0" fill-opacity="0.49"/><rect x="80.1" y="2088.7" width="3.0" height="3.0" fill-opacity="0.50"/><rect x="77.1" y="2083.1" width="3.0" height="3.0" fill-opacity="0.63"/><rect x="89.9" y="2104.3" width="2.0" height="4.0" fill-opacity="0.32"/><rect x="95.5" y="2095.2" width="2.5" height="3.0" fill-opacity="0.20"/><rect x="91.1" y="2075.5" width="1.5" height="3.0" fill-opacity="0.04"/><rect x="80.0" y="2124.3" width="2.5" height="4.0" fill-opacity="0.43"/><rect x="94.3" y="2075.4" width="2.0" height="3.0" fill-opacity="0.06"/><rect x="90.2" y="2127.0" width="2.5" height="3.0" fill-opacity="0.19"/><rect x="93.2" y="2109.2" width="2.5" height="4.0" fill-opacity="0.23"/><rect x="99.3" y="2115.1" width="2.0" height="2.0" fill-opacity="0.10"/><rect x="85.7" y="2155.3" width="2.0" height="4.0" fill-opacity="0.18"/><rect x="88.9" y="2130.9" width="2.0" height="2.0" fill-opacity="0.01"/><rect x="77.6" y="2072.9" width="2.0" height="5.0" fill-opacity="0.04"/><rect x="84.6" y="2126.0" width="1.5" height="5.0" fill-opacity="0.05"/><rect x="87.4" y="2139.4" width="3.0" height="3.0" fill-opacity="0.29"/><rect x="82.7" y="2147.9" width="2.0" height="5.0" fill-opacity="0.60"/><rect x="81.8" y="2092.6" width="3.0" height="5.0" fill-opacity="0.04"/><rect x="84.7" y="2085.6" width="2.0" height="3.0" fill-opacity="0.02"/><rect x="84.8" y="2096.4" width="3.0" height="2.0" fill-opacity="0.48"/><rect x="78.7" y="2099.4" width="2.0" height="5.0" fill-opacity="0.50"/><rect x="94.3" y="2074.1" width="3.0" height="5.0" fill-opacity="0.08"/><rect x="85.9" y="2136.3" width="1.5" height="5.0" fill-opacity="0.38"/><rect x="91.1" y="2147.3" width="2.0" height="2.0" fill-opacity="0.09"/><rect x="91.2" y="2146.3" width="2.0" height="5.0" fill-opacity="0.33"/><rect x="85.5" y="2062.6" width="2.5" height="2.0" fill-opacity="0.13"/><rect x="83.4" y="2087.7" width="2.0" height="3.0" fill-opacity="0.56"/><rect x="85.7" y="2148.7" width="2.5" height="4.0" fill-opacity="0.22"/><rect x="99.2" y="2173.9" width="1.5" height="4.0" fill-opacity="0.03"/><rect x="77.3" y="2117.9" width="2.0" height="5.0" fill-opacity="0.29"/><rect x="91.2" y="2099.9" width="2.0" height="4.0" fill-opacity="0.30"/><rect x="89.7" y="2124.4" width="2.0" height="2.0" fill-opacity="0.06"/><rect x="92.6" y="2143.0" width="2.0" height="5.0" fill-opacity="0.14"/><rect x="79.2" y="2154.8" width="2.0" height="3.0" fill-opacity="0.65"/><rect x="92.7" y="2087.9" width="2.0" height="4.0" fill-opacity="0.23"/><rect x="92.5" y="2090.2" width="1.5" height="3.0" fill-opacity="0.29"/><rect x="97.8" y="2151.0" width="2.5" height="3.0" fill-opacity="0.19"/><rect x="79.9" y="2155.2" width="2.5" height="3.0" fill-opacity="0.10"/><rect x="78.3" y="2109.3" width="3.0" height="5.0" fill-opacity="0.63"/><rect x="81.2" y="2080.4" width="2.5" height="2.0" fill-opacity="0.13"/><rect x="85.4" y="2131.6" width="2.0" height="5.0" fill-opacity="0.34"/><rect x="80.7" y="2152.9" width="3.0" height="5.0" fill-opacity="0.37"/><rect x="84.3" y="2179.9" width="3.0" height="2.0" fill-opacity="0.03"/><rect x="99.0" y="2088.9" width="2.5" height="5.0" fill-opacity="0.27"/><rect x="92.3" y="2090.2" width="1.5" height="2.0" fill-opacity="0.40"/><rect x="88.4" y="2137.3" width="1.5" height="2.0" fill-opacity="0.02"/><rect x="91.5" y="2110.2" width="2.0" height="5.0" fill-opacity="0.04"/><rect x="82.3" y="2085.4" width="2.0" height="2.0" fill-opacity="0.30"/><rect x="92.9" y="2179.2" width="1.5" height="3.0" fill-opacity="0.13"/><rect x="92.3" y="2098.0" width="1.5" height="3.0" fill-opacity="0.46"/><rect x="91.0" y="2156.4" width="3.0" height="5.0" fill-opacity="0.05"/><rect x="88.1" y="2149.0" width="3.0" height="2.0" fill-opacity="0.40"/><rect x="88.7" y="2114.1" width="2.5" height="3.0" fill-opacity="0.15"/><rect x="85.3" y="2115.2" width="2.0" height="2.0" fill-opacity="0.48"/><rect x="77.3" y="2081.0" width="1.5" height="3.0" fill-opacity="0.15"/><rect x="80.3" y="2112.9" width="1.5" height="2.0" fill-opacity="0.21"/><rect x="97.3" y="2141.2" width="2.5" height="4.0" fill-opacity="0.07"/><rect x="89.7" y="2116.0" width="2.5" height="3.0" fill-opacity="0.23"/><rect x="86.5" y="2131.9" width="2.5" height="3.0" fill-opacity="0.16"/><rect x="86.6" y="2173.3" width="2.0" height="4.0" fill-opacity="0.06"/><rect x="89.0" y="2151.7" width="1.5" height="2.0" fill-opacity="0.05"/><rect x="82.7" y="2092.7" width="1.5" height="5.0" fill-opacity="0.40"/><rect x="82.2" y="2141.2" width="2.0" height="5.0" fill-opacity="0.14"/><rect x="96.9" y="2181.1" width="3.0" height="5.0" fill-opacity="0.08"/><rect x="81.7" y="2113.4" width="2.0" height="3.0" fill-opacity="0.14"/><rect x="94.5" y="2124.5" width="2.0" height="3.0" fill-opacity="0.43"/><rect x="93.0" y="2132.1" width="2.0" height="2.0" fill-opacity="0.09"/><rect x="82.0" y="2149.6" width="3.0" height="5.0" fill-opacity="0.46"/><rect x="92.2" y="2140.7" width="2.0" height="4.0" fill-opacity="0.37"/><rect x="92.6" y="2135.0" width="1.5" height="2.0" fill-opacity="0.36"/><rect x="89.7" y="2093.4" width="2.5" height="3.0" fill-opacity="0.03"/><rect x="81.4" y="2083.2" width="1.5" height="4.0" fill-opacity="0.07"/><rect x="77.3" y="2115.1" width="2.5" height="2.0" fill-opacity="0.64"/><rect x="78.4" y="2131.3" width="1.5" height="2.0" fill-opacity="0.33"/><rect x="80.6" y="2081.4" width="2.5" height="2.0" fill-opacity="0.18"/><rect x="96.1" y="2126.8" width="2.0" height="5.0" fill-opacity="0.30"/><rect x="91.2" y="2105.3" width="2.5" height="2.0" fill-opacity="0.48"/><rect x="92.2" y="2154.9" width="2.0" height="3.0" fill-opacity="0.00"/><rect x="80.7" y="2114.9" width="2.0" height="4.0" fill-opacity="0.62"/><rect x="93.7" y="2085.0" width="1.5" height="2.0" fill-opacity="0.19"/><rect x="90.1" y="2106.1" width="2.0" height="3.0" fill-opacity="0.18"/><rect x="81.8" y="2062.7" width="1.5" height="3.0" fill-opacity="0.14"/><rect x="78.8" y="2094.6" width="3.0" height="4.0" fill-opacity="0.52"/><rect x="80.6" y="2177.2" width="2.0" height="3.0" fill-opacity="0.12"/><rect x="91.2" y="2115.2" width="2.0" height="4.0" fill-opacity="0.33"/><rect x="78.9" y="2174.9" width="2.5" height="3.0" fill-opacity="0.01"/><rect x="90.0" y="2066.5" width="2.0" height="3.0" fill-opacity="0.08"/><rect x="80.3" y="2082.2" width="2.0" height="4.0" fill-opacity="0.50"/><rect x="79.9" y="2175.6" width="3.0" height="4.0" fill-opacity="0.04"/><rect x="97.7" y="2134.3" width="2.5" height="2.0" fill-opacity="0.26"/><rect x="93.7" y="2137.8" width="2.0" height="4.0" fill-opacity="0.26"/><rect x="88.2" y="2178.1" width="1.5" height="5.0" fill-opacity="0.07"/><rect x="83.8" y="2131.8" width="2.0" height="5.0" fill-opacity="0.32"/><rect x="87.8" y="2083.1" width="1.5" height="4.0" fill-opacity="0.52"/><rect x="82.2" y="2099.1" width="3.0" height="3.0" fill-opacity="0.29"/><rect x="82.4" y="2133.7" width="2.0" height="4.0" fill-opacity="0.33"/><rect x="87.5" y="2130.7" width="2.0" height="2.0" fill-opacity="0.50"/><rect x="82.2" y="2134.7" width="2.5" height="2.0" fill-opacity="0.57"/><rect x="81.9" y="2119.4" width="2.5" height="5.0" fill-opacity="0.32"/><rect x="82.6" y="2099.1" width="2.0" height="2.0" fill-opacity="0.29"/><rect x="100.6" y="2124.3" width="2.0" height="5.0" fill-opacity="0.00"/><rect x="93.3" y="2153.5" width="2.5" height="5.0" fill-opacity="0.04"/><rect x="93.9" y="2156.3" width="2.0" height="3.0" fill-opacity="0.05"/><rect x="80.6" y="2119.0" width="2.0" height="4.0" fill-opacity="0.04"/><rect x="83.9" y="2136.0" width="3.0" height="5.0" fill-opacity="0.43"/><rect x="79.2" y="2146.2" width="1.5" height="3.0" fill-opacity="0.51"/><rect x="97.6" y="2117.8" width="3.0" height="2.0" fill-opacity="0.20"/><rect x="99.6" y="2173.4" width="3.0" height="4.0" fill-opacity="0.12"/><rect x="93.9" y="2090.1" width="2.0" height="2.0" fill-opacity="0.37"/><rect x="79.7" y="2108.9" width="2.0" height="4.0" fill-opacity="0.33"/><rect x="99.2" y="2127.2" width="3.0" height="4.0" fill-opacity="0.35"/><rect x="78.1" y="2113.3" width="2.5" height="5.0" fill-opacity="0.48"/><rect x="97.7" y="2094.6" width="2.0" height="5.0" fill-opacity="0.23"/><rect x="78.7" y="2150.4" width="2.5" height="2.0" fill-opacity="0.49"/><rect x="91.1" y="2154.9" width="2.0" height="3.0" fill-opacity="0.17"/><rect x="80.2" y="2123.3" width="2.0" height="4.0" fill-opacity="0.17"/><rect x="77.3" y="2112.7" width="2.0" height="2.0" fill-opacity="0.53"/><rect x="100.2" y="2147.7" width="2.0" height="4.0" fill-opacity="0.14"/><rect x="100.1" y="2141.6" width="2.5" height="4.0" fill-opacity="0.34"/><rect x="101.0" y="2145.5" width="2.0" height="2.0" fill-opacity="0.29"/><rect x="85.5" y="2168.6" width="2.0" height="4.0" fill-opacity="0.08"/><rect x="97.2" y="2094.0" width="1.5" height="4.0" fill-opacity="0.27"/><rect x="78.4" y="2122.3" width="3.0" height="5.0" fill-opacity="0.58"/><rect x="93.2" y="2106.9" width="3.0" height="2.0" fill-opacity="0.45"/><rect x="84.2" y="2066.1" width="2.5" height="5.0" fill-opacity="0.16"/><rect x="79.0" y="2094.3" width="2.0" height="2.0" fill-opacity="0.36"/><rect x="84.1" y="2101.2" width="3.0" height="3.0" fill-opacity="0.20"/><rect x="92.3" y="2092.1" width="2.0" height="4.0" fill-opacity="0.25"/><rect x="82.0" y="2094.2" width="1.5" height="4.0" fill-opacity="0.23"/><rect x="90.7" y="2158.1" width="2.0" height="2.0" fill-opacity="0.15"/><rect x="98.0" y="2099.5" width="3.0" height="4.0" fill-opacity="0.21"/><rect x="81.6" y="2163.1" width="1.5" height="5.0" fill-opacity="0.13"/><rect x="83.7" y="2167.1" width="3.0" height="4.0" fill-opacity="0.07"/><rect x="91.9" y="2100.4" width="2.0" height="4.0" fill-opacity="0.03"/><rect x="87.4" y="2110.8" width="2.0" height="3.0" fill-opacity="0.40"/><rect x="92.6" y="2071.8" width="3.0" height="3.0" fill-opacity="0.07"/><rect x="95.5" y="2110.8" width="2.0" height="4.0" fill-opacity="0.01"/><rect x="78.3" y="2133.0" width="2.0" height="5.0" fill-opacity="0.34"/><rect x="95.0" y="2098.4" width="2.0" height="4.0" fill-opacity="0.05"/><rect x="87.8" y="2103.0" width="2.0" height="3.0" fill-opacity="0.31"/></g><clipPath id="ceil"><rect x="559" y="185" width="1207" height="118"/></clipPath><path d="M339.2 303 L453.2 185 M363.2 303 L477.2 185 M387.2 303 L501.2 185 M411.2 303 L525.2 185 M435.2 303 L549.2 185 M459.2 303 L573.2 185 M483.2 303 L597.2 185 M507.2 303 L621.2 185 M531.2 303 L645.2 185 M555.2 303 L669.2 185 M579.2 303 L693.2 185 M603.2 303 L717.2 185 M627.2 303 L741.2 185 M651.2 303 L765.2 185 M675.2 303 L789.2 185 M699.2 303 L813.2 185 M723.2 303 L837.2 185 M747.2 303 L861.2 185 M771.2 303 L885.2 185 M795.2 303 L909.2 185 M819.2 303 L933.2 185 M843.2 303 L957.2 185 M867.2 303 L981.2 185 M891.2 303 L1005.2 185 M915.2 303 L1029.2 185 M939.2 303 L1053.2 185 M963.2 303 L1077.2 185 M987.2 303 L1101.2 185 M1011.2 303 L1125.2 185 M1035.2 303 L1149.2 185 M1059.2 303 L1173.2 185 M1083.2 303 L1197.2 185 M1107.2 303 L1221.2 185 M1131.2 303 L1245.2 185 M1155.2 303 L1269.2 185 M1179.2 303 L1293.2 185 M1203.2 303 L1317.2 185 M1227.2 303 L1341.2 185 M1251.2 303 L1365.2 185 M1275.2 303 L1389.2 185 M1299.2 303 L1413.2 185 M1323.2 303 L1437.2 185 M1347.2 303 L1461.2 185 M1371.2 303 L1485.2 185 M1395.2 303 L1509.2 185 M1419.2 303 L1533.2 185 M1443.2 303 L1557.2 185 M1467.2 303 L1581.2 185 M1491.2 303 L1605.2 185 M1515.2 303 L1629.2 185 M1539.2 303 L1653.2 185 M1563.2 303 L1677.2 185 M1587.2 303 L1701.2 185 M1611.2 303 L1725.2 185 M1635.2 303 L1749.2 185 M1659.2 303 L1773.2 185 M1683.2 303 L1797.2 185 M1707.2 303 L1821.2 185 M1731.2 303 L1845.2 185 M1755.2 303 L1869.2 185 M1779.2 303 L1893.2 185 M1803.2 303 L1917.2 185 M1827.2 303 L1941.2 185 M1851.2 303 L1965.2 185 M1875.2 303 L1989.2 185 M1899.2 303 L2013.2 185 M1923.2 303 L2037.2 185 M1947.2 303 L2061.2 185 M1971.2 303 L2085.2 185 M1995.2 303 L2109.2 185 " stroke="#2e282c" stroke-width="2.3" clip-path="url(#ceil)"/><path d="M559 303 H1766" stroke="#2e282c" stroke-width="3"/><rect x="954" y="252" width="12.5" height="49" fill="#fff" stroke="#2e282c" stroke-width="1.8"/><g transform="translate(1099.5 303)"><path d="M-7 -6 V-38 C-7 -48 7 -48 7 -38 V-6 Z" fill="#3b3035"/><path d="M-9 -30 L-5 -34 M-9 -24 L-5 -28 M9 -30 L5 -34 M9 -24 L5 -28" stroke="#2e282c" stroke-width="2"/><path d="M-1 -40 V-14" stroke="#fff" stroke-width="2"/><rect x="-5" y="-14" width="10" height="8" fill="#fff" stroke="#2e282c" stroke-width="1.5"/><path d="M-10 0 L-8 -6 H8 L10 0 Z" fill="#fff" stroke="#2e282c" stroke-width="1.5"/></g><g transform="translate(1294.0 303)"><path d="M-7 -6 V-38 C-7 -48 7 -48 7 -38 V-6 Z" fill="#3b3035"/><path d="M-9 -30 L-5 -34 M-9 -24 L-5 -28 M9 -30 L5 -34 M9 -24 L5 -28" stroke="#2e282c" stroke-width="2"/><path d="M-1 -40 V-14" stroke="#fff" stroke-width="2"/><rect x="-5" y="-14" width="10" height="8" fill="#fff" stroke="#2e282c" stroke-width="1.5"/><path d="M-10 0 L-8 -6 H8 L10 0 Z" fill="#fff" stroke="#2e282c" stroke-width="1.5"/></g><g transform="translate(1427.0 303)"><path d="M-7 -6 V-38 C-7 -48 7 -48 7 -38 V-6 Z" fill="#3b3035"/><path d="M-9 -30 L-5 -34 M-9 -24 L-5 -28 M9 -30 L5 -34 M9 -24 L5 -28" stroke="#2e282c" stroke-width="2"/><path d="M-1 -40 V-14" stroke="#fff" stroke-width="2"/><rect x="-5" y="-14" width="10" height="8" fill="#fff" stroke="#2e282c" stroke-width="1.5"/><path d="M-10 0 L-8 -6 H8 L10 0 Z" fill="#fff" stroke="#2e282c" stroke-width="1.5"/></g><path d="M959.3 303 V605" stroke="#2e282c" stroke-width="1.6"/><path d="M1099.5 303 V540 M1294 303 V640 M1427 303 V515" stroke="#2e282c" stroke-width="1.6" stroke-dasharray="45 14 10 13"/><path d="M959.3 363.8 L966 371 L968 378 L970.5 384 L966 392 L964.3 396 H954.5 L952.5 392 L948 384 L950.5 378 L952.5 371 Z" fill="#3b3035"/><path d="M955 377 L957 380 M963 377 L961 380 M954 385 L957 388 M964 385 L961 388" stroke="#fff" stroke-width="1.2"/><rect x="954.5" y="396" width="9.8" height="10" fill="#fff" stroke="#2e282c" stroke-width="1.5"/><rect x="948" y="406.4" width="22.5" height="7" rx="1.5" fill="#fff" stroke="#2e282c" stroke-width="1.7"/><g><path d="M1099.5 536.0 L1105.0 554.0 V592.0 H1094.0 V554.0 Z" fill="#fff" stroke="#2e282c" stroke-width="1.6"/><path d="M1095.5 553.0 L1103.5 550.0 M1095.5 550.0 L1103.5 553.0 M1095.5 558.0 L1103.5 555.0 M1095.5 555.0 L1103.5 558.0 M1095.5 563.0 L1103.5 560.0 M1095.5 560.0 L1103.5 563.0 M1095.5 568.0 L1103.5 565.0 M1095.5 565.0 L1103.5 568.0 M1095.5 573.0 L1103.5 570.0 M1095.5 570.0 L1103.5 573.0 M1095.5 578.0 L1103.5 575.0 M1095.5 575.0 L1103.5 578.0 M1095.5 583.0 L1103.5 580.0 M1095.5 580.0 L1103.5 583.0 M1095.5 588.0 L1103.5 585.0 M1095.5 585.0 L1103.5 588.0 " stroke="#2e282c" stroke-width="1.1"/><ellipse cx="1099.5" cy="595.0" rx="10" ry="4" fill="#3b3035"/></g><g><path d="M1427.0 510.0 L1432.5 528.0 V569.0 H1421.5 V528.0 Z" fill="#fff" stroke="#2e282c" stroke-width="1.6"/><path d="M1423.0 527.0 L1431.0 524.0 M1423.0 524.0 L1431.0 527.0 M1423.0 532.0 L1431.0 529.0 M1423.0 529.0 L1431.0 532.0 M1423.0 537.0 L1431.0 534.0 M1423.0 534.0 L1431.0 537.0 M1423.0 542.0 L1431.0 539.0 M1423.0 539.0 L1431.0 542.0 M1423.0 547.0 L1431.0 544.0 M1423.0 544.0 L1431.0 547.0 M1423.0 552.0 L1431.0 549.0 M1423.0 549.0 L1431.0 552.0 M1423.0 557.0 L1431.0 554.0 M1423.0 554.0 L1431.0 557.0 M1423.0 562.0 L1431.0 559.0 M1423.0 559.0 L1431.0 562.0 M1423.0 567.0 L1431.0 564.0 M1423.0 564.0 L1431.0 567.0 " stroke="#2e282c" stroke-width="1.1"/><ellipse cx="1427.0" cy="572.0" rx="10" ry="4" fill="#3b3035"/></g><g><path d="M1294.0 635.0 L1299.5 653.0 V691.0 H1288.5 V653.0 Z" fill="#fff" stroke="#2e282c" stroke-width="1.6"/><path d="M1290.0 652.0 L1298.0 649.0 M1290.0 649.0 L1298.0 652.0 M1290.0 657.0 L1298.0 654.0 M1290.0 654.0 L1298.0 657.0 M1290.0 662.0 L1298.0 659.0 M1290.0 659.0 L1298.0 662.0 M1290.0 667.0 L1298.0 664.0 M1290.0 664.0 L1298.0 667.0 M1290.0 672.0 L1298.0 669.0 M1290.0 669.0 L1298.0 672.0 M1290.0 677.0 L1298.0 674.0 M1290.0 674.0 L1298.0 677.0 M1290.0 682.0 L1298.0 679.0 M1290.0 679.0 L1298.0 682.0 M1290.0 687.0 L1298.0 684.0 M1290.0 684.0 L1298.0 687.0 " stroke="#2e282c" stroke-width="1.1"/><ellipse cx="1294.0" cy="694.0" rx="10" ry="4" fill="#3b3035"/></g><g><path d="M958.5 590.0 L964.0 608.0 V662.0 H953.0 V608.0 Z" fill="#fff" stroke="#2e282c" stroke-width="1.6"/><path d="M954.5 607.0 L962.5 604.0 M954.5 604.0 L962.5 607.0 M954.5 612.0 L962.5 609.0 M954.5 609.0 L962.5 612.0 M954.5 617.0 L962.5 614.0 M954.5 614.0 L962.5 617.0 M954.5 622.0 L962.5 619.0 M954.5 619.0 L962.5 622.0 M954.5 627.0 L962.5 624.0 M954.5 624.0 L962.5 627.0 M954.5 632.0 L962.5 629.0 M954.5 629.0 L962.5 632.0 M954.5 637.0 L962.5 634.0 M954.5 634.0 L962.5 637.0 M954.5 642.0 L962.5 639.0 M954.5 639.0 L962.5 642.0 M954.5 647.0 L962.5 644.0 M954.5 644.0 L962.5 647.0 M954.5 652.0 L962.5 649.0 M954.5 649.0 L962.5 652.0 M954.5 657.0 L962.5 654.0 M954.5 654.0 L962.5 657.0 M954.5 662.0 L962.5 659.0 M954.5 659.0 L962.5 662.0 " stroke="#2e282c" stroke-width="1.1"/><ellipse cx="958.5" cy="665.0" rx="10" ry="4" fill="#3b3035"/></g><path d="M935 629 C900 632 886 645 889 660 C893 680 925 686 950 686 C985 686 1003 674 1002 658 C1001 644 988 634 970 630" fill="none" stroke="#3b3035" stroke-width="6.5"/><path d="M927 621 L951 634 L928 644 Z" fill="#3b3035"/><path d="M900 636 C912 630 925 630 938 632" fill="none" stroke="#3b3035" stroke-width="6.5"/><path d="M893.0 348.5 L912.5 372.8 H901.5 V410.0 H884.5 V372.8 H873.5 Z" fill="#3b3035"/><path d="M859.0 610.5 L879.5 636.6 H867.7 V676.0 H850.3 V636.6 H838.5 Z" fill="#3b3035"/><circle cx="821.0" cy="403.0" r="37.0" fill="none" stroke="#2e282c" stroke-width="1.8"/><text x="821.0" y="430.0" text-anchor="middle" font-family="Liberation Sans" font-weight="bold" font-size="75.4" fill="#3b3035">2</text><circle cx="797.0" cy="672.5" r="36.7" fill="none" stroke="#2e282c" stroke-width="1.8"/><text x="802.0" y="705.5" text-anchor="middle" font-family="Liberation Sans" font-weight="bold" font-size="88.0" fill="#3b3035">3</text><g fill="none" stroke="#2e282c" stroke-width="2.2" stroke-linejoin="round"><path d="M897.3 476.7 L1159.7 453.9 L1088.6 392.9"/><path d="M1099.6 353.7 L1210.2 446.4 L1470.7 419.1 L1488.2 432.8 V469.7 L1471 457 V434 L1464.9 432.8 L1231.6 463.9 L1340.2 552.4 V590.5 L1287.8 595.2 V557 L1178 467.6 L917.3 494.9 V528.6 L897.3 513.1 V476.7"/><path d="M917.3 494.9 L897.3 476.7 M1287.8 557 L1340.2 552.4 M1471 434 L1470.7 419.1"/><path d="M1049.5 357.3 L1099.6 353.7 L1101.4 390.1 L1050.4 394.7 Z" fill="#fff"/><path d="M1101 372 C1107 374 1107 380 1101 382"/></g><path d="M899 478 V514 L917 528" fill="none" stroke="#2e282c" stroke-width="3.5"/><path d="M936 483 L985 479 M1401 436.5 L1447 432.5" stroke="#3b3035" stroke-width="6" stroke-linecap="round"/><path d="M940 482.6 L981 479.3 M1405 436.1 L1443 432.9" stroke="#8a8288" stroke-width="1" stroke-linecap="round"/><path d="M1283 537 L1292 536.5 L1309 548 L1300 550 Z" fill="none" stroke="#2e282c" stroke-width="2"/><ellipse cx="1072" cy="375" rx="4" ry="4" fill="none" stroke="#2e282c" stroke-width="1.6"/><ellipse cx="909" cy="504" rx="2.5" ry="5" fill="none" stroke="#2e282c" stroke-width="1.6"/><ellipse cx="1478" cy="446" rx="2.5" ry="5" fill="none" stroke="#2e282c" stroke-width="1.6"/><ellipse cx="1309.6" cy="574.6" rx="7.5" ry="7" fill="#3b3035"/><circle cx="1307" cy="572" r="2" fill="#fff"/><path d="M1386 303 C1360 370 1310 470 1236 497 C1212 510 1200 540 1196 580 C1190 630 1172 658 1150 670" fill="none" stroke="#2e282c" stroke-width="12"/><path d="M1386 303 C1360 370 1310 470 1236 497 C1212 510 1200 540 1196 580 C1190 630 1172 658 1150 670" fill="none" stroke="#fff" stroke-width="8.2"/><circle cx="1236" cy="497" r="5" fill="#3b3035"/><g fill="#fff" stroke="#2e282c" stroke-width="1.6" stroke-linejoin="round"><path d="M1064 675 L1080 669 L1160 680 L1163 684 L1140 692.5 L1098 694 L1064 679 Z"/><path d="M1082 657 L1107.5 664 V687.5 L1082 683 Z" fill="#6d6469"/><rect x="1107.5" y="664" width="39.5" height="23.5"/><rect x="1090" y="638" width="11" height="22" rx="2"/><rect x="1107" y="636" width="14" height="24" rx="2"/><rect x="1100" y="645" width="11" height="20" rx="2"/><rect x="1114" y="650" width="12" height="16" rx="2"/><rect x="1128" y="646" width="13" height="18" rx="2"/></g><path d="M1087 660 V684 M1094 662 V686 M1101 663 V687" stroke="#e8e6ea" stroke-width="2"/><path d="M1083 752 C1096 762 1106 775 1114 795 C1124 820 1138 845 1151 858" fill="none" stroke="#2e282c" stroke-width="9"/><path d="M1083 752 C1096 762 1106 775 1114 795 C1124 820 1138 845 1151 858" fill="none" stroke="#fff" stroke-width="5.5"/><path d="M1068 682 C1058 700 1056 725 1066 740 C1071 747 1076 750 1081 752" fill="none" stroke="#2e282c" stroke-width="7"/><path d="M1068 682 C1058 700 1056 725 1066 740 C1071 747 1076 750 1081 752" fill="none" stroke="#fff" stroke-width="3.6"/><path d="M1081 683 C1068 700 1064 722 1072 738 C1075 744 1078 748 1082 751" fill="none" stroke="#2e282c" stroke-width="7"/><path d="M1081 683 C1068 700 1064 722 1072 738 C1075 744 1078 748 1082 751" fill="none" stroke="#fff" stroke-width="3.6"/><path d="M1094 686 C1080 698 1074 718 1078 735 C1079 742 1080 747 1083 751" fill="none" stroke="#2e282c" stroke-width="7"/><path d="M1094 686 C1080 698 1074 718 1078 735 C1079 742 1080 747 1083 751" fill="none" stroke="#fff" stroke-width="3.6"/><ellipse cx="1082" cy="752" rx="4.5" ry="3.5" fill="#3b3035"/><path d="M1151.5 700.5 L1368 731.5 C1385 705 1425 682 1500 677 C1610 670 1694 712 1695 754 C1696 800 1620 833 1530 833 C1490 833 1455 825 1432.5 814 Z" fill="#fff" stroke="#2e282c" stroke-width="2.2"/><g fill="#fff" stroke="#2e282c" stroke-width="1.8" stroke-linejoin="round"><path d="M1427 784 L1457 772 L1597 785 L1597 788 L1538.5 808.5 L1427 787 Z"/><path d="M1456 754 L1528 765 L1528 798 L1456 786 Z"/><path d="M1528 765 L1570 750 L1570 785 L1528 798 Z"/><path d="M1456 754 L1498 740 L1570 750 L1528 765 Z"/><path d="M1510 718 V744 A10 3 0 0 0 1530 744 V718 Z" /><ellipse cx="1520" cy="718" rx="10" ry="3"/><path d="M1496 724 V750 A10 3 0 0 0 1516 750 V724 Z" /><ellipse cx="1506" cy="724" rx="10" ry="3"/><path d="M1529 731 V757 A10 3 0 0 0 1549 757 V731 Z" /><ellipse cx="1539" cy="731" rx="10" ry="3"/><path d="M1475 731 V757 A10 3 0 0 0 1495 757 V731 Z" /><ellipse cx="1485" cy="731" rx="10" ry="3"/><path d="M1539 723 V749 A10 3 0 0 0 1559 749 V723 Z" /><ellipse cx="1549" cy="723" rx="10" ry="3"/><path d="M1501 736 V762 A10 3 0 0 0 1521 762 V736 Z" /><ellipse cx="1511" cy="736" rx="10" ry="3"/></g><path d="M1534 770 V795 M1544 766 V791 M1556 762 V787" stroke="#2e282c" stroke-width="2.5"/><g fill="none" stroke="#2e282c" stroke-width="3.2" stroke-linecap="round"><path d="M1411 690 C1450 688 1490 690 1505 715 M1414 693 C1445 698 1470 710 1490 724 M1418 697 C1440 705 1460 715 1478 730"/><path d="M1532 780 C1560 800 1610 812 1664 808 M1545 776 C1575 795 1620 805 1664 808 M1556 770 C1590 788 1630 800 1664 807"/></g><circle cx="1620.5" cy="736.5" r="37.4" fill="none" stroke="#2e282c" stroke-width="1.8"/><text x="1616.5" y="771.5" text-anchor="middle" font-family="Liberation Sans" font-weight="bold" font-size="89.4" fill="#3b3035">4</text><rect x="367" y="397" width="392.5" height="233" fill="none" stroke="#2e282c" stroke-width="2.2"/><rect x="366" y="396.5" width="49" height="36" fill="#3b3035"/><rect x="366" y="630" width="49" height="37" fill="#3b3035"/><path d="M378.2 424.6 L390.3 401 L403.7 425 M385.5 416.6 H396.5" fill="none" stroke="#cfcdd2" stroke-width="1.6"/><path d="M379.7 635.5 V659.3 H396 C400 659 402 655 401 651 M379.7 635.5 H395 C398 636 399 638 398.5 641" fill="none" stroke="#cfcdd2" stroke-width="1.6"/><g transform="translate(390.1 469.0)" fill="none" stroke="#2e282c" stroke-width="1.8"><path d="M0 0 H34 M0 32.3 H34 M240 1.7 H263 M240 31.5 H263" stroke-width="2.6"/><path d="M30.6 -18 L34 -21.5 L51 -23 V55.3 H30.6 V40 L34 36 V-4 L30.6 -8 Z"/><rect x="51" y="-23" width="181" height="15"/><path d="M51.0 -23 V-8"/><circle cx="61.0" cy="-17" r="4" fill="#3b3035" stroke="none"/><path d="M71.1 -23 V-8"/><circle cx="81.1" cy="-17" r="4" fill="#3b3035" stroke="none"/><path d="M91.2 -23 V-8"/><circle cx="101.2" cy="-17" r="4" fill="#3b3035" stroke="none"/><path d="M111.3 -23 V-8"/><circle cx="121.3" cy="-17" r="4" fill="#3b3035" stroke="none"/><path d="M131.4 -23 V-8"/><circle cx="141.4" cy="-17" r="4" fill="#3b3035" stroke="none"/><path d="M151.5 -23 V-8"/><circle cx="161.5" cy="-17" r="4" fill="#3b3035" stroke="none"/><path d="M171.6 -23 V-8"/><circle cx="181.6" cy="-17" r="4" fill="#3b3035" stroke="none"/><path d="M191.7 -23 V-8"/><circle cx="201.7" cy="-17" r="4" fill="#3b3035" stroke="none"/><path d="M211.8 -23 V-8"/><circle cx="221.8" cy="-17" r="4" fill="#3b3035" stroke="none"/><rect x="58" y="-6" width="182" height="40"/><path d="M78.2 -6 V34"/><path d="M98.4 -6 V34"/><path d="M118.6 -6 V34"/><path d="M138.8 -6 V34"/><path d="M159.0 -6 V34"/><path d="M179.2 -6 V34"/><path d="M199.4 -6 V34"/><path d="M219.6 -6 V34"/><path d="M59.5 2.6 H242.4 L240 11 L242.4 20.4 H59.5 L57 11 Z" fill="#3b3035" stroke="none"/><rect x="51" y="35.7" width="181" height="19"/><path d="M51.0 35.7 V54.7"/><path d="M55.5 54 V47 A5.5 5.5 0 0 1 66.5 47 V54 Z" fill="#3b3035" stroke="none"/><path d="M71.1 35.7 V54.7"/><path d="M75.6 54 V47 A5.5 5.5 0 0 1 86.6 47 V54 Z" fill="#3b3035" stroke="none"/><path d="M91.2 35.7 V54.7"/><path d="M95.7 54 V47 A5.5 5.5 0 0 1 106.7 47 V54 Z" fill="#3b3035" stroke="none"/><path d="M111.3 35.7 V54.7"/><path d="M115.8 54 V47 A5.5 5.5 0 0 1 126.8 47 V54 Z" fill="#3b3035" stroke="none"/><path d="M131.4 35.7 V54.7"/><path d="M135.9 54 V47 A5.5 5.5 0 0 1 146.9 47 V54 Z" fill="#3b3035" stroke="none"/><path d="M151.5 35.7 V54.7"/><path d="M156.0 54 V47 A5.5 5.5 0 0 1 167.0 47 V54 Z" fill="#3b3035" stroke="none"/><path d="M171.6 35.7 V54.7"/><path d="M176.1 54 V47 A5.5 5.5 0 0 1 187.1 47 V54 Z" fill="#3b3035" stroke="none"/><path d="M191.7 35.7 V54.7"/><path d="M196.2 54 V47 A5.5 5.5 0 0 1 207.2 47 V54 Z" fill="#3b3035" stroke="none"/><path d="M211.8 35.7 V54.7"/><path d="M216.3 54 V47 A5.5 5.5 0 0 1 227.3 47 V54 Z" fill="#3b3035" stroke="none"/></g><g transform="translate(553.8 486.9)" stroke="#2e282c" stroke-width="1.8" stroke-linecap="round" stroke-linejoin="round"><path d="M-2.6 2.7 C-5 6 -5 9 -4 10.7 C-2 17 -1 22 0 26.8 C2 32 4 37 5.4 42.8 C7 48 8.5 53 9.4 58.8 C10.5 66 10.7 73 10.7 80.2 C11 88 12 95 12.1 101.6 L12.1 101.6 L40 90 L76.2 68.1 C71 66 66 65 61.5 64.1 C57 63 53 61 49.5 58.8 C46 56 43 52 40.2 48.1 C37 43 33 37 29.4 32.1 C26 27 22 21 18.8 16.1 C16 12 13 8 9.4 4 C6 0 0 0 -2.6 2.7 Z" fill="#fff" stroke="none"/><path d="M-2.6 2.7 C-5 6 -5 9 -4 10.7 C-2 17 -1 22 0 26.8 C2 32 4 37 5.4 42.8 C7 48 8.5 53 9.4 58.8 C10.5 66 10.7 73 10.7 80.2 C11 88 12 95 12.1 101.6" fill="none"/><path d="M9.4 4 C13 8 16 12 18.8 16.1 C22 21 26 27 29.4 32.1 C33 37 37 43 40.2 48.1 C43 52 46 56 49.5 58.8 C53 61 57 63 61.5 64.1 C66 65 71 66 76.2 68.1" fill="none"/><path d="M-2.6 2.7 C0 -1 7 0 9.4 4 M-1 9 C2 13 7 13 9 8" fill="none" stroke-width="1.4"/><path d="M-26.7 97.6 C-22 91 -17 87 -12 84 C-10 83 -9 82 -8 81.5 C-12 76 -12 71 -9 68 C-4 64 3 62 9 62" fill="#fff"/><path d="M-3 78 C2 76 6 76 10.5 76.5" fill="none" stroke-width="1.5"/></g><circle cx="464.3" cy="565.8" r="38.8" fill="none" stroke="#2e282c" stroke-width="1.8"/><path d="M464.5 538 H479.5 V594 H464.5 V558 C459 562 454 564 449 565 V553.5 C456 551 462 546 464.5 538 Z" fill="#3b3035"/><text x="671.5" y="578" font-family="Liberation Serif" font-size="33" fill="#2e282c" textLength="62.5" lengthAdjust="spacingAndGlyphs">OFF</text><path d="M697 451 C712 470 718 500 706 519" fill="none" stroke="#2e282c" stroke-width="1.8"/><path d="M692 524 L697 498 L712 508 Z" fill="#3b3035"/><rect x="435" y="2084.5" width="390" height="227.5" fill="none" stroke="#2e282c" stroke-width="2.2"/><rect x="434.8" y="2084.3" width="47.7" height="35.7" fill="#3b3035"/><path d="M472.3 2096 C468 2090 463 2089.5 460 2089.5 C452 2090 448 2096 448 2103 C448 2110 453 2115 460 2115 C466 2115 470 2112 472.7 2109.9" fill="none" stroke="#cfcdd2" stroke-width="1.6"/><g transform="translate(464.7 2155.2)" fill="none" stroke="#2e282c" stroke-width="1.8"><path d="M0 0 H34 M0 32.3 H34 M240 1.7 H263 M240 31.5 H263" stroke-width="2.6"/><path d="M30.6 -18 L34 -21.5 L51 -23 V55.3 H30.6 V40 L34 36 V-4 L30.6 -8 Z"/><rect x="51" y="-23" width="181" height="15"/><path d="M51.0 -23 V-8"/><circle cx="61.0" cy="-17" r="4" fill="#3b3035" stroke="none"/><path d="M71.1 -23 V-8"/><circle cx="81.1" cy="-17" r="4" fill="#3b3035" stroke="none"/><path d="M91.2 -23 V-8"/><circle cx="101.2" cy="-17" r="4" fill="#3b3035" stroke="none"/><path d="M111.3 -23 V-8"/><circle cx="121.3" cy="-17" r="4" fill="#3b3035" stroke="none"/><path d="M131.4 -23 V-8"/><circle cx="141.4" cy="-17" r="4" fill="#3b3035" stroke="none"/><path d="M151.5 -23 V-8"/><circle cx="161.5" cy="-17" r="4" fill="#3b3035" stroke="none"/><path d="M171.6 -23 V-8"/><circle cx="181.6" cy="-17" r="4" fill="#3b3035" stroke="none"/><path d="M191.7 -23 V-8"/><circle cx="201.7" cy="-17" r="4" fill="#3b3035" stroke="none"/><path d="M211.8 -23 V-8"/><circle cx="221.8" cy="-17" r="4" fill="#3b3035" stroke="none"/><rect x="58" y="-6" width="182" height="40"/><path d="M78.2 -6 V34"/><path d="M98.4 -6 V34"/><path d="M118.6 -6 V34"/><path d="M138.8 -6 V34"/><path d="M159.0 -6 V34"/><path d="M179.2 -6 V34"/><path d="M199.4 -6 V34"/><path d="M219.6 -6 V34"/><path d="M59.5 2.6 H242.4 L240 11 L242.4 20.4 H59.5 L57 11 Z" fill="#3b3035" stroke="none"/><rect x="51" y="35.7" width="181" height="19"/><path d="M51.0 35.7 V54.7"/><path d="M55.5 54 V47 A5.5 5.5 0 0 1 66.5 47 V54 Z" fill="#3b3035" stroke="none"/><path d="M71.1 35.7 V54.7"/><path d="M75.6 54 V47 A5.5 5.5 0 0 1 86.6 47 V54 Z" fill="#3b3035" stroke="none"/><path d="M91.2 35.7 V54.7"/><path d="M95.7 54 V47 A5.5 5.5 0 0 1 106.7 47 V54 Z" fill="#3b3035" stroke="none"/><path d="M111.3 35.7 V54.7"/><path d="M115.8 54 V47 A5.5 5.5 0 0 1 126.8 47 V54 Z" fill="#3b3035" stroke="none"/><path d="M131.4 35.7 V54.7"/><path d="M135.9 54 V47 A5.5 5.5 0 0 1 146.9 47 V54 Z" fill="#3b3035" stroke="none"/><path d="M151.5 35.7 V54.7"/><path d="M156.0 54 V47 A5.5 5.5 0 0 1 167.0 47 V54 Z" fill="#3b3035" stroke="none"/><path d="M171.6 35.7 V54.7"/><path d="M176.1 54 V47 A5.5 5.5 0 0 1 187.1 47 V54 Z" fill="#3b3035" stroke="none"/><path d="M191.7 35.7 V54.7"/><path d="M196.2 54 V47 A5.5 5.5 0 0 1 207.2 47 V54 Z" fill="#3b3035" stroke="none"/><path d="M211.8 35.7 V54.7"/><path d="M216.3 54 V47 A5.5 5.5 0 0 1 227.3 47 V54 Z" fill="#3b3035" stroke="none"/></g><g transform="translate(626.7 2166.0)" stroke="#2e282c" stroke-width="1.8" stroke-linecap="round" stroke-linejoin="round"><path d="M-2.6 2.7 C-5 6 -5 9 -4 10.7 C-2 17 -1 22 0 26.8 C2 32 4 37 5.4 42.8 C7 48 8.5 53 9.4 58.8 C10.5 66 10.7 73 10.7 80.2 C11 88 12 95 12.1 101.6 L12.1 101.6 L40 90 L76.2 68.1 C71 66 66 65 61.5 64.1 C57 63 53 61 49.5 58.8 C46 56 43 52 40.2 48.1 C37 43 33 37 29.4 32.1 C26 27 22 21 18.8 16.1 C16 12 13 8 9.4 4 C6 0 0 0 -2.6 2.7 Z" fill="#fff" stroke="none"/><path d="M-2.6 2.7 C-5 6 -5 9 -4 10.7 C-2 17 -1 22 0 26.8 C2 32 4 37 5.4 42.8 C7 48 8.5 53 9.4 58.8 C10.5 66 10.7 73 10.7 80.2 C11 88 12 95 12.1 101.6" fill="none"/><path d="M9.4 4 C13 8 16 12 18.8 16.1 C22 21 26 27 29.4 32.1 C33 37 37 43 40.2 48.1 C43 52 46 56 49.5 58.8 C53 61 57 63 61.5 64.1 C66 65 71 66 76.2 68.1" fill="none"/><path d="M-2.6 2.7 C0 -1 7 0 9.4 4 M-1 9 C2 13 7 13 9 8" fill="none" stroke-width="1.4"/><path d="M-26.7 97.6 C-22 91 -17 87 -12 84 C-10 83 -9 82 -8 81.5 C-12 76 -12 71 -9 68 C-4 64 3 62 9 62" fill="#fff"/><path d="M-3 78 C2 76 6 76 10.5 76.5" fill="none" stroke-width="1.5"/></g><circle cx="497.2" cy="2257.6" r="40.2" fill="none" stroke="#2e282c" stroke-width="1.8"/><text x="496.2" y="2297.6" text-anchor="middle" font-family="Liberation Sans" font-weight="bold" font-size="103.4" fill="#3b3035">7</text><text x="753" y="2261" font-family="Liberation Serif" font-size="29" fill="#2e282c" textLength="39.5" lengthAdjust="spacingAndGlyphs">ON</text><path d="M777 2212 C790 2190 788 2170 770 2152" fill="none" stroke="#2e282c" stroke-width="1.8"/><path d="M761 2144 L782 2160 L768 2167 Z" fill="#3b3035"/><g stroke="#2e282c" stroke-width="1.8" fill="#fff"><path d="M587.9 889.8 H716 L722 893 V897 L716 900.3 H587.9 Z"/><path d="M513.9 881 C525 882 535 884 542 884.5 V903.8 C535 904 525 906 513.9 907.4 Z"/><path d="M552.7 884.5 L587.9 889.8 V900.3 L552.7 903.8 Z"/><rect x="542" y="876" width="11" height="18" rx="5"/><rect x="542" y="894" width="11" height="18" rx="5"/></g><path d="M420 871.6 H515.7 V917.1 H420 C404 917 404 871.6 420 871.6 Z" fill="#3b3035"/><path d="M415 876 C411 885 411 904 415 913" stroke="#fff" stroke-width="2.5" fill="none"/><rect x="423.5" y="878.5" width="3.2" height="3.2" fill="#fff"/><rect x="423.5" y="885.5" width="3.2" height="3.2" fill="#fff"/><rect x="423.5" y="892.5" width="3.2" height="3.2" fill="#fff"/><rect x="423.5" y="899.5" width="3.2" height="3.2" fill="#fff"/><rect x="423.5" y="906.5" width="3.2" height="3.2" fill="#fff"/><rect x="431.7" y="878.5" width="3.2" height="3.2" fill="#fff"/><rect x="431.7" y="885.5" width="3.2" height="3.2" fill="#fff"/><rect x="431.7" y="892.5" width="3.2" height="3.2" fill="#fff"/><rect x="431.7" y="899.5" width="3.2" height="3.2" fill="#fff"/><rect x="431.7" y="906.5" width="3.2" height="3.2" fill="#fff"/><rect x="439.9" y="878.5" width="3.2" height="3.2" fill="#fff"/><rect x="439.9" y="885.5" width="3.2" height="3.2" fill="#fff"/><rect x="439.9" y="892.5" width="3.2" height="3.2" fill="#fff"/><rect x="439.9" y="899.5" width="3.2" height="3.2" fill="#fff"/><rect x="439.9" y="906.5" width="3.2" height="3.2" fill="#fff"/><rect x="448.1" y="878.5" width="3.2" height="3.2" fill="#fff"/><rect x="448.1" y="885.5" width="3.2" height="3.2" fill="#fff"/><rect x="448.1" y="892.5" width="3.2" height="3.2" fill="#fff"/><rect x="448.1" y="899.5" width="3.2" height="3.2" fill="#fff"/><rect x="448.1" y="906.5" width="3.2" height="3.2" fill="#fff"/><rect x="456.3" y="878.5" width="3.2" height="3.2" fill="#fff"/><rect x="456.3" y="885.5" width="3.2" height="3.2" fill="#fff"/><rect x="456.3" y="892.5" width="3.2" height="3.2" fill="#fff"/><rect x="456.3" y="899.5" width="3.2" height="3.2" fill="#fff"/><rect x="456.3" y="906.5" width="3.2" height="3.2" fill="#fff"/><rect x="464.5" y="878.5" width="3.2" height="3.2" fill="#fff"/><rect x="464.5" y="885.5" width="3.2" height="3.2" fill="#fff"/><rect x="464.5" y="892.5" width="3.2" height="3.2" fill="#fff"/><rect x="464.5" y="899.5" width="3.2" height="3.2" fill="#fff"/><rect x="464.5" y="906.5" width="3.2" height="3.2" fill="#fff"/><rect x="472.7" y="878.5" width="3.2" height="3.2" fill="#fff"/><rect x="472.7" y="885.5" width="3.2" height="3.2" fill="#fff"/><rect x="472.7" y="892.5" width="3.2" height="3.2" fill="#fff"/><rect x="472.7" y="899.5" width="3.2" height="3.2" fill="#fff"/><rect x="472.7" y="906.5" width="3.2" height="3.2" fill="#fff"/><rect x="480.9" y="878.5" width="3.2" height="3.2" fill="#fff"/><rect x="480.9" y="885.5" width="3.2" height="3.2" fill="#fff"/><rect x="480.9" y="892.5" width="3.2" height="3.2" fill="#fff"/><rect x="480.9" y="899.5" width="3.2" height="3.2" fill="#fff"/><rect x="480.9" y="906.5" width="3.2" height="3.2" fill="#fff"/><rect x="489.1" y="878.5" width="3.2" height="3.2" fill="#fff"/><rect x="489.1" y="885.5" width="3.2" height="3.2" fill="#fff"/><rect x="489.1" y="892.5" width="3.2" height="3.2" fill="#fff"/><rect x="489.1" y="899.5" width="3.2" height="3.2" fill="#fff"/><rect x="489.1" y="906.5" width="3.2" height="3.2" fill="#fff"/><rect x="497.3" y="878.5" width="3.2" height="3.2" fill="#fff"/><rect x="497.3" y="885.5" width="3.2" height="3.2" fill="#fff"/><rect x="497.3" y="892.5" width="3.2" height="3.2" fill="#fff"/><rect x="497.3" y="899.5" width="3.2" height="3.2" fill="#fff"/><rect x="497.3" y="906.5" width="3.2" height="3.2" fill="#fff"/><path d="M695 893 L716 891 L700 896" fill="none" stroke="#2e282c" stroke-width="1.4"/><path d="M629 834 C604 842 604 946 629 952 C614 944 614 842 629 834 Z" fill="#fff" stroke="#2e282c" stroke-width="2"/><path d="M629 834 C633 838 632 846 630 852" fill="none" stroke="#2e282c" stroke-width="2"/><path d="M623 849 L644 868 L634 889 Z" fill="#fff" stroke="#2e282c" stroke-width="2"/><path d="M629 952 C634 948 634 935 636 922 L626 930" fill="none" stroke="#2e282c" stroke-width="2"/><circle cx="728.0" cy="793.0" r="30.8" fill="none" stroke="#2e282c" stroke-width="1.8"/><text x="728.0" y="821.5" text-anchor="middle" font-family="Liberation Sans" font-weight="bold" font-size="74.0" fill="#3b3035">5</text><path d="M718.3 835 H744.7 V829.9 L762.3 844 L744.7 858 V852.8 H718.3 Z" fill="#3b3035"/><path d="M748 886 H771 V900.3 H748 Z" fill="#3b3035"/><path d="M738 879 C728 882 727 905 738 907.5 L748 905 V881 Z" fill="#3b3035"/><path d="M771 895 H859" stroke="#2e282c" stroke-width="2" stroke-dasharray="6 4"/><rect x="859.2" y="857" width="602.8" height="72.7" fill="none" stroke="#2e282c" stroke-width="2.2"/><rect x="808.5" y="929.7" width="703.3" height="4.7" fill="none" stroke="#2e282c" stroke-width="2"/><circle cx="1049.8" cy="896" r="8" fill="none" stroke="#2e282c" stroke-width="1.8"/><path d="M962 816 L1044 890" stroke="#2e282c" stroke-width="2" stroke-dasharray="6 4"/><g transform="translate(939.6 790.6) rotate(-45)" fill="#3b3035"><rect x="-6.5" y="4" width="13" height="25"/><circle r="12.7"/></g><path d="M934 791 L940 789 L938 796 Z" fill="#fff"/><path d="M1462 895 H1530" stroke="#2e282c" stroke-width="2" stroke-dasharray="6 4"/><path d="M1530 888 H1552 V901 H1530 Z" fill="#3b3035"/><path d="M1553 881 C1568 881 1568 907 1553 907 Z" fill="#3b3035"/><path d="M891.6 934.4 V1548.0 M898.0 934.4 V1548.0 M960.3 934.4 V1670.0 M966.7 934.4 V1670.0 M1019.5 934.4 V1880.0 M1025.9 934.4 V1880.0 M1064.6 934.4 V1733.0 M1071.0 934.4 V1733.0 M1108.6 934.4 V2048.0 M1115.0 934.4 V2048.0 M1153.2 934.4 V1548.0 M1159.6 934.4 V1548.0 M1199.6 934.4 V2181.0 M1206.0 934.4 V2181.0 M1241.3 934.4 V1750.0 M1247.7 934.4 V1750.0 M1290.6 934.4 V1965.0 M1297.0 934.4 V1965.0 M1351.3 934.4 V1824.0 M1357.7 934.4 V1824.0 M1422.4 934.4 V1548.3 M1428.8 934.4 V1548.3 " stroke="#2e282c" stroke-width="1.6"/><g transform="translate(894.8 1590.0)"><path d="M-41.4 0.0 L41.4 0.0 L71.7 28.5 L98.3 56.0 L108.5 101.0 L110.0 133.0 L95.0 170.0 L56.6 210.4 L-59.5 210.4 L-99.5 164.0 L-111.5 90.5 L-96.1 46.5 Z M-71.0 26.2 L-61.0 56.0 M-61.0 56.0 L-20.0 56.0 M-20.0 56.0 L12.5 30.0 M12.5 30.0 L6.0 0.0 M12.5 30.0 L55.0 45.0 M55.0 45.0 L71.7 28.5 M55.0 45.0 L63.4 89.5 M63.4 89.5 L90.0 117.7 M90.0 117.7 L108.5 101.0 M90.0 117.7 L75.6 164.0 M63.4 89.5 L32.0 118.5 M-20.0 56.0 L-10.0 104.0 M-10.0 104.0 L32.0 118.5 M-10.0 104.0 L-46.0 128.0 M-61.0 56.0 L-75.0 103.0 M-75.0 103.0 L-101.0 117.0 M-75.0 103.0 L-46.0 128.0 M-46.0 128.0 L-40.5 174.5 M-40.5 174.5 L-63.0 190.0 M-40.5 174.5 L2.0 190.5 M2.0 190.5 L2.0 210.4 M2.0 190.5 L36.8 163.3 M36.8 163.3 L32.0 118.5 M36.8 163.3 L75.6 164.0 M75.6 164.0 L76.5 189.0 M-38 3 L-92 48 M-107 92 L-95 163 L-56 207" fill="none" stroke="#2e282c" stroke-width="1.95" stroke-linejoin="round"/><rect x="-11.5" y="-42" width="23" height="33" fill="none" stroke="#2e282c" stroke-width="2"/><rect x="-26" y="-9" width="52" height="5" fill="none" stroke="#2e282c" stroke-width="1.8"/><rect x="-26" y="-3" width="52" height="3" fill="#2e282c"/></g><g transform="translate(963.5 1712.0)"><path d="M-41.4 0.0 L41.4 0.0 L71.7 28.5 L98.3 56.0 L108.5 101.0 L110.0 133.0 L95.0 170.0 L56.6 210.4 L-59.5 210.4 L-99.5 164.0 L-111.5 90.5 L-96.1 46.5 Z M-71.0 26.2 L-61.0 56.0 M-61.0 56.0 L-20.0 56.0 M-20.0 56.0 L12.5 30.0 M12.5 30.0 L6.0 0.0 M12.5 30.0 L55.0 45.0 M55.0 45.0 L71.7 28.5 M55.0 45.0 L63.4 89.5 M63.4 89.5 L90.0 117.7 M90.0 117.7 L108.5 101.0 M90.0 117.7 L75.6 164.0 M63.4 89.5 L32.0 118.5 M-20.0 56.0 L-10.0 104.0 M-10.0 104.0 L32.0 118.5 M-10.0 104.0 L-46.0 128.0 M-61.0 56.0 L-75.0 103.0 M-75.0 103.0 L-101.0 117.0 M-75.0 103.0 L-46.0 128.0 M-46.0 128.0 L-40.5 174.5 M-40.5 174.5 L-63.0 190.0 M-40.5 174.5 L2.0 190.5 M2.0 190.5 L2.0 210.4 M2.0 190.5 L36.8 163.3 M36.8 163.3 L32.0 118.5 M36.8 163.3 L75.6 164.0 M75.6 164.0 L76.5 189.0 M-38 3 L-92 48 M-107 92 L-95 163 L-56 207" fill="none" stroke="#2e282c" stroke-width="1.95" stroke-linejoin="round"/><rect x="-11.5" y="-42" width="23" height="33" fill="none" stroke="#2e282c" stroke-width="2"/><rect x="-26" y="-9" width="52" height="5" fill="none" stroke="#2e282c" stroke-width="1.8"/><rect x="-26" y="-3" width="52" height="3" fill="#2e282c"/></g><g transform="translate(1022.7 1922.0)"><path d="M-41.4 0.0 L41.4 0.0 L71.7 28.5 L98.3 56.0 L108.5 101.0 L110.0 133.0 L95.0 170.0 L56.6 210.4 L-59.5 210.4 L-99.5 164.0 L-111.5 90.5 L-96.1 46.5 Z M-71.0 26.2 L-61.0 56.0 M-61.0 56.0 L-20.0 56.0 M-20.0 56.0 L12.5 30.0 M12.5 30.0 L6.0 0.0 M12.5 30.0 L55.0 45.0 M55.0 45.0 L71.7 28.5 M55.0 45.0 L63.4 89.5 M63.4 89.5 L90.0 117.7 M90.0 117.7 L108.5 101.0 M90.0 117.7 L75.6 164.0 M63.4 89.5 L32.0 118.5 M-20.0 56.0 L-10.0 104.0 M-10.0 104.0 L32.0 118.5 M-10.0 104.0 L-46.0 128.0 M-61.0 56.0 L-75.0 103.0 M-75.0 103.0 L-101.0 117.0 M-75.0 103.0 L-46.0 128.0 M-46.0 128.0 L-40.5 174.5 M-40.5 174.5 L-63.0 190.0 M-40.5 174.5 L2.0 190.5 M2.0 190.5 L2.0 210.4 M2.0 190.5 L36.8 163.3 M36.8 163.3 L32.0 118.5 M36.8 163.3 L75.6 164.0 M75.6 164.0 L76.5 189.0 M-38 3 L-92 48 M-107 92 L-95 163 L-56 207" fill="none" stroke="#2e282c" stroke-width="1.95" stroke-linejoin="round"/><rect x="-11.5" y="-42" width="23" height="33" fill="none" stroke="#2e282c" stroke-width="2"/><rect x="-26" y="-9" width="52" height="5" fill="none" stroke="#2e282c" stroke-width="1.8"/><rect x="-26" y="-3" width="52" height="3" fill="#2e282c"/></g><g transform="translate(1067.8 1775.0)"><path d="M-41.4 0.0 L41.4 0.0 L71.7 28.5 L98.3 56.0 L108.5 101.0 L110.0 133.0 L95.0 170.0 L56.6 210.4 L-59.5 210.4 L-99.5 164.0 L-111.5 90.5 L-96.1 46.5 Z M-71.0 26.2 L-61.0 56.0 M-61.0 56.0 L-20.0 56.0 M-20.0 56.0 L12.5 30.0 M12.5 30.0 L6.0 0.0 M12.5 30.0 L55.0 45.0 M55.0 45.0 L71.7 28.5 M55.0 45.0 L63.4 89.5 M63.4 89.5 L90.0 117.7 M90.0 117.7 L108.5 101.0 M90.0 117.7 L75.6 164.0 M63.4 89.5 L32.0 118.5 M-20.0 56.0 L-10.0 104.0 M-10.0 104.0 L32.0 118.5 M-10.0 104.0 L-46.0 128.0 M-61.0 56.0 L-75.0 103.0 M-75.0 103.0 L-101.0 117.0 M-75.0 103.0 L-46.0 128.0 M-46.0 128.0 L-40.5 174.5 M-40.5 174.5 L-63.0 190.0 M-40.5 174.5 L2.0 190.5 M2.0 190.5 L2.0 210.4 M2.0 190.5 L36.8 163.3 M36.8 163.3 L32.0 118.5 M36.8 163.3 L75.6 164.0 M75.6 164.0 L76.5 189.0 M-38 3 L-92 48 M-107 92 L-95 163 L-56 207" fill="none" stroke="#2e282c" stroke-width="1.95" stroke-linejoin="round"/><rect x="-11.5" y="-42" width="23" height="33" fill="none" stroke="#2e282c" stroke-width="2"/><rect x="-26" y="-9" width="52" height="5" fill="none" stroke="#2e282c" stroke-width="1.8"/><rect x="-26" y="-3" width="52" height="3" fill="#2e282c"/></g><g transform="translate(1111.8 2090.0)"><path d="M-41.4 0.0 L41.4 0.0 L71.7 28.5 L98.3 56.0 L108.5 101.0 L110.0 133.0 L95.0 170.0 L56.6 210.4 L-59.5 210.4 L-99.5 164.0 L-111.5 90.5 L-96.1 46.5 Z M-71.0 26.2 L-61.0 56.0 M-61.0 56.0 L-20.0 56.0 M-20.0 56.0 L12.5 30.0 M12.5 30.0 L6.0 0.0 M12.5 30.0 L55.0 45.0 M55.0 45.0 L71.7 28.5 M55.0 45.0 L63.4 89.5 M63.4 89.5 L90.0 117.7 M90.0 117.7 L108.5 101.0 M90.0 117.7 L75.6 164.0 M63.4 89.5 L32.0 118.5 M-20.0 56.0 L-10.0 104.0 M-10.0 104.0 L32.0 118.5 M-10.0 104.0 L-46.0 128.0 M-61.0 56.0 L-75.0 103.0 M-75.0 103.0 L-101.0 117.0 M-75.0 103.0 L-46.0 128.0 M-46.0 128.0 L-40.5 174.5 M-40.5 174.5 L-63.0 190.0 M-40.5 174.5 L2.0 190.5 M2.0 190.5 L2.0 210.4 M2.0 190.5 L36.8 163.3 M36.8 163.3 L32.0 118.5 M36.8 163.3 L75.6 164.0 M75.6 164.0 L76.5 189.0 M-38 3 L-92 48 M-107 92 L-95 163 L-56 207" fill="none" stroke="#2e282c" stroke-width="1.95" stroke-linejoin="round"/><rect x="-11.5" y="-42" width="23" height="33" fill="none" stroke="#2e282c" stroke-width="2"/><rect x="-26" y="-9" width="52" height="5" fill="none" stroke="#2e282c" stroke-width="1.8"/><rect x="-26" y="-3" width="52" height="3" fill="#2e282c"/></g><g transform="translate(1156.4 1590.0)"><path d="M-41.4 0.0 L41.4 0.0 L71.7 28.5 L98.3 56.0 L108.5 101.0 L110.0 133.0 L95.0 170.0 L56.6 210.4 L-59.5 210.4 L-99.5 164.0 L-111.5 90.5 L-96.1 46.5 Z M-71.0 26.2 L-61.0 56.0 M-61.0 56.0 L-20.0 56.0 M-20.0 56.0 L12.5 30.0 M12.5 30.0 L6.0 0.0 M12.5 30.0 L55.0 45.0 M55.0 45.0 L71.7 28.5 M55.0 45.0 L63.4 89.5 M63.4 89.5 L90.0 117.7 M90.0 117.7 L108.5 101.0 M90.0 117.7 L75.6 164.0 M63.4 89.5 L32.0 118.5 M-20.0 56.0 L-10.0 104.0 M-10.0 104.0 L32.0 118.5 M-10.0 104.0 L-46.0 128.0 M-61.0 56.0 L-75.0 103.0 M-75.0 103.0 L-101.0 117.0 M-75.0 103.0 L-46.0 128.0 M-46.0 128.0 L-40.5 174.5 M-40.5 174.5 L-63.0 190.0 M-40.5 174.5 L2.0 190.5 M2.0 190.5 L2.0 210.4 M2.0 190.5 L36.8 163.3 M36.8 163.3 L32.0 118.5 M36.8 163.3 L75.6 164.0 M75.6 164.0 L76.5 189.0 M-38 3 L-92 48 M-107 92 L-95 163 L-56 207" fill="none" stroke="#2e282c" stroke-width="1.95" stroke-linejoin="round"/><rect x="-11.5" y="-42" width="23" height="33" fill="none" stroke="#2e282c" stroke-width="2"/><rect x="-26" y="-9" width="52" height="5" fill="none" stroke="#2e282c" stroke-width="1.8"/><rect x="-26" y="-3" width="52" height="3" fill="#2e282c"/></g><g transform="translate(1202.8 2223.0)"><path d="M-41.4 0.0 L41.4 0.0 L71.7 28.5 L98.3 56.0 L108.5 101.0 L110.0 133.0 L95.0 170.0 L56.6 210.4 L-59.5 210.4 L-99.5 164.0 L-111.5 90.5 L-96.1 46.5 Z M-71.0 26.2 L-61.0 56.0 M-61.0 56.0 L-20.0 56.0 M-20.0 56.0 L12.5 30.0 M12.5 30.0 L6.0 0.0 M12.5 30.0 L55.0 45.0 M55.0 45.0 L71.7 28.5 M55.0 45.0 L63.4 89.5 M63.4 89.5 L90.0 117.7 M90.0 117.7 L108.5 101.0 M90.0 117.7 L75.6 164.0 M63.4 89.5 L32.0 118.5 M-20.0 56.0 L-10.0 104.0 M-10.0 104.0 L32.0 118.5 M-10.0 104.0 L-46.0 128.0 M-61.0 56.0 L-75.0 103.0 M-75.0 103.0 L-101.0 117.0 M-75.0 103.0 L-46.0 128.0 M-46.0 128.0 L-40.5 174.5 M-40.5 174.5 L-63.0 190.0 M-40.5 174.5 L2.0 190.5 M2.0 190.5 L2.0 210.4 M2.0 190.5 L36.8 163.3 M36.8 163.3 L32.0 118.5 M36.8 163.3 L75.6 164.0 M75.6 164.0 L76.5 189.0 M-38 3 L-92 48 M-107 92 L-95 163 L-56 207" fill="none" stroke="#2e282c" stroke-width="1.95" stroke-linejoin="round"/><rect x="-11.5" y="-42" width="23" height="33" fill="none" stroke="#2e282c" stroke-width="2"/><rect x="-26" y="-9" width="52" height="5" fill="none" stroke="#2e282c" stroke-width="1.8"/><rect x="-26" y="-3" width="52" height="3" fill="#2e282c"/><g fill="none" stroke="#2e282c" stroke-width="1.8"><rect x="-24" y="4.5" width="48" height="6"/><rect x="-21" y="10.5" width="41" height="34"/><rect x="-15" y="44.5" width="28" height="13"/><path d="M-7 69 V89 M-3 69 V89 M3 69 V89 M7 69 V89" stroke-width="1.6"/><rect x="-11" y="89" width="21" height="18"/><rect x="-21" y="98" width="39" height="28"/><path d="M-8 114 V148 A8 8 0 0 0 8 148 V114 M-3 126 V144 A3 3 0 0 0 3 144 V126"/></g></g><g transform="translate(1244.5 1792.0)"><path d="M-41.4 0.0 L41.4 0.0 L71.7 28.5 L98.3 56.0 L108.5 101.0 L110.0 133.0 L95.0 170.0 L56.6 210.4 L-59.5 210.4 L-99.5 164.0 L-111.5 90.5 L-96.1 46.5 Z M-71.0 26.2 L-61.0 56.0 M-61.0 56.0 L-20.0 56.0 M-20.0 56.0 L12.5 30.0 M12.5 30.0 L6.0 0.0 M12.5 30.0 L55.0 45.0 M55.0 45.0 L71.7 28.5 M55.0 45.0 L63.4 89.5 M63.4 89.5 L90.0 117.7 M90.0 117.7 L108.5 101.0 M90.0 117.7 L75.6 164.0 M63.4 89.5 L32.0 118.5 M-20.0 56.0 L-10.0 104.0 M-10.0 104.0 L32.0 118.5 M-10.0 104.0 L-46.0 128.0 M-61.0 56.0 L-75.0 103.0 M-75.0 103.0 L-101.0 117.0 M-75.0 103.0 L-46.0 128.0 M-46.0 128.0 L-40.5 174.5 M-40.5 174.5 L-63.0 190.0 M-40.5 174.5 L2.0 190.5 M2.0 190.5 L2.0 210.4 M2.0 190.5 L36.8 163.3 M36.8 163.3 L32.0 118.5 M36.8 163.3 L75.6 164.0 M75.6 164.0 L76.5 189.0 M-38 3 L-92 48 M-107 92 L-95 163 L-56 207" fill="none" stroke="#2e282c" stroke-width="1.95" stroke-linejoin="round"/><rect x="-11.5" y="-42" width="23" height="33" fill="none" stroke="#2e282c" stroke-width="2"/><rect x="-26" y="-9" width="52" height="5" fill="none" stroke="#2e282c" stroke-width="1.8"/><rect x="-26" y="-3" width="52" height="3" fill="#2e282c"/></g><g transform="translate(1293.8 2007.0)"><path d="M-41.4 0.0 L41.4 0.0 L71.7 28.5 L98.3 56.0 L108.5 101.0 L110.0 133.0 L95.0 170.0 L56.6 210.4 L-59.5 210.4 L-99.5 164.0 L-111.5 90.5 L-96.1 46.5 Z M-71.0 26.2 L-61.0 56.0 M-61.0 56.0 L-20.0 56.0 M-20.0 56.0 L12.5 30.0 M12.5 30.0 L6.0 0.0 M12.5 30.0 L55.0 45.0 M55.0 45.0 L71.7 28.5 M55.0 45.0 L63.4 89.5 M63.4 89.5 L90.0 117.7 M90.0 117.7 L108.5 101.0 M90.0 117.7 L75.6 164.0 M63.4 89.5 L32.0 118.5 M-20.0 56.0 L-10.0 104.0 M-10.0 104.0 L32.0 118.5 M-10.0 104.0 L-46.0 128.0 M-61.0 56.0 L-75.0 103.0 M-75.0 103.0 L-101.0 117.0 M-75.0 103.0 L-46.0 128.0 M-46.0 128.0 L-40.5 174.5 M-40.5 174.5 L-63.0 190.0 M-40.5 174.5 L2.0 190.5 M2.0 190.5 L2.0 210.4 M2.0 190.5 L36.8 163.3 M36.8 163.3 L32.0 118.5 M36.8 163.3 L75.6 164.0 M75.6 164.0 L76.5 189.0 M-38 3 L-92 48 M-107 92 L-95 163 L-56 207" fill="none" stroke="#2e282c" stroke-width="1.95" stroke-linejoin="round"/><rect x="-11.5" y="-42" width="23" height="33" fill="none" stroke="#2e282c" stroke-width="2"/><rect x="-26" y="-9" width="52" height="5" fill="none" stroke="#2e282c" stroke-width="1.8"/><rect x="-26" y="-3" width="52" height="3" fill="#2e282c"/></g><g transform="translate(1354.5 1866.0)"><path d="M-41.4 0.0 L41.4 0.0 L71.7 28.5 L98.3 56.0 L108.5 101.0 L110.0 133.0 L95.0 170.0 L56.6 210.4 L-59.5 210.4 L-99.5 164.0 L-111.5 90.5 L-96.1 46.5 Z M-71.0 26.2 L-61.0 56.0 M-61.0 56.0 L-20.0 56.0 M-20.0 56.0 L12.5 30.0 M12.5 30.0 L6.0 0.0 M12.5 30.0 L55.0 45.0 M55.0 45.0 L71.7 28.5 M55.0 45.0 L63.4 89.5 M63.4 89.5 L90.0 117.7 M90.0 117.7 L108.5 101.0 M90.0 117.7 L75.6 164.0 M63.4 89.5 L32.0 118.5 M-20.0 56.0 L-10.0 104.0 M-10.0 104.0 L32.0 118.5 M-10.0 104.0 L-46.0 128.0 M-61.0 56.0 L-75.0 103.0 M-75.0 103.0 L-101.0 117.0 M-75.0 103.0 L-46.0 128.0 M-46.0 128.0 L-40.5 174.5 M-40.5 174.5 L-63.0 190.0 M-40.5 174.5 L2.0 190.5 M2.0 190.5 L2.0 210.4 M2.0 190.5 L36.8 163.3 M36.8 163.3 L32.0 118.5 M36.8 163.3 L75.6 164.0 M75.6 164.0 L76.5 189.0 M-38 3 L-92 48 M-107 92 L-95 163 L-56 207" fill="none" stroke="#2e282c" stroke-width="1.95" stroke-linejoin="round"/><rect x="-11.5" y="-42" width="23" height="33" fill="none" stroke="#2e282c" stroke-width="2"/><rect x="-26" y="-9" width="52" height="5" fill="none" stroke="#2e282c" stroke-width="1.8"/><rect x="-26" y="-3" width="52" height="3" fill="#2e282c"/></g><g transform="translate(1425.6 1590.3)"><path d="M-41.4 0.0 L41.4 0.0 L71.7 28.5 L98.3 56.0 L108.5 101.0 L110.0 133.0 L95.0 170.0 L56.6 210.4 L-59.5 210.4 L-99.5 164.0 L-111.5 90.5 L-96.1 46.5 Z M-71.0 26.2 L-61.0 56.0 M-61.0 56.0 L-20.0 56.0 M-20.0 56.0 L12.5 30.0 M12.5 30.0 L6.0 0.0 M12.5 30.0 L55.0 45.0 M55.0 45.0 L71.7 28.5 M55.0 45.0 L63.4 89.5 M63.4 89.5 L90.0 117.7 M90.0 117.7 L108.5 101.0 M90.0 117.7 L75.6 164.0 M63.4 89.5 L32.0 118.5 M-20.0 56.0 L-10.0 104.0 M-10.0 104.0 L32.0 118.5 M-10.0 104.0 L-46.0 128.0 M-61.0 56.0 L-75.0 103.0 M-75.0 103.0 L-101.0 117.0 M-75.0 103.0 L-46.0 128.0 M-46.0 128.0 L-40.5 174.5 M-40.5 174.5 L-63.0 190.0 M-40.5 174.5 L2.0 190.5 M2.0 190.5 L2.0 210.4 M2.0 190.5 L36.8 163.3 M36.8 163.3 L32.0 118.5 M36.8 163.3 L75.6 164.0 M75.6 164.0 L76.5 189.0 M-38 3 L-92 48 M-107 92 L-95 163 L-56 207" fill="none" stroke="#2e282c" stroke-width="1.95" stroke-linejoin="round"/><rect x="-11.5" y="-42" width="23" height="33" fill="none" stroke="#2e282c" stroke-width="2"/><rect x="-26" y="-9" width="52" height="5" fill="none" stroke="#2e282c" stroke-width="1.8"/><rect x="-26" y="-3" width="52" height="3" fill="#2e282c"/><g fill="none" stroke="#2e282c" stroke-width="1.8"><rect x="-24" y="4.5" width="48" height="6"/><rect x="-21" y="10.5" width="41" height="34"/><rect x="-15" y="44.5" width="28" height="13"/><path d="M-7 69 V89 M-3 69 V89 M3 69 V89 M7 69 V89" stroke-width="1.6"/><rect x="-11" y="89" width="21" height="18"/><rect x="-21" y="98" width="39" height="28"/><path d="M-8 114 V148 A8 8 0 0 0 8 148 V114 M-3 126 V144 A3 3 0 0 0 3 144 V126"/></g></g><circle cx="1498.2" cy="1719.0" r="39.5" fill="none" stroke="#2e282c" stroke-width="1.8"/><text x="1498.2" y="1752.5" text-anchor="middle" font-family="Liberation Sans" font-weight="bold" font-size="93.6" fill="#3b3035">6</text><rect x="432.2" y="1075.8" width="301.4" height="36.4" fill="none" stroke="#2e282c" stroke-width="2"/><path d="M406.7 1113 H759.1" stroke="#2e282c" stroke-width="3.5"/><path d="M450.5 1113 V1421.0 M484.0 1113 V1482.4 M514.4 1113 V1588.6 M536.7 1113 V1514.7 M559.1 1113 V1672.9 M581.2 1113 V1421.5 M604.8 1113 V1737.5 M625.4 1113 V1523.0 M649.7 1113 V1631.3 M680.1 1113 V1560.9 M716.1 1113 V1421.0 " stroke="#2e282c" stroke-width="3"/><g transform="translate(450.5 1439.0) scale(0.49)"><path d="M-41.4 0.0 L41.4 0.0 L71.7 28.5 L98.3 56.0 L108.5 101.0 L110.0 133.0 L95.0 170.0 L56.6 210.4 L-59.5 210.4 L-99.5 164.0 L-111.5 90.5 L-96.1 46.5 Z M-71.0 26.2 L-61.0 56.0 M-61.0 56.0 L-20.0 56.0 M-20.0 56.0 L12.5 30.0 M12.5 30.0 L6.0 0.0 M12.5 30.0 L55.0 45.0 M55.0 45.0 L71.7 28.5 M55.0 45.0 L63.4 89.5 M63.4 89.5 L90.0 117.7 M90.0 117.7 L108.5 101.0 M90.0 117.7 L75.6 164.0 M63.4 89.5 L32.0 118.5 M-20.0 56.0 L-10.0 104.0 M-10.0 104.0 L32.0 118.5 M-10.0 104.0 L-46.0 128.0 M-61.0 56.0 L-75.0 103.0 M-75.0 103.0 L-101.0 117.0 M-75.0 103.0 L-46.0 128.0 M-46.0 128.0 L-40.5 174.5 M-40.5 174.5 L-63.0 190.0 M-40.5 174.5 L2.0 190.5 M2.0 190.5 L2.0 210.4 M2.0 190.5 L36.8 163.3 M36.8 163.3 L32.0 118.5 M36.8 163.3 L75.6 164.0 M75.6 164.0 L76.5 189.0 M-38 3 L-92 48 M-107 92 L-95 163 L-56 207" fill="none" stroke="#2e282c" stroke-width="4.5" stroke-linejoin="round"/><rect x="-12" y="-38" width="24" height="30" fill="none" stroke="#2e282c" stroke-width="4"/><rect x="-27" y="-9" width="54" height="9" fill="#2e282c"/></g><g transform="translate(484.0 1500.4) scale(0.49)"><path d="M-41.4 0.0 L41.4 0.0 L71.7 28.5 L98.3 56.0 L108.5 101.0 L110.0 133.0 L95.0 170.0 L56.6 210.4 L-59.5 210.4 L-99.5 164.0 L-111.5 90.5 L-96.1 46.5 Z M-71.0 26.2 L-61.0 56.0 M-61.0 56.0 L-20.0 56.0 M-20.0 56.0 L12.5 30.0 M12.5 30.0 L6.0 0.0 M12.5 30.0 L55.0 45.0 M55.0 45.0 L71.7 28.5 M55.0 45.0 L63.4 89.5 M63.4 89.5 L90.0 117.7 M90.0 117.7 L108.5 101.0 M90.0 117.7 L75.6 164.0 M63.4 89.5 L32.0 118.5 M-20.0 56.0 L-10.0 104.0 M-10.0 104.0 L32.0 118.5 M-10.0 104.0 L-46.0 128.0 M-61.0 56.0 L-75.0 103.0 M-75.0 103.0 L-101.0 117.0 M-75.0 103.0 L-46.0 128.0 M-46.0 128.0 L-40.5 174.5 M-40.5 174.5 L-63.0 190.0 M-40.5 174.5 L2.0 190.5 M2.0 190.5 L2.0 210.4 M2.0 190.5 L36.8 163.3 M36.8 163.3 L32.0 118.5 M36.8 163.3 L75.6 164.0 M75.6 164.0 L76.5 189.0 M-38 3 L-92 48 M-107 92 L-95 163 L-56 207" fill="none" stroke="#2e282c" stroke-width="4.5" stroke-linejoin="round"/><rect x="-12" y="-38" width="24" height="30" fill="none" stroke="#2e282c" stroke-width="4"/><rect x="-27" y="-9" width="54" height="9" fill="#2e282c"/></g><g transform="translate(514.4 1606.6) scale(0.49)"><path d="M-41.4 0.0 L41.4 0.0 L71.7 28.5 L98.3 56.0 L108.5 101.0 L110.0 133.0 L95.0 170.0 L56.6 210.4 L-59.5 210.4 L-99.5 164.0 L-111.5 90.5 L-96.1 46.5 Z M-71.0 26.2 L-61.0 56.0 M-61.0 56.0 L-20.0 56.0 M-20.0 56.0 L12.5 30.0 M12.5 30.0 L6.0 0.0 M12.5 30.0 L55.0 45.0 M55.0 45.0 L71.7 28.5 M55.0 45.0 L63.4 89.5 M63.4 89.5 L90.0 117.7 M90.0 117.7 L108.5 101.0 M90.0 117.7 L75.6 164.0 M63.4 89.5 L32.0 118.5 M-20.0 56.0 L-10.0 104.0 M-10.0 104.0 L32.0 118.5 M-10.0 104.0 L-46.0 128.0 M-61.0 56.0 L-75.0 103.0 M-75.0 103.0 L-101.0 117.0 M-75.0 103.0 L-46.0 128.0 M-46.0 128.0 L-40.5 174.5 M-40.5 174.5 L-63.0 190.0 M-40.5 174.5 L2.0 190.5 M2.0 190.5 L2.0 210.4 M2.0 190.5 L36.8 163.3 M36.8 163.3 L32.0 118.5 M36.8 163.3 L75.6 164.0 M75.6 164.0 L76.5 189.0 M-38 3 L-92 48 M-107 92 L-95 163 L-56 207" fill="none" stroke="#2e282c" stroke-width="4.5" stroke-linejoin="round"/><rect x="-12" y="-38" width="24" height="30" fill="none" stroke="#2e282c" stroke-width="4"/><rect x="-27" y="-9" width="54" height="9" fill="#2e282c"/></g><g transform="translate(536.7 1532.7) scale(0.49)"><path d="M-41.4 0.0 L41.4 0.0 L71.7 28.5 L98.3 56.0 L108.5 101.0 L110.0 133.0 L95.0 170.0 L56.6 210.4 L-59.5 210.4 L-99.5 164.0 L-111.5 90.5 L-96.1 46.5 Z M-71.0 26.2 L-61.0 56.0 M-61.0 56.0 L-20.0 56.0 M-20.0 56.0 L12.5 30.0 M12.5 30.0 L6.0 0.0 M12.5 30.0 L55.0 45.0 M55.0 45.0 L71.7 28.5 M55.0 45.0 L63.4 89.5 M63.4 89.5 L90.0 117.7 M90.0 117.7 L108.5 101.0 M90.0 117.7 L75.6 164.0 M63.4 89.5 L32.0 118.5 M-20.0 56.0 L-10.0 104.0 M-10.0 104.0 L32.0 118.5 M-10.0 104.0 L-46.0 128.0 M-61.0 56.0 L-75.0 103.0 M-75.0 103.0 L-101.0 117.0 M-75.0 103.0 L-46.0 128.0 M-46.0 128.0 L-40.5 174.5 M-40.5 174.5 L-63.0 190.0 M-40.5 174.5 L2.0 190.5 M2.0 190.5 L2.0 210.4 M2.0 190.5 L36.8 163.3 M36.8 163.3 L32.0 118.5 M36.8 163.3 L75.6 164.0 M75.6 164.0 L76.5 189.0 M-38 3 L-92 48 M-107 92 L-95 163 L-56 207" fill="none" stroke="#2e282c" stroke-width="4.5" stroke-linejoin="round"/><rect x="-12" y="-38" width="24" height="30" fill="none" stroke="#2e282c" stroke-width="4"/><rect x="-27" y="-9" width="54" height="9" fill="#2e282c"/></g><g transform="translate(559.1 1690.9) scale(0.49)"><path d="M-41.4 0.0 L41.4 0.0 L71.7 28.5 L98.3 56.0 L108.5 101.0 L110.0 133.0 L95.0 170.0 L56.6 210.4 L-59.5 210.4 L-99.5 164.0 L-111.5 90.5 L-96.1 46.5 Z M-71.0 26.2 L-61.0 56.0 M-61.0 56.0 L-20.0 56.0 M-20.0 56.0 L12.5 30.0 M12.5 30.0 L6.0 0.0 M12.5 30.0 L55.0 45.0 M55.0 45.0 L71.7 28.5 M55.0 45.0 L63.4 89.5 M63.4 89.5 L90.0 117.7 M90.0 117.7 L108.5 101.0 M90.0 117.7 L75.6 164.0 M63.4 89.5 L32.0 118.5 M-20.0 56.0 L-10.0 104.0 M-10.0 104.0 L32.0 118.5 M-10.0 104.0 L-46.0 128.0 M-61.0 56.0 L-75.0 103.0 M-75.0 103.0 L-101.0 117.0 M-75.0 103.0 L-46.0 128.0 M-46.0 128.0 L-40.5 174.5 M-40.5 174.5 L-63.0 190.0 M-40.5 174.5 L2.0 190.5 M2.0 190.5 L2.0 210.4 M2.0 190.5 L36.8 163.3 M36.8 163.3 L32.0 118.5 M36.8 163.3 L75.6 164.0 M75.6 164.0 L76.5 189.0 M-38 3 L-92 48 M-107 92 L-95 163 L-56 207" fill="none" stroke="#2e282c" stroke-width="4.5" stroke-linejoin="round"/><rect x="-12" y="-38" width="24" height="30" fill="none" stroke="#2e282c" stroke-width="4"/><rect x="-27" y="-9" width="54" height="9" fill="#2e282c"/></g><g transform="translate(581.2 1439.5) scale(0.49)"><path d="M-41.4 0.0 L41.4 0.0 L71.7 28.5 L98.3 56.0 L108.5 101.0 L110.0 133.0 L95.0 170.0 L56.6 210.4 L-59.5 210.4 L-99.5 164.0 L-111.5 90.5 L-96.1 46.5 Z M-71.0 26.2 L-61.0 56.0 M-61.0 56.0 L-20.0 56.0 M-20.0 56.0 L12.5 30.0 M12.5 30.0 L6.0 0.0 M12.5 30.0 L55.0 45.0 M55.0 45.0 L71.7 28.5 M55.0 45.0 L63.4 89.5 M63.4 89.5 L90.0 117.7 M90.0 117.7 L108.5 101.0 M90.0 117.7 L75.6 164.0 M63.4 89.5 L32.0 118.5 M-20.0 56.0 L-10.0 104.0 M-10.0 104.0 L32.0 118.5 M-10.0 104.0 L-46.0 128.0 M-61.0 56.0 L-75.0 103.0 M-75.0 103.0 L-101.0 117.0 M-75.0 103.0 L-46.0 128.0 M-46.0 128.0 L-40.5 174.5 M-40.5 174.5 L-63.0 190.0 M-40.5 174.5 L2.0 190.5 M2.0 190.5 L2.0 210.4 M2.0 190.5 L36.8 163.3 M36.8 163.3 L32.0 118.5 M36.8 163.3 L75.6 164.0 M75.6 164.0 L76.5 189.0 M-38 3 L-92 48 M-107 92 L-95 163 L-56 207" fill="none" stroke="#2e282c" stroke-width="4.5" stroke-linejoin="round"/><rect x="-12" y="-38" width="24" height="30" fill="none" stroke="#2e282c" stroke-width="4"/><rect x="-27" y="-9" width="54" height="9" fill="#2e282c"/></g><g transform="translate(604.8 1755.5) scale(0.49)"><path d="M-41.4 0.0 L41.4 0.0 L71.7 28.5 L98.3 56.0 L108.5 101.0 L110.0 133.0 L95.0 170.0 L56.6 210.4 L-59.5 210.4 L-99.5 164.0 L-111.5 90.5 L-96.1 46.5 Z M-71.0 26.2 L-61.0 56.0 M-61.0 56.0 L-20.0 56.0 M-20.0 56.0 L12.5 30.0 M12.5 30.0 L6.0 0.0 M12.5 30.0 L55.0 45.0 M55.0 45.0 L71.7 28.5 M55.0 45.0 L63.4 89.5 M63.4 89.5 L90.0 117.7 M90.0 117.7 L108.5 101.0 M90.0 117.7 L75.6 164.0 M63.4 89.5 L32.0 118.5 M-20.0 56.0 L-10.0 104.0 M-10.0 104.0 L32.0 118.5 M-10.0 104.0 L-46.0 128.0 M-61.0 56.0 L-75.0 103.0 M-75.0 103.0 L-101.0 117.0 M-75.0 103.0 L-46.0 128.0 M-46.0 128.0 L-40.5 174.5 M-40.5 174.5 L-63.0 190.0 M-40.5 174.5 L2.0 190.5 M2.0 190.5 L2.0 210.4 M2.0 190.5 L36.8 163.3 M36.8 163.3 L32.0 118.5 M36.8 163.3 L75.6 164.0 M75.6 164.0 L76.5 189.0 M-38 3 L-92 48 M-107 92 L-95 163 L-56 207" fill="none" stroke="#2e282c" stroke-width="4.5" stroke-linejoin="round"/><rect x="-12" y="-38" width="24" height="30" fill="none" stroke="#2e282c" stroke-width="4"/><rect x="-27" y="-9" width="54" height="9" fill="#2e282c"/></g><g transform="translate(625.4 1541.0) scale(0.49)"><path d="M-41.4 0.0 L41.4 0.0 L71.7 28.5 L98.3 56.0 L108.5 101.0 L110.0 133.0 L95.0 170.0 L56.6 210.4 L-59.5 210.4 L-99.5 164.0 L-111.5 90.5 L-96.1 46.5 Z M-71.0 26.2 L-61.0 56.0 M-61.0 56.0 L-20.0 56.0 M-20.0 56.0 L12.5 30.0 M12.5 30.0 L6.0 0.0 M12.5 30.0 L55.0 45.0 M55.0 45.0 L71.7 28.5 M55.0 45.0 L63.4 89.5 M63.4 89.5 L90.0 117.7 M90.0 117.7 L108.5 101.0 M90.0 117.7 L75.6 164.0 M63.4 89.5 L32.0 118.5 M-20.0 56.0 L-10.0 104.0 M-10.0 104.0 L32.0 118.5 M-10.0 104.0 L-46.0 128.0 M-61.0 56.0 L-75.0 103.0 M-75.0 103.0 L-101.0 117.0 M-75.0 103.0 L-46.0 128.0 M-46.0 128.0 L-40.5 174.5 M-40.5 174.5 L-63.0 190.0 M-40.5 174.5 L2.0 190.5 M2.0 190.5 L2.0 210.4 M2.0 190.5 L36.8 163.3 M36.8 163.3 L32.0 118.5 M36.8 163.3 L75.6 164.0 M75.6 164.0 L76.5 189.0 M-38 3 L-92 48 M-107 92 L-95 163 L-56 207" fill="none" stroke="#2e282c" stroke-width="4.5" stroke-linejoin="round"/><rect x="-12" y="-38" width="24" height="30" fill="none" stroke="#2e282c" stroke-width="4"/><rect x="-27" y="-9" width="54" height="9" fill="#2e282c"/></g><g transform="translate(649.7 1649.3) scale(0.49)"><path d="M-41.4 0.0 L41.4 0.0 L71.7 28.5 L98.3 56.0 L108.5 101.0 L110.0 133.0 L95.0 170.0 L56.6 210.4 L-59.5 210.4 L-99.5 164.0 L-111.5 90.5 L-96.1 46.5 Z M-71.0 26.2 L-61.0 56.0 M-61.0 56.0 L-20.0 56.0 M-20.0 56.0 L12.5 30.0 M12.5 30.0 L6.0 0.0 M12.5 30.0 L55.0 45.0 M55.0 45.0 L71.7 28.5 M55.0 45.0 L63.4 89.5 M63.4 89.5 L90.0 117.7 M90.0 117.7 L108.5 101.0 M90.0 117.7 L75.6 164.0 M63.4 89.5 L32.0 118.5 M-20.0 56.0 L-10.0 104.0 M-10.0 104.0 L32.0 118.5 M-10.0 104.0 L-46.0 128.0 M-61.0 56.0 L-75.0 103.0 M-75.0 103.0 L-101.0 117.0 M-75.0 103.0 L-46.0 128.0 M-46.0 128.0 L-40.5 174.5 M-40.5 174.5 L-63.0 190.0 M-40.5 174.5 L2.0 190.5 M2.0 190.5 L2.0 210.4 M2.0 190.5 L36.8 163.3 M36.8 163.3 L32.0 118.5 M36.8 163.3 L75.6 164.0 M75.6 164.0 L76.5 189.0 M-38 3 L-92 48 M-107 92 L-95 163 L-56 207" fill="none" stroke="#2e282c" stroke-width="4.5" stroke-linejoin="round"/><rect x="-12" y="-38" width="24" height="30" fill="none" stroke="#2e282c" stroke-width="4"/><rect x="-27" y="-9" width="54" height="9" fill="#2e282c"/></g><g transform="translate(680.1 1578.9) scale(0.49)"><path d="M-41.4 0.0 L41.4 0.0 L71.7 28.5 L98.3 56.0 L108.5 101.0 L110.0 133.0 L95.0 170.0 L56.6 210.4 L-59.5 210.4 L-99.5 164.0 L-111.5 90.5 L-96.1 46.5 Z M-71.0 26.2 L-61.0 56.0 M-61.0 56.0 L-20.0 56.0 M-20.0 56.0 L12.5 30.0 M12.5 30.0 L6.0 0.0 M12.5 30.0 L55.0 45.0 M55.0 45.0 L71.7 28.5 M55.0 45.0 L63.4 89.5 M63.4 89.5 L90.0 117.7 M90.0 117.7 L108.5 101.0 M90.0 117.7 L75.6 164.0 M63.4 89.5 L32.0 118.5 M-20.0 56.0 L-10.0 104.0 M-10.0 104.0 L32.0 118.5 M-10.0 104.0 L-46.0 128.0 M-61.0 56.0 L-75.0 103.0 M-75.0 103.0 L-101.0 117.0 M-75.0 103.0 L-46.0 128.0 M-46.0 128.0 L-40.5 174.5 M-40.5 174.5 L-63.0 190.0 M-40.5 174.5 L2.0 190.5 M2.0 190.5 L2.0 210.4 M2.0 190.5 L36.8 163.3 M36.8 163.3 L32.0 118.5 M36.8 163.3 L75.6 164.0 M75.6 164.0 L76.5 189.0 M-38 3 L-92 48 M-107 92 L-95 163 L-56 207" fill="none" stroke="#2e282c" stroke-width="4.5" stroke-linejoin="round"/><rect x="-12" y="-38" width="24" height="30" fill="none" stroke="#2e282c" stroke-width="4"/><rect x="-27" y="-9" width="54" height="9" fill="#2e282c"/></g><g transform="translate(716.1 1439.0) scale(0.49)"><path d="M-41.4 0.0 L41.4 0.0 L71.7 28.5 L98.3 56.0 L108.5 101.0 L110.0 133.0 L95.0 170.0 L56.6 210.4 L-59.5 210.4 L-99.5 164.0 L-111.5 90.5 L-96.1 46.5 Z M-71.0 26.2 L-61.0 56.0 M-61.0 56.0 L-20.0 56.0 M-20.0 56.0 L12.5 30.0 M12.5 30.0 L6.0 0.0 M12.5 30.0 L55.0 45.0 M55.0 45.0 L71.7 28.5 M55.0 45.0 L63.4 89.5 M63.4 89.5 L90.0 117.7 M90.0 117.7 L108.5 101.0 M90.0 117.7 L75.6 164.0 M63.4 89.5 L32.0 118.5 M-20.0 56.0 L-10.0 104.0 M-10.0 104.0 L32.0 118.5 M-10.0 104.0 L-46.0 128.0 M-61.0 56.0 L-75.0 103.0 M-75.0 103.0 L-101.0 117.0 M-75.0 103.0 L-46.0 128.0 M-46.0 128.0 L-40.5 174.5 M-40.5 174.5 L-63.0 190.0 M-40.5 174.5 L2.0 190.5 M2.0 190.5 L2.0 210.4 M2.0 190.5 L36.8 163.3 M36.8 163.3 L32.0 118.5 M36.8 163.3 L75.6 164.0 M75.6 164.0 L76.5 189.0 M-38 3 L-92 48 M-107 92 L-95 163 L-56 207" fill="none" stroke="#2e282c" stroke-width="4.5" stroke-linejoin="round"/><rect x="-12" y="-38" width="24" height="30" fill="none" stroke="#2e282c" stroke-width="4"/><rect x="-27" y="-9" width="54" height="9" fill="#2e282c"/></g><path d="M120 1327.5 H1900" stroke="#fff" stroke-width="1.6"/><path d="M160 1326.8 H1880" stroke="#c8c8d0" stroke-width="0.8" stroke-dasharray="14 22" opacity="0.35"/><rect x="154" y="1752.4" width="94.5" height="612.6" fill="#3b3035"/><text transform="translate(216.5 2341.5) rotate(-90)" font-family="Liberation Sans" font-size="59" fill="#fff" textLength="514" lengthAdjust="spacingAndGlyphs">Installation Diagram</text></svg></body></html>
